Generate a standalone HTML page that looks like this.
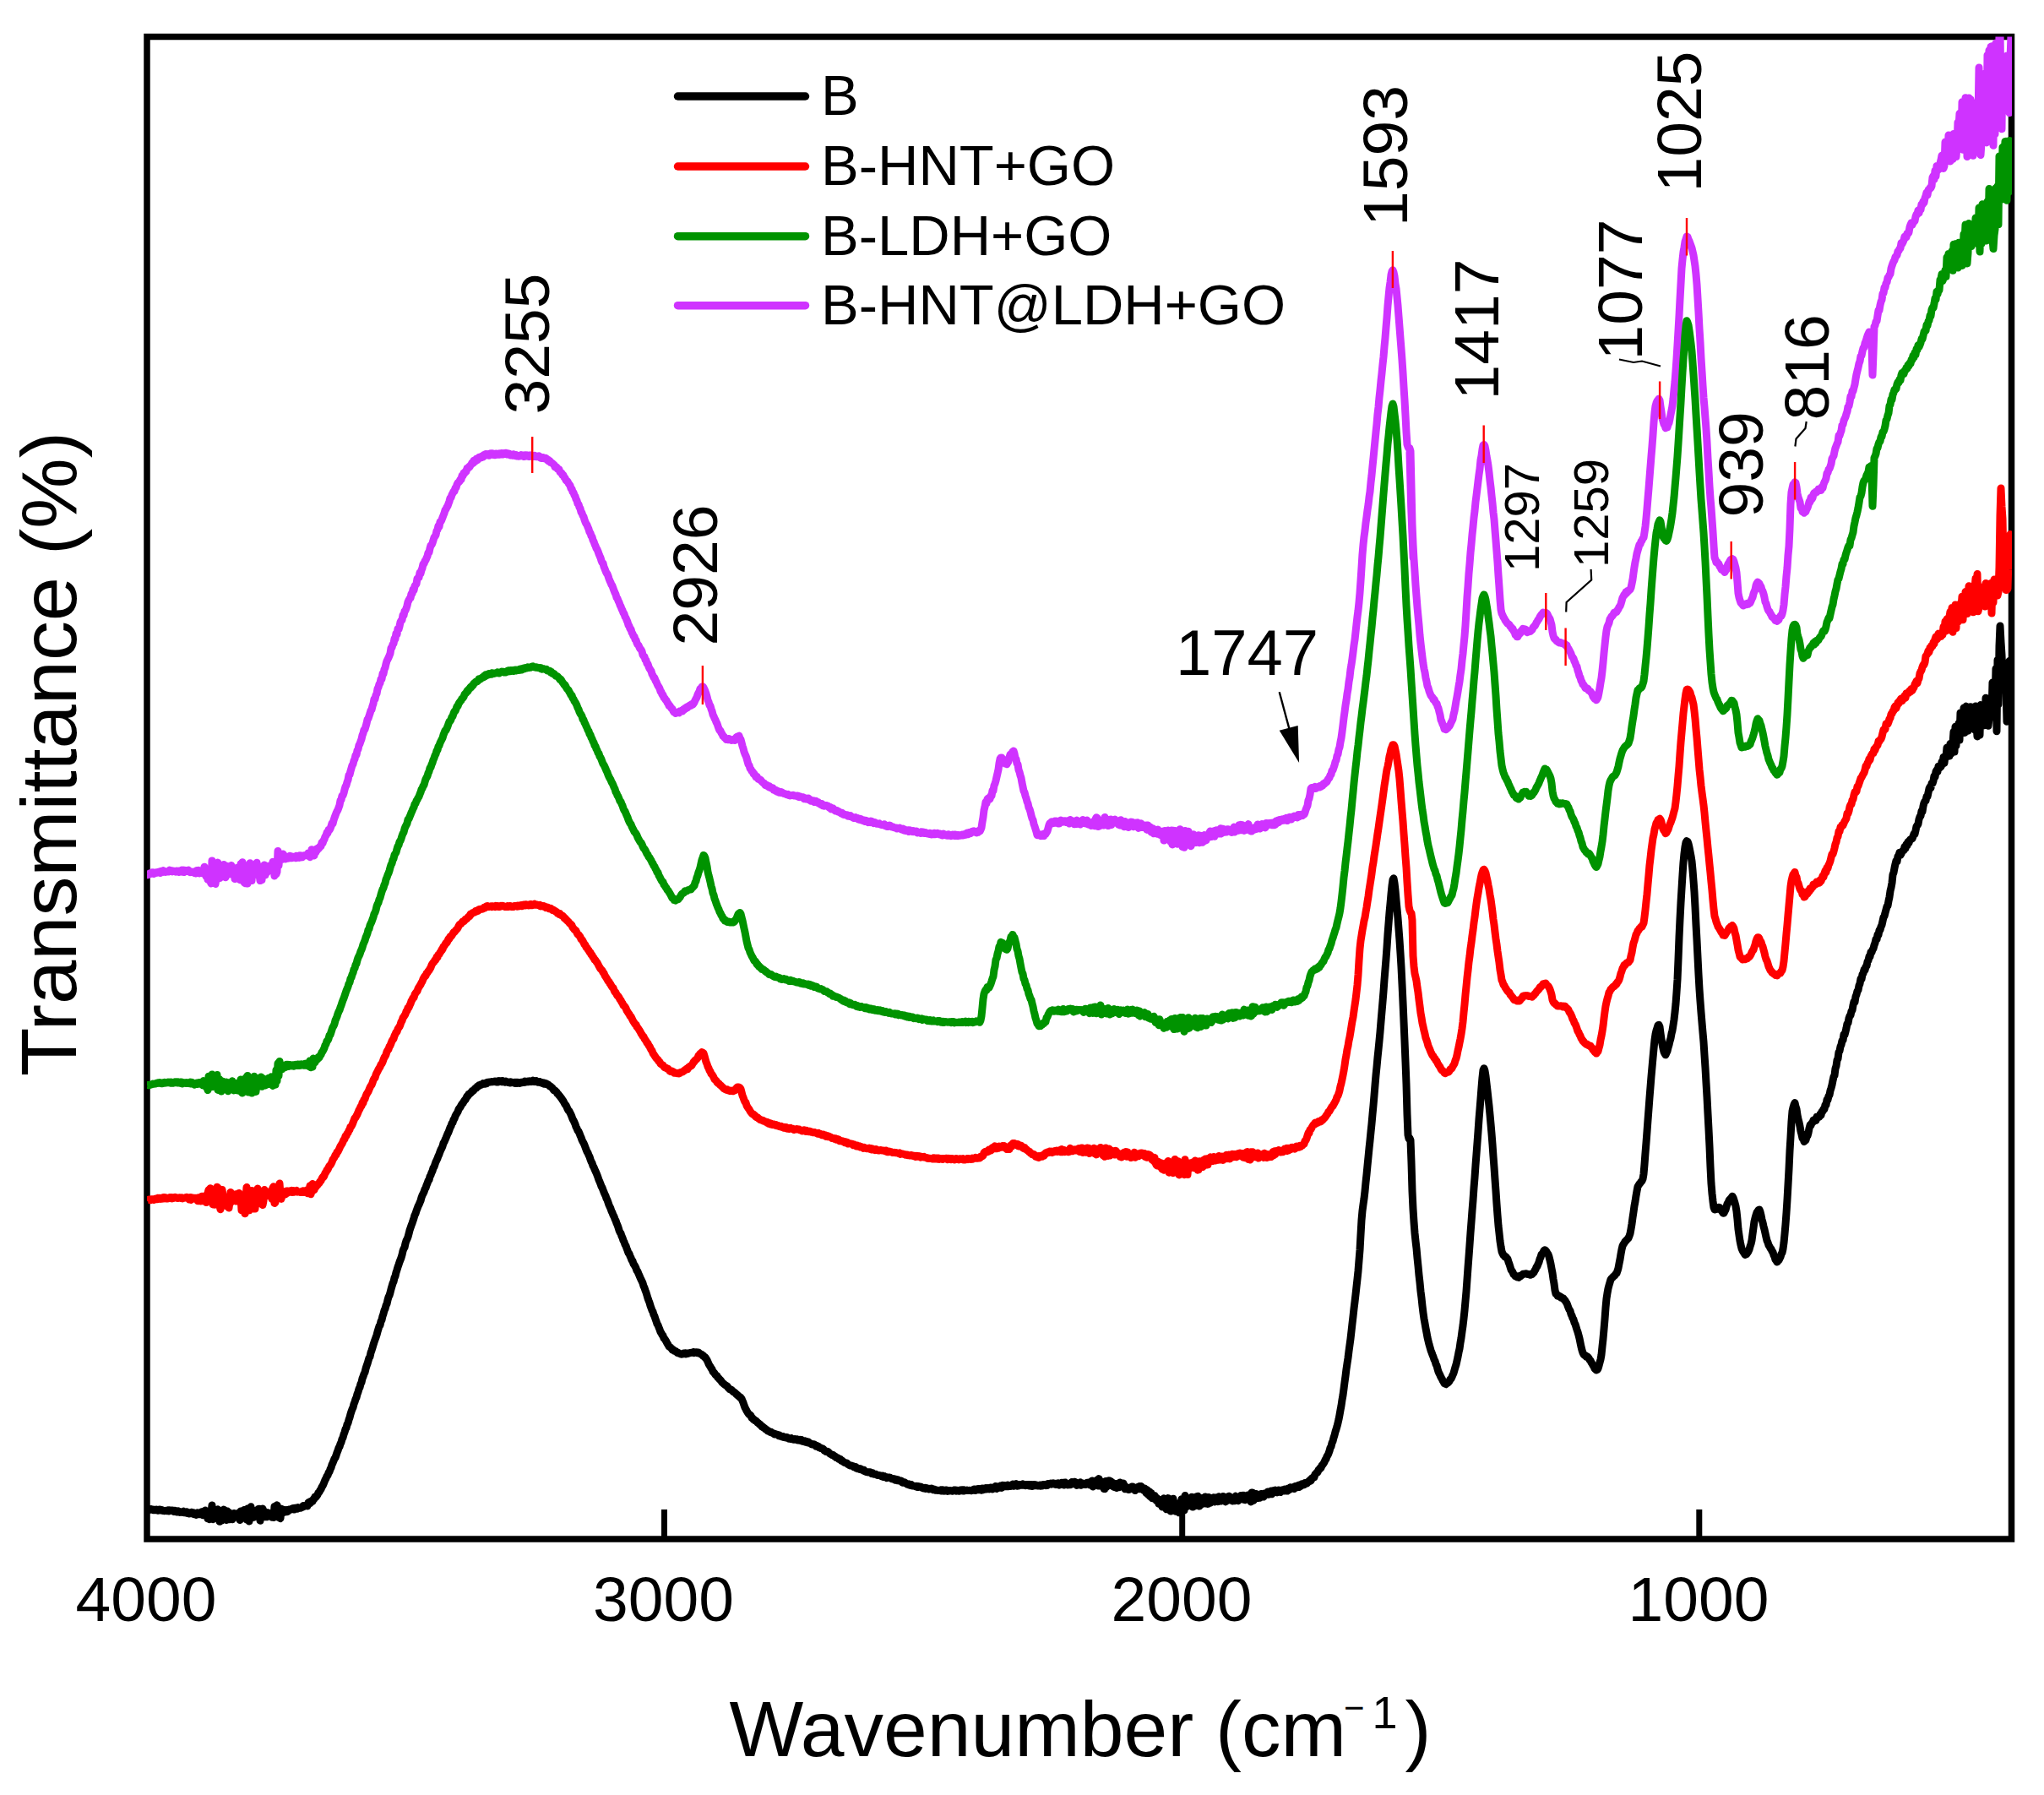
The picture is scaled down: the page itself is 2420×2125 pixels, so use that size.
<!DOCTYPE html>
<html><head><meta charset="utf-8"><title>FTIR spectra</title>
<style>html,body{margin:0;padding:0;background:#fff}svg{display:block}</style>
</head><body>
<svg width="2420" height="2125" viewBox="0 0 2420 2125" font-family="'Liberation Sans', Arial, sans-serif" fill="#000">
<rect width="2420" height="2125" fill="#fff"/>
<defs><clipPath id="c"><rect x="174.0" y="43.5" width="2208.0" height="1778.5"/></clipPath></defs>
<rect x="174.0" y="43.5" width="2207.5" height="1778.5" fill="none" stroke="#000" stroke-width="7.5"/>
<g stroke="#000" stroke-width="7">
<line x1="786.5" y1="1787" x2="786.5" y2="1822"/>
<line x1="1399.7" y1="1787" x2="1399.7" y2="1822"/>
<line x1="2011.8" y1="1787" x2="2011.8" y2="1822"/>
</g>
<g clip-path="url(#c)">
<path d="M1668.5,536 L1670.2,600 L1672.6,660" fill="none" stroke="#cf33ff" stroke-width="8" stroke-linecap="round"/>
<path d="M174.0,1035.7 L175.0,1035.8 L176.0,1035.5 L177.0,1034.1 L178.0,1034.6 L179.0,1033.1 L180.0,1033.8 L181.0,1032.8 L182.0,1034.4 L183.0,1033.9 L184.0,1033.6 L185.0,1032.7 L186.0,1033.2 L187.0,1032.3 L188.0,1032.1 L189.0,1031.9 L190.0,1033.5 L191.0,1031.3 L192.0,1031.4 L193.0,1030.8 L194.0,1032.2 L195.0,1031.6 L196.0,1032.4 L197.0,1031.8 L198.0,1031.7 L199.0,1032.1 L200.0,1032.0 L201.0,1030.2 L202.0,1030.6 L203.0,1030.7 L204.0,1031.9 L205.0,1031.0 L206.0,1031.4 L207.0,1031.6 L208.0,1032.2 L209.0,1031.0 L210.0,1031.8 L211.0,1031.2 L212.0,1032.5 L213.0,1031.1 L214.0,1031.8 L215.0,1030.1 L216.0,1032.2 L217.0,1030.1 L218.0,1032.5 L219.0,1030.3 L220.0,1031.8 L221.0,1030.6 L222.0,1030.7 L223.0,1030.1 L224.0,1031.0 L225.0,1032.7 L226.0,1031.9 L227.0,1032.5 L228.0,1032.4 L229.0,1032.1 L230.0,1033.5 L231.0,1032.6 L232.0,1034.1 L233.0,1030.5 L234.0,1033.4 L235.0,1030.2 L236.0,1033.9 L237.0,1032.6 L238.0,1033.5 L239.0,1031.0 L240.0,1033.9 L241.0,1031.3 L242.0,1026.2 L243.0,1033.8 L244.0,1037.5 L245.0,1029.3 L246.0,1041.3 L247.0,1039.8 L248.0,1034.5 L249.0,1043.8 L250.0,1046.0 L251.0,1018.9 L252.0,1041.0 L253.0,1035.4 L254.0,1035.9 L255.0,1046.4 L256.0,1040.4 L257.0,1029.7 L258.0,1021.1 L259.0,1024.8 L260.0,1039.5 L261.0,1028.4 L262.0,1037.5 L263.0,1030.0 L264.0,1034.1 L265.0,1023.5 L266.0,1037.9 L267.0,1038.7 L268.0,1036.5 L269.0,1025.4 L270.0,1034.1 L271.0,1029.4 L272.0,1032.2 L273.0,1034.8 L274.0,1024.6 L275.0,1027.7 L276.0,1029.7 L277.0,1029.0 L278.0,1040.5 L279.0,1036.2 L280.0,1038.3 L281.0,1027.3 L282.0,1036.8 L283.0,1028.2 L284.0,1041.7 L285.0,1022.7 L286.0,1031.0 L287.0,1020.8 L288.0,1032.1 L289.0,1044.5 L290.0,1045.7 L291.0,1030.5 L292.0,1039.9 L293.0,1046.0 L294.0,1034.7 L295.0,1023.9 L296.0,1021.7 L297.0,1026.0 L298.0,1042.6 L299.0,1029.7 L300.0,1035.7 L301.0,1028.3 L302.0,1035.2 L303.0,1028.4 L304.0,1021.3 L305.0,1025.8 L306.0,1028.2 L307.0,1035.4 L308.0,1042.6 L309.0,1027.1 L310.0,1041.7 L311.0,1026.7 L312.0,1035.8 L313.0,1024.0 L314.0,1036.1 L315.0,1027.1 L316.0,1033.0 L317.0,1025.7 L318.0,1028.0 L319.0,1025.1 L320.0,1030.4 L321.0,1026.7 L322.0,1025.3 L323.0,1020.3 L324.0,1025.4 L325.0,1037.0 L326.0,1035.1 L327.0,1034.8 L328.0,1032.2 L329.0,1007.4 L330.0,1024.5 L331.0,1013.8 L332.0,1015.0 L333.0,1015.5 L334.0,1017.5 L335.0,1011.0 L336.0,1012.2 L337.0,1014.9 L338.0,1016.9 L339.0,1014.2 L340.0,1016.3 L341.0,1016.3 L342.0,1014.4 L343.0,1013.3 L344.0,1015.7 L345.0,1013.8 L346.0,1015.8 L347.0,1014.4 L348.0,1014.5 L349.0,1013.9 L350.0,1015.7 L351.0,1013.2 L352.0,1015.4 L353.0,1013.9 L354.0,1015.4 L355.0,1012.7 L356.0,1015.1 L357.0,1012.9 L358.0,1014.8 L359.0,1013.1 L360.0,1013.2 L361.0,1012.7 L362.0,1012.2 L363.0,1011.9 L364.0,1012.8 L365.0,1009.9 L366.0,1011.1 L367.0,1014.7 L368.0,1012.3 L369.0,1005.7 L370.0,1010.5 L371.0,1011.1 L372.0,1012.9 L373.0,1005.9 L374.0,1009.0 L375.0,1004.7 L376.0,1006.1 L377.0,1003.7 L378.0,1003.9 L379.0,1001.7 L380.0,1001.7 L381.0,997.4 L382.0,998.3 L383.0,995.3 L384.0,993.5 L385.0,990.4 L386.0,989.1 L387.0,985.8 L388.0,986.0 L389.0,982.5 L390.0,982.6 L391.0,980.9 L392.0,978.2 L393.0,974.8 L394.0,975.2 L395.0,971.1 L396.0,968.1 L397.0,965.4 L398.0,962.7 L399.0,960.5 L400.0,958.9 L401.0,956.0 L402.0,953.3 L403.0,947.7 L404.0,946.7 L405.0,942.0 L406.0,941.8 L407.0,938.9 L408.0,934.8 L409.0,931.3 L410.0,929.6 L411.0,925.9 L412.0,923.4 L413.0,917.8 L414.0,917.1 L415.0,912.9 L416.0,909.5 L417.0,906.1 L418.0,904.5 L419.0,900.5 L420.0,898.5 L421.0,894.0 L422.0,893.7 L423.0,888.5 L424.0,886.9 L425.0,882.2 L426.0,880.7 L427.0,877.7 L428.0,874.9 L429.0,870.4 L430.0,868.0 L431.0,863.9 L432.0,863.4 L433.0,859.9 L434.0,856.6 L435.0,851.8 L436.0,850.7 L437.0,847.7 L438.0,844.7 L439.0,841.1 L440.0,840.1 L441.0,835.9 L442.0,833.0 L443.0,827.7 L444.0,827.6 L445.0,823.0 L446.0,821.3 L447.0,815.6 L448.0,813.6 L449.0,810.0 L450.0,808.7 L451.0,803.9 L452.0,803.9 L453.0,797.6 L454.0,797.6 L455.0,792.4 L456.0,790.4 L457.0,786.0 L458.0,782.5 L459.0,780.6 L460.0,778.6 L461.0,776.1 L462.0,773.6 L463.0,767.3 L464.0,766.6 L465.0,762.9 L466.0,762.1 L467.0,756.3 L468.0,756.2 L469.0,749.8 L470.0,751.0 L471.0,744.5 L472.0,745.0 L473.0,741.5 L474.0,736.6 L475.0,734.7 L476.0,734.0 L477.0,728.2 L478.0,728.6 L479.0,723.6 L480.0,722.7 L481.0,720.2 L482.0,717.0 L483.0,712.6 L484.0,710.7 L485.0,708.5 L486.0,708.0 L487.0,703.0 L488.0,702.8 L489.0,697.8 L490.0,698.9 L491.0,693.8 L492.0,692.5 L493.0,691.2 L494.0,685.1 L495.0,684.3 L496.0,683.6 L497.0,678.0 L498.0,679.0 L499.0,675.0 L500.0,672.5 L501.0,667.7 L502.0,667.5 L503.0,664.3 L504.0,663.3 L505.0,660.6 L506.0,658.6 L507.0,654.3 L508.0,654.0 L509.0,649.2 L510.0,645.7 L511.0,644.9 L512.0,642.9 L513.0,639.7 L514.0,636.3 L515.0,635.0 L516.0,633.2 L517.0,628.5 L518.0,627.1 L519.0,622.5 L520.0,623.5 L521.0,617.7 L522.0,617.5 L523.0,615.3 L524.0,612.6 L525.0,610.0 L526.0,607.5 L527.0,604.0 L528.0,602.8 L529.0,600.4 L530.0,599.2 L531.0,596.2 L532.0,593.5 L533.0,589.7 L534.0,589.1 L535.0,585.7 L536.0,584.0 L537.0,581.7 L538.0,581.6 L539.0,577.8 L540.0,577.4 L541.0,573.7 L542.0,571.7 L543.0,571.0 L544.0,569.9 L545.0,567.6 L546.0,567.8 L547.0,563.1 L548.0,563.4 L549.0,560.0 L550.0,560.4 L551.0,557.9 L552.0,558.0 L553.0,554.5 L554.0,554.7 L555.0,552.8 L556.0,552.8 L557.0,550.9 L558.0,549.9 L559.0,547.7 L560.0,548.6 L561.0,545.3 L562.0,546.7 L563.0,545.9 L564.0,543.2 L565.0,544.7 L566.0,543.8 L567.0,541.3 L568.0,542.2 L569.0,540.9 L570.0,541.7 L571.0,539.9 L572.0,541.0 L573.0,538.5 L574.0,538.5 L575.0,537.4 L576.0,538.7 L577.0,537.6 L578.0,538.3 L579.0,539.3 L580.0,537.2 L581.0,536.8 L582.0,538.1 L583.0,536.7 L584.0,538.5 L585.0,538.4 L586.0,538.7 L587.0,536.9 L588.0,536.9 L589.0,538.2 L590.0,538.3 L591.0,536.8 L592.0,538.1 L593.0,537.5 L594.0,536.5 L595.0,538.1 L596.0,537.4 L597.0,536.4 L598.0,537.4 L599.0,536.2 L600.0,538.0 L601.0,538.1 L602.0,536.9 L603.0,537.3 L604.0,538.9 L605.0,538.1 L606.0,539.1 L607.0,539.2 L608.0,537.7 L609.0,539.1 L610.0,539.6 L611.0,538.5 L612.0,540.0 L613.0,539.3 L614.0,540.2 L615.0,539.9 L616.0,539.9 L617.0,538.6 L618.0,539.3 L619.0,539.1 L620.0,540.5 L621.0,538.8 L622.0,540.2 L623.0,538.7 L624.0,540.1 L625.0,538.9 L626.0,540.5 L627.0,540.4 L628.0,538.9 L629.0,539.1 L630.0,540.2 L631.0,540.0 L632.0,540.5 L633.0,539.3 L634.0,540.3 L635.0,540.8 L636.0,540.7 L637.0,540.0 L638.0,539.7 L639.0,540.5 L640.0,542.1 L641.0,542.4 L642.0,542.3 L643.0,541.4 L644.0,542.7 L645.0,542.5 L646.0,542.3 L647.0,543.1 L648.0,544.9 L649.0,544.2 L650.0,546.3 L651.0,545.7 L652.0,547.6 L653.0,547.7 L654.0,548.5 L655.0,549.4 L656.0,550.2 L657.0,552.8 L658.0,552.3 L659.0,553.2 L660.0,555.1 L661.0,555.1 L662.0,555.8 L663.0,558.9 L664.0,559.6 L665.0,560.1 L666.0,562.7 L667.0,562.5 L668.0,565.2 L669.0,565.8 L670.0,568.4 L671.0,569.3 L672.0,570.0 L673.0,571.9 L674.0,573.4 L675.0,574.7 L676.0,578.3 L677.0,578.8 L678.0,582.2 L679.0,583.1 L680.0,586.2 L681.0,587.6 L682.0,590.8 L683.0,592.6 L684.0,596.2 L685.0,597.1 L686.0,600.6 L687.0,602.1 L688.0,606.3 L689.0,607.3 L690.0,610.3 L691.0,611.8 L692.0,615.2 L693.0,618.0 L694.0,620.1 L695.0,621.4 L696.0,624.2 L697.0,626.4 L698.0,629.9 L699.0,631.1 L700.0,634.5 L701.0,635.6 L702.0,639.4 L703.0,641.2 L704.0,644.2 L705.0,646.2 L706.0,649.2 L707.0,650.3 L708.0,652.8 L709.0,655.7 L710.0,658.1 L711.0,660.3 L712.0,663.9 L713.0,666.0 L714.0,666.9 L715.0,671.0 L716.0,673.3 L717.0,675.9 L718.0,678.3 L719.0,679.5 L720.0,681.9 L721.0,685.1 L722.0,687.6 L723.0,689.7 L724.0,692.3 L725.0,693.6 L726.0,696.5 L727.0,699.3 L728.0,701.7 L729.0,703.6 L730.0,707.3 L731.0,708.5 L732.0,711.3 L733.0,713.2 L734.0,716.2 L735.0,718.0 L736.0,720.9 L737.0,722.6 L738.0,725.5 L739.0,726.7 L740.0,730.1 L741.0,731.5 L742.0,734.1 L743.0,736.4 L744.0,740.0 L745.0,741.2 L746.0,744.6 L747.0,744.8 L748.0,748.7 L749.0,750.2 L750.0,752.9 L751.0,753.6 L752.0,757.0 L753.0,757.9 L754.0,761.2 L755.0,763.1 L756.0,763.9 L757.0,766.4 L758.0,768.1 L759.0,769.1 L760.0,771.0 L761.0,775.1 L762.0,776.8 L763.0,777.5 L764.0,781.1 L765.0,781.8 L766.0,785.6 L767.0,786.1 L768.0,789.2 L769.0,791.5 L770.0,792.9 L771.0,794.4 L772.0,798.0 L773.0,799.7 L774.0,802.2 L775.0,802.5 L776.0,805.7 L777.0,807.2 L778.0,809.6 L779.0,811.7 L780.0,813.2 L781.0,815.1 L782.0,818.6 L783.0,819.3 L784.0,822.5 L785.0,822.7 L786.0,826.1 L787.0,826.5 L788.0,828.6 L789.0,829.2 L790.0,831.7 L791.0,832.7 L792.0,835.3 L793.0,835.3 L794.0,837.2 L795.0,838.6 L796.0,839.2 L797.0,841.7 L798.0,843.1 L799.0,842.9 L800.0,844.5 L801.0,843.6 L802.0,843.2 L803.0,843.4 L804.0,843.8 L805.0,841.9 L806.0,842.4 L807.0,841.4 L808.0,841.9 L809.0,839.8 L810.0,840.1 L811.0,838.4 L812.0,839.0 L813.0,836.9 L814.0,837.7 L815.0,836.0 L816.0,835.5 L817.0,834.8 L818.0,835.4 L819.0,833.5 L820.0,834.3 L821.0,833.1 L822.0,831.5 L823.0,829.1 L824.0,827.3 L825.0,825.5 L826.0,822.4 L827.0,820.3 L828.0,818.8 L829.0,815.2 L830.0,814.9 L831.0,813.0 L832.0,812.7 L833.0,813.9 L834.0,815.9 L835.0,818.6 L836.0,821.2 L837.0,824.7 L838.0,828.7 L839.0,831.0 L840.0,834.8 L841.0,835.7 L842.0,839.3 L843.0,841.9 L844.0,845.9 L845.0,847.9 L846.0,850.5 L847.0,852.2 L848.0,854.9 L849.0,856.6 L850.0,859.7 L851.0,862.4 L852.0,864.8 L853.0,865.0 L854.0,867.7 L855.0,869.0 L856.0,871.6 L857.0,871.7 L858.0,873.5 L859.0,874.0 L860.0,875.6 L861.0,874.5 L862.0,875.8 L863.0,874.4 L864.0,875.3 L865.0,875.7 L866.0,876.4 L867.0,875.8 L868.0,876.2 L869.0,875.4 L870.0,876.5 L871.0,873.9 L872.0,872.7 L873.0,872.0 L874.0,872.4 L875.0,871.1 L876.0,874.2 L877.0,875.4 L878.0,879.2 L879.0,883.1 L880.0,886.1 L881.0,890.1 L882.0,892.7 L883.0,894.8 L884.0,897.6 L885.0,901.3 L886.0,904.9 L887.0,906.1 L888.0,909.6 L889.0,910.7 L890.0,912.9 L891.0,913.4 L892.0,916.0 L893.0,916.0 L894.0,918.0 L895.0,919.9 L896.0,919.1 L897.0,920.9 L898.0,922.4 L899.0,922.8 L900.0,923.0 L901.0,923.8 L902.0,925.4 L903.0,926.0 L904.0,927.3 L905.0,927.3 L906.0,929.5 L907.0,929.0 L908.0,929.5 L909.0,930.9 L910.0,931.6 L911.0,930.8 L912.0,932.7 L913.0,932.6 L914.0,932.9 L915.0,932.8 L916.0,935.2 L917.0,935.0 L918.0,936.2 L919.0,935.5 L920.0,937.1 L921.0,936.6 L922.0,938.1 L923.0,937.8 L924.0,938.4 L925.0,937.6 L926.0,938.2 L927.0,938.8 L928.0,939.6 L929.0,939.4 L930.0,940.1 L931.0,940.6 L932.0,940.8 L933.0,940.3 L934.0,941.5 L935.0,941.9 L936.0,941.8 L937.0,941.6 L938.0,941.6 L939.0,941.3 L940.0,942.0 L941.0,942.0 L942.0,941.9 L943.0,942.4 L944.0,942.1 L945.0,942.2 L946.0,943.7 L947.0,942.8 L948.0,943.5 L949.0,943.8 L950.0,943.7 L951.0,943.8 L952.0,945.7 L953.0,944.7 L954.0,945.9 L955.0,946.0 L956.0,946.0 L957.0,945.0 L958.0,947.1 L959.0,946.5 L960.0,948.1 L961.0,947.6 L962.0,948.0 L963.0,947.8 L964.0,949.6 L965.0,948.8 L966.0,948.3 L967.0,949.1 L968.0,950.3 L969.0,949.9 L970.0,951.4 L971.0,952.0 L972.0,952.6 L973.0,951.5 L974.0,953.7 L975.0,952.8 L976.0,954.3 L977.0,953.4 L978.0,953.4 L979.0,953.7 L980.0,954.0 L981.0,955.2 L982.0,956.4 L983.0,955.4 L984.0,957.9 L985.0,956.9 L986.0,956.8 L987.0,957.8 L988.0,959.1 L989.0,960.0 L990.0,960.2 L991.0,959.6 L992.0,961.0 L993.0,960.6 L994.0,961.7 L995.0,961.8 L996.0,963.1 L997.0,962.2 L998.0,963.9 L999.0,964.4 L1000.0,964.2 L1001.0,964.6 L1002.0,965.0 L1003.0,964.7 L1004.0,966.2 L1005.0,966.1 L1006.0,966.4 L1007.0,965.7 L1008.0,967.0 L1009.0,966.9 L1010.0,968.1 L1011.0,968.5 L1012.0,968.3 L1013.0,967.6 L1014.0,968.7 L1015.0,968.5 L1016.0,969.8 L1017.0,969.2 L1018.0,970.2 L1019.0,969.4 L1020.0,971.0 L1021.0,970.8 L1022.0,971.7 L1023.0,971.0 L1024.0,972.5 L1025.0,971.5 L1026.0,972.3 L1027.0,972.0 L1028.0,973.6 L1029.0,973.1 L1030.0,973.6 L1031.0,972.1 L1032.0,972.4 L1033.0,973.6 L1034.0,974.5 L1035.0,973.5 L1036.0,973.7 L1037.0,974.3 L1038.0,975.2 L1039.0,975.0 L1040.0,975.4 L1041.0,974.9 L1042.0,975.9 L1043.0,976.2 L1044.0,976.6 L1045.0,976.6 L1046.0,976.8 L1047.0,975.8 L1048.0,977.5 L1049.0,977.0 L1050.0,978.3 L1051.0,977.6 L1052.0,978.3 L1053.0,977.1 L1054.0,977.4 L1055.0,978.0 L1056.0,979.0 L1057.0,978.8 L1058.0,979.5 L1059.0,979.9 L1060.0,979.9 L1061.0,979.9 L1062.0,981.0 L1063.0,980.7 L1064.0,980.6 L1065.0,980.1 L1066.0,980.9 L1067.0,981.9 L1068.0,981.6 L1069.0,981.1 L1070.0,983.0 L1071.0,981.9 L1072.0,983.3 L1073.0,982.7 L1074.0,983.4 L1075.0,982.7 L1076.0,984.6 L1077.0,982.8 L1078.0,983.2 L1079.0,983.5 L1080.0,984.4 L1081.0,983.4 L1082.0,984.7 L1083.0,984.5 L1084.0,984.1 L1085.0,984.1 L1086.0,986.0 L1087.0,985.7 L1088.0,985.6 L1089.0,985.4 L1090.0,986.5 L1091.0,984.7 L1092.0,986.1 L1093.0,985.0 L1094.0,986.5 L1095.0,986.5 L1096.0,985.7 L1097.0,986.3 L1098.0,987.0 L1099.0,986.8 L1100.0,987.4 L1101.0,986.2 L1102.0,987.8 L1103.0,987.9 L1104.0,986.7 L1105.0,986.8 L1106.0,986.2 L1107.0,987.8 L1108.0,987.5 L1109.0,987.3 L1110.0,986.4 L1111.0,987.0 L1112.0,987.8 L1113.0,987.2 L1114.0,988.4 L1115.0,987.4 L1116.0,989.0 L1117.0,987.0 L1118.0,988.0 L1119.0,988.0 L1120.0,988.8 L1121.0,989.3 L1122.0,989.1 L1123.0,987.8 L1124.0,989.2 L1125.0,988.4 L1126.0,989.6 L1127.0,988.9 L1128.0,988.1 L1129.0,988.7 L1130.0,989.5 L1131.0,987.9 L1132.0,989.6 L1133.0,988.9 L1134.0,989.6 L1135.0,988.4 L1136.0,989.2 L1137.0,989.3 L1138.0,988.8 L1139.0,988.1 L1140.0,988.9 L1141.0,988.8 L1142.0,987.6 L1143.0,988.4 L1144.0,987.0 L1145.0,985.9 L1146.0,987.7 L1147.0,985.7 L1148.0,985.4 L1149.0,986.7 L1150.0,985.0 L1151.0,984.2 L1152.0,984.6 L1153.0,983.9 L1154.0,985.2 L1155.0,985.4 L1156.0,985.8 L1157.0,984.2 L1158.0,985.3 L1159.0,983.1 L1160.0,984.1 L1161.0,982.4 L1162.0,979.8 L1163.0,973.2 L1164.0,967.5 L1165.0,959.2 L1166.0,955.2 L1167.0,949.5 L1168.0,951.1 L1169.0,946.1 L1170.0,945.0 L1171.0,945.7 L1172.0,946.0 L1173.0,942.0 L1174.0,942.3 L1175.0,936.0 L1176.0,936.0 L1177.0,930.0 L1178.0,927.7 L1179.0,924.3 L1180.0,919.7 L1181.0,915.5 L1182.0,911.1 L1183.0,903.7 L1184.0,898.5 L1185.0,896.9 L1186.0,897.0 L1187.0,898.4 L1188.0,899.7 L1189.0,900.7 L1190.0,904.1 L1191.0,902.9 L1192.0,904.7 L1193.0,902.9 L1194.0,901.4 L1195.0,896.5 L1196.0,893.3 L1197.0,892.5 L1198.0,891.6 L1199.0,889.9 L1200.0,889.0 L1201.0,892.1 L1202.0,897.5 L1203.0,898.7 L1204.0,904.0 L1205.0,904.9 L1206.0,911.3 L1207.0,913.8 L1208.0,918.0 L1209.0,920.9 L1210.0,926.7 L1211.0,931.5 L1212.0,936.3 L1213.0,938.2 L1214.0,942.2 L1215.0,945.0 L1216.0,948.9 L1217.0,951.3 L1218.0,956.0 L1219.0,957.9 L1220.0,961.2 L1221.0,965.6 L1222.0,969.0 L1223.0,970.7 L1224.0,975.5 L1225.0,978.2 L1226.0,981.5 L1227.0,984.7 L1228.0,988.7 L1229.0,988.3 L1230.0,988.4 L1231.0,988.8 L1232.0,989.7 L1233.0,987.7 L1234.0,989.6 L1235.0,987.9 L1236.0,989.6 L1237.0,986.6 L1238.0,987.4 L1239.0,985.6 L1240.0,983.9 L1241.0,980.4 L1242.0,976.6 L1243.0,974.5 L1244.0,975.5 L1245.0,972.8 L1246.0,975.0 L1247.0,973.2 L1248.0,974.4 L1249.0,972.0 L1250.0,974.2 L1251.0,972.1 L1252.0,974.1 L1253.0,975.1 L1254.0,975.1 L1255.0,972.9 L1256.0,970.9 L1257.0,971.7 L1258.0,973.3 L1259.0,971.9 L1260.0,972.7 L1261.0,971.7 L1262.0,973.5 L1263.0,972.1 L1264.0,973.8 L1265.0,971.5 L1266.0,975.1 L1267.0,970.5 L1268.0,972.1 L1269.0,971.5 L1270.0,973.2 L1271.0,971.9 L1272.0,975.8 L1273.0,972.5 L1274.0,975.6 L1275.0,971.1 L1276.0,973.9 L1277.0,975.4 L1278.0,974.0 L1279.0,975.9 L1280.0,973.5 L1281.0,972.4 L1282.0,970.5 L1283.0,974.5 L1284.0,973.7 L1285.0,974.8 L1286.0,974.1 L1287.0,971.0 L1288.0,975.8 L1289.0,976.3 L1290.0,973.5 L1291.0,975.4 L1292.0,977.4 L1293.0,975.1 L1294.0,976.7 L1295.0,972.2 L1296.0,977.7 L1297.0,969.8 L1298.0,967.8 L1299.0,968.2 L1300.0,978.5 L1301.0,972.2 L1302.0,977.7 L1303.0,971.5 L1304.0,971.1 L1305.0,970.8 L1306.0,976.8 L1307.0,977.0 L1308.0,967.4 L1309.0,972.6 L1310.0,974.5 L1311.0,971.2 L1312.0,977.6 L1313.0,970.6 L1314.0,975.9 L1315.0,969.9 L1316.0,976.6 L1317.0,972.3 L1318.0,973.1 L1319.0,971.8 L1320.0,970.1 L1321.0,971.5 L1322.0,973.6 L1323.0,972.4 L1324.0,976.0 L1325.0,972.0 L1326.0,977.0 L1327.0,970.7 L1328.0,976.3 L1329.0,973.3 L1330.0,977.6 L1331.0,978.8 L1332.0,972.5 L1333.0,973.6 L1334.0,978.8 L1335.0,973.8 L1336.0,979.6 L1337.0,974.8 L1338.0,976.7 L1339.0,973.0 L1340.0,977.5 L1341.0,973.3 L1342.0,978.8 L1343.0,974.8 L1344.0,977.3 L1345.0,974.1 L1346.0,977.5 L1347.0,973.8 L1348.0,980.4 L1349.0,976.4 L1350.0,978.3 L1351.0,974.8 L1352.0,979.6 L1353.0,977.6 L1354.0,976.7 L1355.0,979.5 L1356.0,980.2 L1357.0,976.9 L1358.0,982.4 L1359.0,976.9 L1360.0,980.7 L1361.0,978.8 L1362.0,979.2 L1363.0,985.1 L1364.0,982.5 L1365.0,980.7 L1366.0,986.8 L1367.0,985.4 L1368.0,985.6 L1369.0,982.8 L1370.0,987.2 L1371.0,982.1 L1372.0,986.2 L1373.0,986.3 L1374.0,988.7 L1375.0,984.6 L1376.0,987.1 L1377.0,983.9 L1378.0,995.0 L1379.0,983.6 L1380.0,988.0 L1381.0,990.7 L1382.0,993.1 L1383.0,983.1 L1384.0,984.7 L1385.0,991.8 L1386.0,996.7 L1387.0,983.1 L1388.0,999.9 L1389.0,984.8 L1390.0,983.3 L1391.0,983.5 L1392.0,995.2 L1393.0,990.3 L1394.0,999.2 L1395.0,990.1 L1396.0,988.1 L1397.0,981.7 L1398.0,998.1 L1399.0,987.0 L1400.0,1002.6 L1401.0,989.5 L1402.0,1003.3 L1403.0,983.4 L1404.0,996.8 L1405.0,989.7 L1406.0,995.0 L1407.0,984.3 L1408.0,995.5 L1409.0,992.7 L1410.0,1001.8 L1411.0,998.9 L1412.0,988.0 L1413.0,987.7 L1414.0,994.8 L1415.0,992.7 L1416.0,997.6 L1417.0,994.8 L1418.0,997.3 L1419.0,988.7 L1420.0,997.7 L1421.0,989.3 L1422.0,993.5 L1423.0,994.0 L1424.0,997.2 L1425.0,990.7 L1426.0,988.5 L1427.0,990.1 L1428.0,994.9 L1429.0,988.8 L1430.0,991.2 L1431.0,991.3 L1432.0,985.3 L1433.0,983.9 L1434.0,990.6 L1435.0,985.7 L1436.0,987.4 L1437.0,983.8 L1438.0,990.2 L1439.0,985.7 L1440.0,982.8 L1441.0,984.7 L1442.0,983.6 L1443.0,987.0 L1444.0,987.1 L1445.0,980.8 L1446.0,987.0 L1447.0,982.7 L1448.0,981.3 L1449.0,982.0 L1450.0,985.2 L1451.0,984.8 L1452.0,985.1 L1453.0,981.8 L1454.0,981.8 L1455.0,981.9 L1456.0,984.2 L1457.0,983.5 L1458.0,985.4 L1459.0,985.3 L1460.0,983.1 L1461.0,979.1 L1462.0,985.0 L1463.0,982.7 L1464.0,983.3 L1465.0,982.7 L1466.0,983.3 L1467.0,976.7 L1468.0,981.2 L1469.0,976.3 L1470.0,982.8 L1471.0,976.8 L1472.0,982.4 L1473.0,983.4 L1474.0,981.0 L1475.0,982.6 L1476.0,980.7 L1477.0,981.8 L1478.0,975.6 L1479.0,980.4 L1480.0,979.8 L1481.0,983.9 L1482.0,984.0 L1483.0,983.0 L1484.0,980.8 L1485.0,982.3 L1486.0,979.4 L1487.0,981.7 L1488.0,981.1 L1489.0,976.0 L1490.0,980.2 L1491.0,977.5 L1492.0,981.0 L1493.0,976.6 L1494.0,975.5 L1495.0,976.8 L1496.0,977.5 L1497.0,976.1 L1498.0,980.0 L1499.0,974.6 L1500.0,974.6 L1501.0,976.9 L1502.0,974.6 L1503.0,975.9 L1504.0,974.3 L1505.0,974.9 L1506.0,976.8 L1507.0,973.9 L1508.0,976.6 L1509.0,976.7 L1510.0,976.1 L1511.0,971.8 L1512.0,974.5 L1513.0,971.1 L1514.0,973.6 L1515.0,970.6 L1516.0,970.7 L1517.0,970.1 L1518.0,971.6 L1519.0,969.7 L1520.0,971.3 L1521.0,969.4 L1522.0,970.4 L1523.0,968.2 L1524.0,971.6 L1525.0,970.0 L1526.0,969.2 L1527.0,967.2 L1528.0,968.7 L1529.0,970.0 L1530.0,968.1 L1531.0,966.7 L1532.0,966.2 L1533.0,967.3 L1534.0,967.5 L1535.0,966.1 L1536.0,967.9 L1537.0,964.4 L1538.0,966.8 L1539.0,964.4 L1540.0,965.9 L1541.0,964.2 L1542.0,965.6 L1543.0,963.7 L1544.0,964.3 L1545.0,962.1 L1546.0,958.6 L1547.0,956.0 L1548.0,953.8 L1549.0,947.5 L1550.0,945.3 L1551.0,940.6 L1552.0,933.7 L1553.0,932.5 L1554.0,934.0 L1555.0,933.1 L1556.0,931.9 L1557.0,931.3 L1558.0,933.4 L1559.0,932.3 L1560.0,932.2 L1561.0,931.3 L1562.0,932.1 L1563.0,930.2 L1564.0,931.4 L1565.0,929.5 L1566.0,930.0 L1567.0,927.6 L1568.0,928.2 L1569.0,926.4 L1570.0,926.2 L1571.0,925.5 L1572.0,923.1 L1573.0,921.7 L1574.0,920.7 L1575.0,917.7 L1576.0,916.7 L1577.0,912.2 L1578.0,911.7 L1579.0,908.8 L1580.0,905.8 L1581.0,901.9 L1582.0,900.0 L1583.0,894.8 L1584.0,892.9 L1585.0,887.3 L1586.0,884.7 L1587.0,878.5 L1588.0,873.6 L1589.0,866.3 L1590.0,858.5 L1591.0,849.9 L1592.0,842.9 L1593.0,835.1 L1594.0,829.1 L1595.0,821.3 L1596.0,815.8 L1597.0,807.2 L1598.0,801.6 L1599.0,792.6 L1600.0,786.8 L1601.0,779.9 L1602.0,772.1 L1603.0,763.9 L1604.0,757.4 L1605.0,748.3 L1606.0,739.0 L1607.0,730.3 L1608.0,722.7 L1609.0,713.2 L1610.0,701.9 L1611.0,687.6 L1612.0,672.3 L1613.0,656.3 L1614.0,644.8 L1615.0,635.3 L1616.0,628.2 L1617.0,619.0 L1618.0,611.8 L1619.0,603.9 L1620.0,597.4 L1621.0,588.7 L1622.0,582.0 L1623.0,571.1 L1624.0,562.6 L1625.0,552.0 L1626.0,542.2 L1627.0,531.9 L1628.0,521.8 L1629.0,511.5 L1630.0,501.9 L1631.0,490.2 L1632.0,482.0 L1633.0,470.4 L1634.0,461.6 L1635.0,451.0 L1636.0,441.9 L1637.0,431.6 L1638.0,422.5 L1639.0,410.7 L1640.0,400.3 L1641.0,387.7 L1642.0,375.8 L1643.0,362.1 L1644.0,351.3 L1645.0,340.9 L1646.0,334.1 L1647.0,325.4 L1648.0,321.2 L1649.0,319.7 L1650.0,322.4 L1651.0,327.0 L1652.0,336.0 L1653.0,341.5 L1654.0,351.5 L1655.0,361.7 L1656.0,374.6 L1657.0,387.3 L1658.0,400.5 L1659.0,413.1 L1660.0,426.4 L1661.0,441.4 L1662.0,458.3 L1663.0,473.6 L1664.0,491.5 L1665.0,511.3 L1666.0,526.1 L1667.0,529.1 L1668.0,531.0 L1669.0,530.8 L1670.0,534.1 L1671.0,576.6 L1672.0,620.0 L1673.0,644.1 L1674.0,661.9 L1675.0,676.6 L1676.0,692.5 L1677.0,705.7 L1678.0,718.6 L1679.0,729.4 L1680.0,739.7 L1681.0,752.0 L1682.0,761.5 L1683.0,769.9 L1684.0,778.1 L1685.0,785.5 L1686.0,791.8 L1687.0,796.0 L1688.0,802.5 L1689.0,806.7 L1690.0,812.2 L1691.0,814.4 L1692.0,818.1 L1693.0,820.8 L1694.0,823.2 L1695.0,824.6 L1696.0,825.4 L1697.0,828.3 L1698.0,827.9 L1699.0,830.2 L1700.0,832.2 L1701.0,832.7 L1702.0,836.4 L1703.0,838.5 L1704.0,842.8 L1705.0,846.4 L1706.0,852.2 L1707.0,854.3 L1708.0,857.3 L1709.0,859.1 L1710.0,862.7 L1711.0,862.5 L1712.0,863.8 L1713.0,862.5 L1714.0,862.1 L1715.0,860.5 L1716.0,859.5 L1717.0,857.9 L1718.0,855.4 L1719.0,853.5 L1720.0,851.2 L1721.0,845.8 L1722.0,841.9 L1723.0,836.3 L1724.0,830.0 L1725.0,824.8 L1726.0,819.0 L1727.0,812.8 L1728.0,806.9 L1729.0,798.8 L1730.0,792.2 L1731.0,782.0 L1732.0,774.0 L1733.0,763.4 L1734.0,753.3 L1735.0,740.3 L1736.0,723.9 L1737.0,706.7 L1738.0,694.0 L1739.0,678.9 L1740.0,667.7 L1741.0,654.3 L1742.0,644.4 L1743.0,632.8 L1744.0,623.4 L1745.0,612.9 L1746.0,604.9 L1747.0,594.3 L1748.0,586.5 L1749.0,578.3 L1750.0,569.9 L1751.0,561.8 L1752.0,555.0 L1753.0,544.7 L1754.0,539.6 L1755.0,532.0 L1756.0,527.0 L1757.0,526.4 L1758.0,528.1 L1759.0,533.1 L1760.0,539.9 L1761.0,545.1 L1762.0,551.5 L1763.0,559.4 L1764.0,568.8 L1765.0,576.7 L1766.0,586.6 L1767.0,595.5 L1768.0,606.5 L1769.0,614.9 L1770.0,627.6 L1771.0,639.8 L1772.0,652.9 L1773.0,665.6 L1774.0,681.1 L1775.0,694.8 L1776.0,709.9 L1777.0,721.7 L1778.0,726.3 L1779.0,728.3 L1780.0,730.6 L1781.0,732.0 L1782.0,734.3 L1783.0,735.5 L1784.0,737.1 L1785.0,738.3 L1786.0,738.7 L1787.0,739.5 L1788.0,741.8 L1789.0,742.1 L1790.0,744.4 L1791.0,744.3 L1792.0,747.1 L1793.0,747.8 L1794.0,751.3 L1795.0,751.1 L1796.0,753.8 L1797.0,753.7 L1798.0,751.4 L1799.0,750.5 L1800.0,749.7 L1801.0,746.9 L1802.0,745.9 L1803.0,744.4 L1804.0,744.7 L1805.0,744.7 L1806.0,745.0 L1807.0,746.0 L1808.0,748.6 L1809.0,748.3 L1810.0,748.0 L1811.0,747.4 L1812.0,747.4 L1813.0,746.2 L1814.0,745.4 L1815.0,743.1 L1816.0,741.8 L1817.0,741.1 L1818.0,739.5 L1819.0,737.2 L1820.0,735.8 L1821.0,734.0 L1822.0,732.8 L1823.0,730.6 L1824.0,728.9 L1825.0,727.4 L1826.0,727.1 L1827.0,725.0 L1828.0,726.0 L1829.0,725.6 L1830.0,725.2 L1831.0,725.9 L1832.0,727.0 L1833.0,729.3 L1834.0,731.1 L1835.0,732.5 L1836.0,736.1 L1837.0,739.7 L1838.0,748.0 L1839.0,752.6 L1840.0,755.4 L1841.0,756.7 L1842.0,757.0 L1843.0,758.8 L1844.0,759.4 L1845.0,760.2 L1846.0,760.9 L1847.0,760.4 L1848.0,760.6 L1849.0,761.6 L1850.0,761.6 L1851.0,761.9 L1852.0,762.9 L1853.0,762.3 L1854.0,764.4 L1855.0,763.8 L1856.0,766.9 L1857.0,767.9 L1858.0,769.8 L1859.0,771.8 L1860.0,773.8 L1861.0,777.0 L1862.0,778.1 L1863.0,779.7 L1864.0,782.9 L1865.0,784.7 L1866.0,787.8 L1867.0,789.2 L1868.0,793.7 L1869.0,796.5 L1870.0,800.3 L1871.0,802.2 L1872.0,805.9 L1873.0,807.3 L1874.0,810.3 L1875.0,810.8 L1876.0,812.5 L1877.0,814.7 L1878.0,815.0 L1879.0,814.8 L1880.0,815.5 L1881.0,817.6 L1882.0,818.1 L1883.0,818.7 L1884.0,820.1 L1885.0,821.6 L1886.0,824.6 L1887.0,825.9 L1888.0,827.3 L1889.0,827.2 L1890.0,828.8 L1891.0,827.3 L1892.0,825.2 L1893.0,820.3 L1894.0,814.6 L1895.0,808.3 L1896.0,802.8 L1897.0,794.4 L1898.0,784.5 L1899.0,773.3 L1900.0,763.6 L1901.0,754.3 L1902.0,746.5 L1903.0,741.9 L1904.0,739.8 L1905.0,737.4 L1906.0,733.0 L1907.0,731.5 L1908.0,729.7 L1909.0,729.1 L1910.0,727.7 L1911.0,725.3 L1912.0,725.6 L1913.0,724.4 L1914.0,724.6 L1915.0,722.2 L1916.0,721.2 L1917.0,718.6 L1918.0,717.6 L1919.0,715.0 L1920.0,711.6 L1921.0,707.7 L1922.0,706.0 L1923.0,703.7 L1924.0,703.8 L1925.0,700.8 L1926.0,702.0 L1927.0,699.4 L1928.0,699.8 L1929.0,698.5 L1930.0,697.9 L1931.0,695.7 L1932.0,691.0 L1933.0,686.0 L1934.0,678.5 L1935.0,671.4 L1936.0,665.6 L1937.0,660.8 L1938.0,655.3 L1939.0,651.8 L1940.0,648.2 L1941.0,644.7 L1942.0,644.3 L1943.0,641.0 L1944.0,639.9 L1945.0,637.4 L1946.0,636.6 L1947.0,630.2 L1948.0,623.3 L1949.0,613.6 L1950.0,602.3 L1951.0,590.2 L1952.0,578.4 L1953.0,565.4 L1954.0,552.7 L1955.0,540.0 L1956.0,528.2 L1957.0,514.8 L1958.0,500.2 L1959.0,488.3 L1960.0,480.7 L1961.0,477.1 L1962.0,474.7 L1963.0,473.6 L1964.0,472.2 L1965.0,473.8 L1966.0,481.3 L1967.0,487.8 L1968.0,495.2 L1969.0,498.7 L1970.0,502.3 L1971.0,503.3 L1972.0,506.7 L1973.0,506.1 L1974.0,506.0 L1975.0,502.6 L1976.0,500.7 L1977.0,496.2 L1978.0,490.8 L1979.0,485.9 L1980.0,480.7 L1981.0,472.1 L1982.0,461.4 L1983.0,452.0 L1984.0,439.1 L1985.0,424.7 L1986.0,408.6 L1987.0,391.6 L1988.0,373.9 L1989.0,354.5 L1990.0,336.3 L1991.0,317.7 L1992.0,307.4 L1993.0,298.4 L1994.0,292.7 L1995.0,286.1 L1996.0,283.3 L1997.0,280.0 L1998.0,280.4 L1999.0,283.6 L2000.0,285.3 L2001.0,288.2 L2002.0,290.7 L2003.0,293.5 L2004.0,297.7 L2005.0,302.0 L2006.0,308.6 L2007.0,315.2 L2008.0,324.7 L2009.0,336.6 L2010.0,353.1 L2011.0,369.9 L2012.0,388.9 L2013.0,404.8 L2014.0,424.1 L2015.0,439.5 L2016.0,455.9 L2017.0,470.8 L2018.0,481.9 L2019.0,494.8 L2020.0,507.8 L2021.0,523.6 L2022.0,542.4 L2023.0,558.4 L2024.0,575.7 L2025.0,590.1 L2026.0,601.6 L2027.0,615.6 L2028.0,629.8 L2029.0,646.0 L2030.0,660.0 L2031.0,662.5 L2032.0,665.9 L2033.0,665.2 L2034.0,667.3 L2035.0,667.6 L2036.0,670.6 L2037.0,671.5 L2038.0,674.3 L2039.0,674.4 L2040.0,675.3 L2041.0,675.9 L2042.0,677.5 L2043.0,675.6 L2044.0,674.4 L2045.0,670.2 L2046.0,667.5 L2047.0,666.4 L2048.0,664.3 L2049.0,662.7 L2050.0,662.1 L2051.0,661.6 L2052.0,662.3 L2053.0,664.8 L2054.0,668.6 L2055.0,672.2 L2056.0,677.9 L2057.0,689.2 L2058.0,702.3 L2059.0,707.3 L2060.0,710.7 L2061.0,713.7 L2062.0,714.6 L2063.0,715.8 L2064.0,717.0 L2065.0,715.8 L2066.0,715.4 L2067.0,714.8 L2068.0,715.7 L2069.0,714.3 L2070.0,715.1 L2071.0,714.0 L2072.0,713.8 L2073.0,711.6 L2074.0,709.1 L2075.0,707.2 L2076.0,703.1 L2077.0,700.3 L2078.0,698.1 L2079.0,693.0 L2080.0,690.6 L2081.0,689.2 L2082.0,689.8 L2083.0,691.0 L2084.0,693.1 L2085.0,694.7 L2086.0,698.4 L2087.0,700.0 L2088.0,703.2 L2089.0,707.2 L2090.0,712.7 L2091.0,714.3 L2092.0,718.1 L2093.0,721.2 L2094.0,723.2 L2095.0,724.0 L2096.0,726.3 L2097.0,727.7 L2098.0,730.3 L2099.0,730.5 L2100.0,732.1 L2101.0,732.0 L2102.0,734.7 L2103.0,733.6 L2104.0,735.4 L2105.0,733.6 L2106.0,733.6 L2107.0,731.0 L2108.0,729.1 L2109.0,729.3 L2110.0,726.8 L2111.0,722.4 L2112.0,715.9 L2113.0,703.8 L2114.0,694.7 L2115.0,681.9 L2116.0,672.3 L2117.0,657.1 L2118.0,646.7 L2119.0,626.0 L2120.0,596.9 L2121.0,582.6 L2122.0,577.9 L2123.0,573.4 L2124.0,573.0 L2125.0,570.8 L2126.0,571.7 L2127.0,576.4 L2128.0,584.1 L2129.0,588.7 L2130.0,591.3 L2131.0,594.4 L2132.0,601.3 L2133.0,601.4 L2134.0,605.6 L2135.0,605.5 L2136.0,607.3 L2137.0,605.3 L2138.0,605.5 L2139.0,602.5 L2140.0,601.3 L2141.0,598.0 L2142.0,594.0 L2143.0,594.1 L2144.0,589.0 L2145.0,591.1 L2146.0,589.6 L2147.0,585.1 L2148.0,583.5 L2149.0,583.7 L2150.0,582.0 L2151.0,582.4 L2152.0,581.1 L2153.0,579.1 L2154.0,579.2 L2155.0,578.4 L2156.0,580.4 L2157.0,576.4 L2158.0,577.7 L2159.0,573.4 L2160.0,570.7 L2161.0,569.1 L2162.0,566.3 L2163.0,560.3 L2164.0,559.8 L2165.0,555.7 L2166.0,554.9 L2167.0,552.2 L2168.0,549.2 L2169.0,543.1 L2170.0,541.4 L2171.0,539.6 L2172.0,534.5 L2173.0,530.4 L2174.0,528.0 L2175.0,525.3 L2176.0,523.3 L2177.0,515.8 L2178.0,515.8 L2179.0,512.5 L2180.0,509.8 L2181.0,503.2 L2182.0,502.4 L2183.0,497.9 L2184.0,495.6 L2185.0,493.7 L2186.0,490.0 L2187.0,487.1 L2188.0,481.4 L2189.0,480.7 L2190.0,476.0 L2191.0,469.1 L2192.0,469.6 L2193.0,463.1 L2194.0,463.1 L2195.0,458.8 L2196.0,455.1 L2197.0,448.6 L2198.0,443.1 L2199.0,439.1 L2200.0,435.0 L2201.0,430.3 L2202.0,427.7 L2203.0,421.7 L2204.0,420.9 L2205.0,415.8 L2206.0,412.1 L2207.0,411.3 L2208.0,406.3 L2209.0,404.0 L2210.0,400.8 L2211.0,397.4 L2212.0,395.3 L2213.0,392.9 L2214.0,394.3 L2215.0,395.2 L2216.0,406.6 L2217.0,444.1 L2218.0,418.1 L2219.0,386.6 L2220.0,385.4 L2221.0,380.7 L2222.0,380.4 L2223.0,373.7 L2224.0,367.5 L2225.0,367.3 L2226.0,361.3 L2227.0,357.2 L2228.0,355.0 L2229.0,347.5 L2230.0,347.0 L2231.0,340.4 L2232.0,340.4 L2233.0,335.4 L2234.0,334.1 L2235.0,328.8 L2236.0,328.2 L2237.0,325.6 L2238.0,324.4 L2239.0,317.9 L2240.0,314.7 L2241.0,311.8 L2242.0,309.5 L2243.0,308.0 L2244.0,304.1 L2245.0,303.1 L2246.0,302.0 L2247.0,297.4 L2248.0,296.9 L2249.0,294.6 L2250.0,293.9 L2251.0,287.6 L2252.0,288.8 L2253.0,286.8 L2254.0,284.3 L2255.0,280.1 L2256.0,281.5 L2257.0,280.7 L2258.0,276.2 L2259.0,276.8 L2260.0,275.1 L2261.0,269.0 L2262.0,266.0 L2263.0,263.7 L2264.0,266.4 L2265.0,263.5 L2266.0,262.6 L2267.0,261.6 L2268.0,256.5 L2269.0,253.7 L2270.0,253.7 L2271.0,248.9 L2272.0,252.2 L2273.0,247.5 L2274.0,248.3 L2275.0,241.8 L2276.0,242.5 L2277.0,238.3 L2278.0,240.0 L2279.0,234.5 L2280.0,231.8 L2281.0,228.0 L2282.0,230.9 L2283.0,224.9 L2284.0,224.6 L2285.0,222.3 L2286.0,222.6 L2287.0,220.2 L2288.0,210.1 L2289.0,208.3 L2290.0,212.3 L2291.0,202.0 L2292.0,208.6 L2293.0,196.4 L2294.0,202.0 L2295.0,199.7 L2296.0,200.3 L2297.0,193.1 L2298.0,189.5 L2299.0,184.1 L2300.0,188.9 L2301.0,199.5 L2302.0,196.3 L2303.0,168.1 L2304.0,172.7 L2305.0,177.4 L2306.0,189.5 L2307.0,160.0 L2308.0,189.1 L2309.0,191.1 L2310.0,184.5 L2311.0,178.8 L2312.0,188.3 L2313.0,158.4 L2314.0,178.9 L2315.0,159.8 L2316.0,185.6 L2317.0,173.7 L2318.0,144.7 L2319.0,151.5 L2320.0,134.3 L2321.0,144.1 L2322.0,171.1 L2323.0,120.8 L2324.0,177.2 L2325.0,177.1 L2326.0,136.1 L2327.0,115.7 L2328.0,131.4 L2329.0,185.6 L2330.0,181.1 L2331.0,116.0 L2332.0,177.6 L2333.0,117.7 L2334.0,172.3 L2335.0,131.2 L2336.0,184.3 L2337.0,174.5 L2338.0,127.1 L2339.0,122.0 L2340.0,162.1 L2341.0,171.3 L2342.0,141.8 L2343.0,80.1 L2344.0,148.7 L2345.0,183.5 L2346.0,169.0 L2347.0,100.0 L2348.0,147.0 L2349.0,116.3 L2350.0,132.7 L2351.0,86.2 L2352.0,168.9 L2353.0,65.1 L2354.0,97.2 L2355.0,59.4 L2356.0,98.3 L2357.0,55.3 L2358.0,54.8 L2359.0,128.0 L2360.0,172.3 L2361.0,64.6 L2362.0,158.9 L2363.0,50.9 L2364.0,70.6 L2365.0,70.7 L2366.0,130.7 L2367.0,40.4 L2368.0,35.3 L2369.0,113.2 L2370.0,152.8 L2371.0,73.4 L2372.0,109.1 L2373.0,74.3 L2374.0,130.5 L2375.0,108.8 L2376.0,66.1 L2377.0,72.3 L2378.0,105.1 L2379.0,133.7 L2380.0,70.0 L2381.0,41.5" fill="none" stroke="#cf33ff" stroke-width="9" stroke-linejoin="round" stroke-linecap="butt"/>
<path d="M174.0,1284.8 L175.0,1284.5 L176.0,1284.9 L177.0,1284.7 L178.0,1283.9 L179.0,1284.0 L180.0,1283.7 L181.0,1283.1 L182.0,1283.3 L183.0,1282.9 L184.0,1283.0 L185.0,1282.6 L186.0,1282.1 L187.0,1282.4 L188.0,1281.7 L189.0,1281.6 L190.0,1282.5 L191.0,1282.7 L192.0,1282.8 L193.0,1281.8 L194.0,1282.3 L195.0,1281.4 L196.0,1282.0 L197.0,1281.9 L198.0,1281.7 L199.0,1281.0 L200.0,1281.7 L201.0,1281.1 L202.0,1282.3 L203.0,1281.1 L204.0,1281.7 L205.0,1282.3 L206.0,1282.0 L207.0,1280.9 L208.0,1281.7 L209.0,1280.8 L210.0,1281.9 L211.0,1281.0 L212.0,1282.0 L213.0,1281.4 L214.0,1282.6 L215.0,1280.9 L216.0,1282.9 L217.0,1281.4 L218.0,1282.2 L219.0,1281.7 L220.0,1282.4 L221.0,1281.7 L222.0,1282.4 L223.0,1281.8 L224.0,1282.7 L225.0,1281.1 L226.0,1283.1 L227.0,1281.3 L228.0,1282.7 L229.0,1283.0 L230.0,1284.2 L231.0,1282.5 L232.0,1282.6 L233.0,1281.9 L234.0,1283.5 L235.0,1282.4 L236.0,1281.6 L237.0,1281.5 L238.0,1283.6 L239.0,1281.4 L240.0,1284.8 L241.0,1279.6 L242.0,1283.8 L243.0,1281.8 L244.0,1286.9 L245.0,1284.1 L246.0,1290.5 L247.0,1274.2 L248.0,1286.9 L249.0,1275.0 L250.0,1286.7 L251.0,1271.9 L252.0,1286.6 L253.0,1282.5 L254.0,1285.3 L255.0,1278.2 L256.0,1285.0 L257.0,1272.6 L258.0,1290.5 L259.0,1289.6 L260.0,1277.8 L261.0,1279.9 L262.0,1292.1 L263.0,1290.3 L264.0,1280.2 L265.0,1281.4 L266.0,1282.4 L267.0,1281.3 L268.0,1281.0 L269.0,1283.0 L270.0,1291.8 L271.0,1282.0 L272.0,1288.3 L273.0,1283.3 L274.0,1288.2 L275.0,1279.8 L276.0,1283.3 L277.0,1290.9 L278.0,1285.7 L279.0,1282.4 L280.0,1289.4 L281.0,1286.9 L282.0,1291.1 L283.0,1282.2 L284.0,1287.3 L285.0,1277.9 L286.0,1293.2 L287.0,1294.1 L288.0,1287.9 L289.0,1278.0 L290.0,1289.5 L291.0,1275.8 L292.0,1287.6 L293.0,1273.5 L294.0,1293.1 L295.0,1281.5 L296.0,1287.9 L297.0,1280.1 L298.0,1294.1 L299.0,1279.0 L300.0,1277.5 L301.0,1274.3 L302.0,1287.3 L303.0,1292.4 L304.0,1280.2 L305.0,1282.1 L306.0,1284.3 L307.0,1276.3 L308.0,1285.9 L309.0,1275.0 L310.0,1286.3 L311.0,1276.6 L312.0,1284.1 L313.0,1277.6 L314.0,1285.0 L315.0,1278.9 L316.0,1282.8 L317.0,1283.8 L318.0,1276.2 L319.0,1278.2 L320.0,1278.8 L321.0,1274.8 L322.0,1281.4 L323.0,1285.4 L324.0,1284.0 L325.0,1280.0 L326.0,1284.2 L327.0,1266.6 L328.0,1279.6 L329.0,1258.8 L330.0,1273.5 L331.0,1256.4 L332.0,1260.9 L333.0,1265.6 L334.0,1265.7 L335.0,1263.9 L336.0,1264.3 L337.0,1263.2 L338.0,1263.3 L339.0,1260.3 L340.0,1262.5 L341.0,1260.3 L342.0,1262.5 L343.0,1260.4 L344.0,1261.5 L345.0,1261.2 L346.0,1262.0 L347.0,1260.8 L348.0,1262.2 L349.0,1260.7 L350.0,1260.2 L351.0,1260.7 L352.0,1261.6 L353.0,1259.9 L354.0,1261.6 L355.0,1260.3 L356.0,1261.1 L357.0,1260.0 L358.0,1260.8 L359.0,1259.9 L360.0,1261.3 L361.0,1259.2 L362.0,1260.5 L363.0,1259.0 L364.0,1261.7 L365.0,1260.7 L366.0,1262.6 L367.0,1255.7 L368.0,1263.8 L369.0,1259.5 L370.0,1263.1 L371.0,1252.9 L372.0,1255.8 L373.0,1257.7 L374.0,1255.4 L375.0,1253.3 L376.0,1254.0 L377.0,1251.4 L378.0,1251.9 L379.0,1249.6 L380.0,1248.6 L381.0,1245.9 L382.0,1244.8 L383.0,1242.8 L384.0,1240.6 L385.0,1237.3 L386.0,1236.1 L387.0,1232.6 L388.0,1231.8 L389.0,1229.7 L390.0,1225.8 L391.0,1225.0 L392.0,1222.0 L393.0,1218.8 L394.0,1216.0 L395.0,1214.6 L396.0,1212.2 L397.0,1208.0 L398.0,1205.9 L399.0,1203.4 L400.0,1200.2 L401.0,1197.6 L402.0,1195.8 L403.0,1192.7 L404.0,1190.1 L405.0,1187.0 L406.0,1184.1 L407.0,1181.9 L408.0,1178.9 L409.0,1175.8 L410.0,1172.9 L411.0,1170.6 L412.0,1168.0 L413.0,1164.5 L414.0,1163.1 L415.0,1158.5 L416.0,1157.1 L417.0,1153.8 L418.0,1151.5 L419.0,1147.7 L420.0,1146.1 L421.0,1142.3 L422.0,1141.0 L423.0,1136.7 L424.0,1133.8 L425.0,1131.8 L426.0,1129.6 L427.0,1126.4 L428.0,1124.3 L429.0,1121.7 L430.0,1118.0 L431.0,1115.7 L432.0,1113.4 L433.0,1109.9 L434.0,1107.6 L435.0,1105.0 L436.0,1100.8 L437.0,1099.6 L438.0,1095.6 L439.0,1093.3 L440.0,1091.4 L441.0,1088.4 L442.0,1085.7 L443.0,1081.8 L444.0,1080.4 L445.0,1077.4 L446.0,1073.1 L447.0,1070.3 L448.0,1068.7 L449.0,1064.9 L450.0,1063.0 L451.0,1059.1 L452.0,1055.8 L453.0,1052.9 L454.0,1051.2 L455.0,1047.4 L456.0,1045.4 L457.0,1041.0 L458.0,1038.8 L459.0,1035.8 L460.0,1033.8 L461.0,1030.9 L462.0,1027.0 L463.0,1023.8 L464.0,1022.1 L465.0,1018.2 L466.0,1016.6 L467.0,1012.3 L468.0,1010.5 L469.0,1009.0 L470.0,1005.1 L471.0,1002.0 L472.0,1000.5 L473.0,996.7 L474.0,995.3 L475.0,992.8 L476.0,989.5 L477.0,986.9 L478.0,985.3 L479.0,981.2 L480.0,978.6 L481.0,976.8 L482.0,974.7 L483.0,970.3 L484.0,969.5 L485.0,967.0 L486.0,964.7 L487.0,961.9 L488.0,959.9 L489.0,957.3 L490.0,955.7 L491.0,951.9 L492.0,951.1 L493.0,948.1 L494.0,946.8 L495.0,944.5 L496.0,943.1 L497.0,940.2 L498.0,937.9 L499.0,934.5 L500.0,933.4 L501.0,930.5 L502.0,929.5 L503.0,925.6 L504.0,922.4 L505.0,920.4 L506.0,918.8 L507.0,915.2 L508.0,913.3 L509.0,909.2 L510.0,908.6 L511.0,905.1 L512.0,903.0 L513.0,899.4 L514.0,897.4 L515.0,894.3 L516.0,892.7 L517.0,888.8 L518.0,887.9 L519.0,883.8 L520.0,882.7 L521.0,879.6 L522.0,877.6 L523.0,875.6 L524.0,873.7 L525.0,870.0 L526.0,867.5 L527.0,864.9 L528.0,864.6 L529.0,862.2 L530.0,859.9 L531.0,856.9 L532.0,854.3 L533.0,853.5 L534.0,851.7 L535.0,848.7 L536.0,847.9 L537.0,844.7 L538.0,842.1 L539.0,841.9 L540.0,839.3 L541.0,836.4 L542.0,836.1 L543.0,833.1 L544.0,831.7 L545.0,830.1 L546.0,829.1 L547.0,826.9 L548.0,826.4 L549.0,825.0 L550.0,822.1 L551.0,821.0 L552.0,820.3 L553.0,817.9 L554.0,818.2 L555.0,815.8 L556.0,815.2 L557.0,813.4 L558.0,813.5 L559.0,811.4 L560.0,811.4 L561.0,809.0 L562.0,808.5 L563.0,807.3 L564.0,806.7 L565.0,806.8 L566.0,805.8 L567.0,803.8 L568.0,804.3 L569.0,803.9 L570.0,802.9 L571.0,802.1 L572.0,802.0 L573.0,800.4 L574.0,800.9 L575.0,798.7 L576.0,799.9 L577.0,798.3 L578.0,799.0 L579.0,797.4 L580.0,798.4 L581.0,797.1 L582.0,798.3 L583.0,796.7 L584.0,797.6 L585.0,797.6 L586.0,797.1 L587.0,796.7 L588.0,796.8 L589.0,795.9 L590.0,796.7 L591.0,797.0 L592.0,796.0 L593.0,795.8 L594.0,795.1 L595.0,795.3 L596.0,795.3 L597.0,796.0 L598.0,795.5 L599.0,795.9 L600.0,795.2 L601.0,794.1 L602.0,795.1 L603.0,793.7 L604.0,794.7 L605.0,793.5 L606.0,793.9 L607.0,793.6 L608.0,794.4 L609.0,793.3 L610.0,793.0 L611.0,794.0 L612.0,793.5 L613.0,793.0 L614.0,793.5 L615.0,792.3 L616.0,793.1 L617.0,792.1 L618.0,793.0 L619.0,791.8 L620.0,791.0 L621.0,791.7 L622.0,790.7 L623.0,790.2 L624.0,790.9 L625.0,789.9 L626.0,790.5 L627.0,790.0 L628.0,790.3 L629.0,789.2 L630.0,789.5 L631.0,788.9 L632.0,789.7 L633.0,789.6 L634.0,790.2 L635.0,789.7 L636.0,790.4 L637.0,790.3 L638.0,790.8 L639.0,790.6 L640.0,791.6 L641.0,791.0 L642.0,792.1 L643.0,791.5 L644.0,791.9 L645.0,792.3 L646.0,792.6 L647.0,792.4 L648.0,793.9 L649.0,793.7 L650.0,794.2 L651.0,794.3 L652.0,796.1 L653.0,795.6 L654.0,797.4 L655.0,797.2 L656.0,797.6 L657.0,798.8 L658.0,800.2 L659.0,800.2 L660.0,800.7 L661.0,801.9 L662.0,802.7 L663.0,804.6 L664.0,804.4 L665.0,806.0 L666.0,807.7 L667.0,809.0 L668.0,810.7 L669.0,810.9 L670.0,813.1 L671.0,814.8 L672.0,816.2 L673.0,816.8 L674.0,819.2 L675.0,820.6 L676.0,822.9 L677.0,823.2 L678.0,826.4 L679.0,827.6 L680.0,830.0 L681.0,831.3 L682.0,833.0 L683.0,835.2 L684.0,838.0 L685.0,839.7 L686.0,842.8 L687.0,844.8 L688.0,846.0 L689.0,847.9 L690.0,851.5 L691.0,852.2 L692.0,855.5 L693.0,857.0 L694.0,859.6 L695.0,861.5 L696.0,864.3 L697.0,865.5 L698.0,869.0 L699.0,869.9 L700.0,873.1 L701.0,874.8 L702.0,877.5 L703.0,879.1 L704.0,882.5 L705.0,883.4 L706.0,886.5 L707.0,888.2 L708.0,891.2 L709.0,892.0 L710.0,895.5 L711.0,896.9 L712.0,899.0 L713.0,901.9 L714.0,904.4 L715.0,905.6 L716.0,907.7 L717.0,910.1 L718.0,912.5 L719.0,914.4 L720.0,917.4 L721.0,919.5 L722.0,921.6 L723.0,923.1 L724.0,925.8 L725.0,927.2 L726.0,929.6 L727.0,932.1 L728.0,933.9 L729.0,937.4 L730.0,938.9 L731.0,941.8 L732.0,943.1 L733.0,945.6 L734.0,948.4 L735.0,949.0 L736.0,951.9 L737.0,953.7 L738.0,957.1 L739.0,959.2 L740.0,960.5 L741.0,962.9 L742.0,965.4 L743.0,967.5 L744.0,970.6 L745.0,972.7 L746.0,974.7 L747.0,975.8 L748.0,978.5 L749.0,980.5 L750.0,982.4 L751.0,984.6 L752.0,985.6 L753.0,987.1 L754.0,988.7 L755.0,991.4 L756.0,993.3 L757.0,995.1 L758.0,996.9 L759.0,997.5 L760.0,999.5 L761.0,1002.0 L762.0,1004.1 L763.0,1005.0 L764.0,1006.6 L765.0,1008.7 L766.0,1011.0 L767.0,1011.9 L768.0,1014.5 L769.0,1015.3 L770.0,1017.1 L771.0,1018.7 L772.0,1021.2 L773.0,1022.2 L774.0,1025.0 L775.0,1025.8 L776.0,1028.5 L777.0,1029.9 L778.0,1032.6 L779.0,1033.1 L780.0,1036.4 L781.0,1037.9 L782.0,1040.1 L783.0,1042.0 L784.0,1043.6 L785.0,1044.2 L786.0,1047.3 L787.0,1048.3 L788.0,1050.2 L789.0,1051.3 L790.0,1053.5 L791.0,1054.3 L792.0,1056.1 L793.0,1057.6 L794.0,1059.3 L795.0,1061.4 L796.0,1063.2 L797.0,1063.4 L798.0,1065.5 L799.0,1065.3 L800.0,1066.0 L801.0,1065.1 L802.0,1065.0 L803.0,1064.7 L804.0,1063.0 L805.0,1062.5 L806.0,1060.3 L807.0,1058.7 L808.0,1057.7 L809.0,1057.2 L810.0,1056.8 L811.0,1054.8 L812.0,1055.1 L813.0,1054.9 L814.0,1054.1 L815.0,1053.4 L816.0,1053.4 L817.0,1053.0 L818.0,1053.1 L819.0,1051.5 L820.0,1050.6 L821.0,1049.5 L822.0,1048.5 L823.0,1044.8 L824.0,1043.1 L825.0,1038.9 L826.0,1036.5 L827.0,1032.7 L828.0,1030.3 L829.0,1026.9 L830.0,1022.4 L831.0,1018.0 L832.0,1015.3 L833.0,1012.4 L834.0,1013.5 L835.0,1015.8 L836.0,1021.1 L837.0,1025.4 L838.0,1032.1 L839.0,1036.2 L840.0,1039.9 L841.0,1044.2 L842.0,1049.0 L843.0,1052.2 L844.0,1057.3 L845.0,1059.6 L846.0,1064.0 L847.0,1066.3 L848.0,1069.5 L849.0,1072.0 L850.0,1074.7 L851.0,1076.6 L852.0,1079.7 L853.0,1080.9 L854.0,1083.6 L855.0,1084.6 L856.0,1087.6 L857.0,1087.7 L858.0,1089.8 L859.0,1089.4 L860.0,1090.7 L861.0,1091.5 L862.0,1090.8 L863.0,1091.3 L864.0,1092.1 L865.0,1091.8 L866.0,1092.0 L867.0,1091.4 L868.0,1092.0 L869.0,1091.5 L870.0,1090.5 L871.0,1089.0 L872.0,1087.1 L873.0,1084.6 L874.0,1082.2 L875.0,1081.2 L876.0,1080.4 L877.0,1081.8 L878.0,1086.0 L879.0,1089.6 L880.0,1094.5 L881.0,1099.1 L882.0,1103.5 L883.0,1108.8 L884.0,1114.3 L885.0,1118.4 L886.0,1122.3 L887.0,1124.2 L888.0,1127.3 L889.0,1129.5 L890.0,1131.7 L891.0,1133.2 L892.0,1135.4 L893.0,1137.3 L894.0,1137.7 L895.0,1139.1 L896.0,1141.4 L897.0,1141.5 L898.0,1143.8 L899.0,1143.7 L900.0,1145.7 L901.0,1145.7 L902.0,1147.4 L903.0,1147.3 L904.0,1147.9 L905.0,1148.6 L906.0,1150.0 L907.0,1150.0 L908.0,1151.4 L909.0,1151.6 L910.0,1153.0 L911.0,1153.7 L912.0,1153.7 L913.0,1153.6 L914.0,1154.4 L915.0,1155.2 L916.0,1155.8 L917.0,1156.4 L918.0,1156.4 L919.0,1156.0 L920.0,1157.1 L921.0,1157.1 L922.0,1157.4 L923.0,1157.8 L924.0,1159.0 L925.0,1159.3 L926.0,1159.5 L927.0,1158.8 L928.0,1158.6 L929.0,1159.2 L930.0,1159.9 L931.0,1159.4 L932.0,1160.2 L933.0,1160.4 L934.0,1161.3 L935.0,1160.4 L936.0,1160.3 L937.0,1161.5 L938.0,1161.5 L939.0,1161.2 L940.0,1162.0 L941.0,1161.9 L942.0,1162.4 L943.0,1162.9 L944.0,1163.0 L945.0,1163.3 L946.0,1162.5 L947.0,1162.8 L948.0,1164.3 L949.0,1164.1 L950.0,1164.7 L951.0,1163.8 L952.0,1165.0 L953.0,1165.0 L954.0,1165.2 L955.0,1165.0 L956.0,1165.8 L957.0,1165.1 L958.0,1166.4 L959.0,1165.8 L960.0,1167.3 L961.0,1166.3 L962.0,1167.3 L963.0,1167.1 L964.0,1168.4 L965.0,1167.9 L966.0,1168.6 L967.0,1168.3 L968.0,1169.8 L969.0,1170.2 L970.0,1170.5 L971.0,1171.0 L972.0,1170.6 L973.0,1171.3 L974.0,1171.4 L975.0,1172.6 L976.0,1173.6 L977.0,1173.4 L978.0,1174.0 L979.0,1173.8 L980.0,1175.0 L981.0,1175.3 L982.0,1176.4 L983.0,1176.0 L984.0,1177.3 L985.0,1177.4 L986.0,1179.1 L987.0,1178.7 L988.0,1179.5 L989.0,1179.8 L990.0,1180.5 L991.0,1180.3 L992.0,1180.9 L993.0,1181.1 L994.0,1181.8 L995.0,1182.3 L996.0,1183.5 L997.0,1183.6 L998.0,1185.0 L999.0,1184.0 L1000.0,1185.6 L1001.0,1185.1 L1002.0,1186.7 L1003.0,1186.8 L1004.0,1187.2 L1005.0,1186.9 L1006.0,1188.7 L1007.0,1187.5 L1008.0,1189.0 L1009.0,1189.2 L1010.0,1189.7 L1011.0,1189.7 L1012.0,1189.3 L1013.0,1190.1 L1014.0,1191.3 L1015.0,1190.7 L1016.0,1192.0 L1017.0,1191.8 L1018.0,1192.4 L1019.0,1191.5 L1020.0,1191.6 L1021.0,1192.3 L1022.0,1192.5 L1023.0,1192.6 L1024.0,1193.8 L1025.0,1192.6 L1026.0,1194.1 L1027.0,1193.2 L1028.0,1194.0 L1029.0,1194.8 L1030.0,1193.8 L1031.0,1194.0 L1032.0,1195.4 L1033.0,1194.7 L1034.0,1195.6 L1035.0,1194.8 L1036.0,1196.1 L1037.0,1195.6 L1038.0,1196.5 L1039.0,1195.4 L1040.0,1196.8 L1041.0,1196.7 L1042.0,1196.0 L1043.0,1197.1 L1044.0,1197.4 L1045.0,1196.7 L1046.0,1198.0 L1047.0,1197.5 L1048.0,1198.6 L1049.0,1197.7 L1050.0,1198.5 L1051.0,1198.4 L1052.0,1199.4 L1053.0,1198.3 L1054.0,1199.3 L1055.0,1199.8 L1056.0,1200.1 L1057.0,1200.0 L1058.0,1200.1 L1059.0,1199.8 L1060.0,1201.1 L1061.0,1200.0 L1062.0,1201.0 L1063.0,1200.3 L1064.0,1201.7 L1065.0,1201.1 L1066.0,1201.3 L1067.0,1201.9 L1068.0,1201.6 L1069.0,1201.9 L1070.0,1202.6 L1071.0,1201.9 L1072.0,1203.4 L1073.0,1202.6 L1074.0,1204.0 L1075.0,1202.9 L1076.0,1204.4 L1077.0,1203.2 L1078.0,1204.6 L1079.0,1203.8 L1080.0,1204.0 L1081.0,1204.2 L1082.0,1205.7 L1083.0,1205.5 L1084.0,1205.7 L1085.0,1205.4 L1086.0,1205.1 L1087.0,1205.4 L1088.0,1206.6 L1089.0,1206.1 L1090.0,1206.5 L1091.0,1206.0 L1092.0,1207.5 L1093.0,1206.4 L1094.0,1206.8 L1095.0,1207.1 L1096.0,1207.0 L1097.0,1207.0 L1098.0,1208.5 L1099.0,1207.7 L1100.0,1208.5 L1101.0,1207.4 L1102.0,1208.7 L1103.0,1209.1 L1104.0,1209.0 L1105.0,1208.0 L1106.0,1208.9 L1107.0,1208.8 L1108.0,1209.1 L1109.0,1208.8 L1110.0,1209.5 L1111.0,1208.5 L1112.0,1208.6 L1113.0,1209.4 L1114.0,1210.2 L1115.0,1209.3 L1116.0,1210.4 L1117.0,1209.5 L1118.0,1210.5 L1119.0,1209.9 L1120.0,1209.6 L1121.0,1209.8 L1122.0,1210.3 L1123.0,1209.9 L1124.0,1209.8 L1125.0,1209.8 L1126.0,1210.6 L1127.0,1209.6 L1128.0,1209.5 L1129.0,1209.4 L1130.0,1210.7 L1131.0,1210.0 L1132.0,1210.6 L1133.0,1210.5 L1134.0,1210.4 L1135.0,1209.9 L1136.0,1210.0 L1137.0,1210.6 L1138.0,1210.3 L1139.0,1209.7 L1140.0,1210.5 L1141.0,1210.2 L1142.0,1209.8 L1143.0,1209.2 L1144.0,1210.5 L1145.0,1209.9 L1146.0,1210.5 L1147.0,1209.3 L1148.0,1210.1 L1149.0,1210.3 L1150.0,1209.6 L1151.0,1209.3 L1152.0,1210.6 L1153.0,1210.0 L1154.0,1209.9 L1155.0,1209.8 L1156.0,1208.9 L1157.0,1209.4 L1158.0,1208.9 L1159.0,1208.5 L1160.0,1210.3 L1161.0,1208.0 L1162.0,1202.9 L1163.0,1193.2 L1164.0,1182.7 L1165.0,1176.5 L1166.0,1173.8 L1167.0,1171.7 L1168.0,1172.2 L1169.0,1168.4 L1170.0,1169.2 L1171.0,1169.4 L1172.0,1167.2 L1173.0,1164.9 L1174.0,1161.8 L1175.0,1158.4 L1176.0,1156.0 L1177.0,1148.1 L1178.0,1144.1 L1179.0,1136.3 L1180.0,1134.3 L1181.0,1129.1 L1182.0,1125.9 L1183.0,1120.6 L1184.0,1120.0 L1185.0,1115.3 L1186.0,1116.5 L1187.0,1116.3 L1188.0,1121.4 L1189.0,1119.9 L1190.0,1123.3 L1191.0,1123.7 L1192.0,1124.2 L1193.0,1122.9 L1194.0,1118.0 L1195.0,1115.6 L1196.0,1113.2 L1197.0,1109.1 L1198.0,1108.3 L1199.0,1106.4 L1200.0,1109.2 L1201.0,1109.7 L1202.0,1114.0 L1203.0,1117.5 L1204.0,1123.4 L1205.0,1126.0 L1206.0,1131.7 L1207.0,1135.0 L1208.0,1140.8 L1209.0,1146.0 L1210.0,1150.8 L1211.0,1152.9 L1212.0,1158.6 L1213.0,1160.3 L1214.0,1164.7 L1215.0,1166.3 L1216.0,1170.5 L1217.0,1172.1 L1218.0,1176.8 L1219.0,1179.1 L1220.0,1182.4 L1221.0,1183.5 L1222.0,1188.0 L1223.0,1191.6 L1224.0,1196.9 L1225.0,1200.5 L1226.0,1205.2 L1227.0,1208.2 L1228.0,1211.8 L1229.0,1212.9 L1230.0,1214.7 L1231.0,1213.2 L1232.0,1214.6 L1233.0,1212.6 L1234.0,1213.1 L1235.0,1211.3 L1236.0,1211.6 L1237.0,1209.8 L1238.0,1209.7 L1239.0,1204.8 L1240.0,1204.1 L1241.0,1201.2 L1242.0,1199.3 L1243.0,1197.4 L1244.0,1196.6 L1245.0,1196.6 L1246.0,1195.8 L1247.0,1195.9 L1248.0,1197.2 L1249.0,1196.2 L1250.0,1197.0 L1251.0,1196.7 L1252.0,1197.2 L1253.0,1195.1 L1254.0,1196.9 L1255.0,1197.5 L1256.0,1197.1 L1257.0,1197.8 L1258.0,1197.2 L1259.0,1194.4 L1260.0,1197.8 L1261.0,1197.5 L1262.0,1196.8 L1263.0,1197.1 L1264.0,1196.4 L1265.0,1194.5 L1266.0,1194.7 L1267.0,1194.2 L1268.0,1195.8 L1269.0,1195.7 L1270.0,1194.5 L1271.0,1197.9 L1272.0,1196.4 L1273.0,1195.8 L1274.0,1197.0 L1275.0,1195.2 L1276.0,1196.4 L1277.0,1195.7 L1278.0,1195.4 L1279.0,1195.8 L1280.0,1195.5 L1281.0,1195.8 L1282.0,1197.2 L1283.0,1198.4 L1284.0,1198.2 L1285.0,1194.2 L1286.0,1194.6 L1287.0,1195.3 L1288.0,1196.5 L1289.0,1195.3 L1290.0,1199.7 L1291.0,1192.9 L1292.0,1193.8 L1293.0,1193.5 L1294.0,1199.4 L1295.0,1192.2 L1296.0,1197.4 L1297.0,1191.9 L1298.0,1199.7 L1299.0,1194.4 L1300.0,1197.9 L1301.0,1194.8 L1302.0,1192.7 L1303.0,1189.9 L1304.0,1201.1 L1305.0,1197.4 L1306.0,1197.2 L1307.0,1194.3 L1308.0,1197.3 L1309.0,1195.1 L1310.0,1200.1 L1311.0,1194.5 L1312.0,1193.5 L1313.0,1197.8 L1314.0,1200.9 L1315.0,1198.9 L1316.0,1197.1 L1317.0,1199.7 L1318.0,1197.7 L1319.0,1194.6 L1320.0,1197.8 L1321.0,1198.5 L1322.0,1197.9 L1323.0,1195.3 L1324.0,1197.5 L1325.0,1200.6 L1326.0,1197.8 L1327.0,1195.7 L1328.0,1198.6 L1329.0,1196.4 L1330.0,1196.1 L1331.0,1198.7 L1332.0,1199.4 L1333.0,1199.3 L1334.0,1198.8 L1335.0,1195.0 L1336.0,1200.2 L1337.0,1196.6 L1338.0,1196.8 L1339.0,1195.6 L1340.0,1199.3 L1341.0,1195.1 L1342.0,1197.8 L1343.0,1196.5 L1344.0,1199.6 L1345.0,1197.9 L1346.0,1196.0 L1347.0,1198.3 L1348.0,1201.9 L1349.0,1196.9 L1350.0,1203.0 L1351.0,1199.7 L1352.0,1201.1 L1353.0,1201.2 L1354.0,1202.1 L1355.0,1198.6 L1356.0,1203.7 L1357.0,1201.5 L1358.0,1201.9 L1359.0,1200.5 L1360.0,1205.2 L1361.0,1203.5 L1362.0,1206.2 L1363.0,1205.6 L1364.0,1204.5 L1365.0,1206.7 L1366.0,1203.2 L1367.0,1205.7 L1368.0,1210.4 L1369.0,1207.7 L1370.0,1210.8 L1371.0,1207.1 L1372.0,1213.7 L1373.0,1206.7 L1374.0,1210.1 L1375.0,1213.1 L1376.0,1214.3 L1377.0,1214.2 L1378.0,1217.3 L1379.0,1215.0 L1380.0,1215.2 L1381.0,1216.2 L1382.0,1209.2 L1383.0,1210.6 L1384.0,1214.0 L1385.0,1207.7 L1386.0,1214.8 L1387.0,1206.4 L1388.0,1216.0 L1389.0,1211.3 L1390.0,1218.6 L1391.0,1205.4 L1392.0,1210.3 L1393.0,1209.4 L1394.0,1218.1 L1395.0,1215.7 L1396.0,1217.1 L1397.0,1204.7 L1398.0,1204.4 L1399.0,1216.9 L1400.0,1204.6 L1401.0,1213.1 L1402.0,1221.2 L1403.0,1212.9 L1404.0,1218.1 L1405.0,1209.8 L1406.0,1217.9 L1407.0,1204.7 L1408.0,1216.9 L1409.0,1212.6 L1410.0,1214.8 L1411.0,1206.9 L1412.0,1211.7 L1413.0,1212.0 L1414.0,1214.7 L1415.0,1205.3 L1416.0,1215.9 L1417.0,1211.2 L1418.0,1216.7 L1419.0,1209.7 L1420.0,1215.3 L1421.0,1205.6 L1422.0,1215.4 L1423.0,1214.0 L1424.0,1205.4 L1425.0,1213.0 L1426.0,1212.4 L1427.0,1213.9 L1428.0,1213.9 L1429.0,1206.0 L1430.0,1210.4 L1431.0,1210.1 L1432.0,1208.5 L1433.0,1208.8 L1434.0,1210.5 L1435.0,1209.0 L1436.0,1203.7 L1437.0,1204.2 L1438.0,1204.4 L1439.0,1203.3 L1440.0,1204.2 L1441.0,1203.4 L1442.0,1207.2 L1443.0,1204.0 L1444.0,1207.7 L1445.0,1204.4 L1446.0,1208.1 L1447.0,1201.0 L1448.0,1207.2 L1449.0,1205.7 L1450.0,1205.4 L1451.0,1202.2 L1452.0,1201.8 L1453.0,1202.3 L1454.0,1205.9 L1455.0,1199.6 L1456.0,1204.4 L1457.0,1199.3 L1458.0,1203.3 L1459.0,1198.8 L1460.0,1205.4 L1461.0,1199.1 L1462.0,1204.9 L1463.0,1198.4 L1464.0,1203.4 L1465.0,1198.8 L1466.0,1200.8 L1467.0,1199.5 L1468.0,1203.0 L1469.0,1198.9 L1470.0,1202.0 L1471.0,1198.5 L1472.0,1201.9 L1473.0,1195.1 L1474.0,1196.3 L1475.0,1198.0 L1476.0,1201.4 L1477.0,1195.9 L1478.0,1202.2 L1479.0,1196.7 L1480.0,1195.9 L1481.0,1203.0 L1482.0,1202.4 L1483.0,1191.7 L1484.0,1200.0 L1485.0,1193.4 L1486.0,1192.2 L1487.0,1193.8 L1488.0,1197.2 L1489.0,1195.7 L1490.0,1196.0 L1491.0,1196.8 L1492.0,1196.4 L1493.0,1194.6 L1494.0,1193.8 L1495.0,1192.8 L1496.0,1196.8 L1497.0,1195.9 L1498.0,1198.0 L1499.0,1192.0 L1500.0,1197.7 L1501.0,1194.7 L1502.0,1195.8 L1503.0,1191.9 L1504.0,1195.0 L1505.0,1193.7 L1506.0,1195.4 L1507.0,1190.8 L1508.0,1192.3 L1509.0,1190.6 L1510.0,1189.2 L1511.0,1190.2 L1512.0,1192.4 L1513.0,1189.5 L1514.0,1190.8 L1515.0,1188.7 L1516.0,1189.6 L1517.0,1186.7 L1518.0,1189.4 L1519.0,1186.7 L1520.0,1190.2 L1521.0,1187.3 L1522.0,1187.5 L1523.0,1186.4 L1524.0,1186.8 L1525.0,1185.3 L1526.0,1186.5 L1527.0,1185.2 L1528.0,1186.6 L1529.0,1186.7 L1530.0,1186.3 L1531.0,1184.0 L1532.0,1184.2 L1533.0,1186.1 L1534.0,1184.9 L1535.0,1183.8 L1536.0,1185.4 L1537.0,1182.6 L1538.0,1184.3 L1539.0,1181.9 L1540.0,1182.4 L1541.0,1180.0 L1542.0,1181.1 L1543.0,1179.5 L1544.0,1179.0 L1545.0,1175.9 L1546.0,1173.9 L1547.0,1168.9 L1548.0,1167.3 L1549.0,1163.0 L1550.0,1160.5 L1551.0,1155.7 L1552.0,1152.8 L1553.0,1150.3 L1554.0,1149.7 L1555.0,1148.5 L1556.0,1148.5 L1557.0,1146.8 L1558.0,1147.5 L1559.0,1146.2 L1560.0,1146.8 L1561.0,1144.5 L1562.0,1145.3 L1563.0,1143.0 L1564.0,1142.3 L1565.0,1140.3 L1566.0,1139.0 L1567.0,1138.0 L1568.0,1135.2 L1569.0,1133.2 L1570.0,1132.2 L1571.0,1130.0 L1572.0,1128.0 L1573.0,1124.2 L1574.0,1122.9 L1575.0,1119.6 L1576.0,1117.1 L1577.0,1113.0 L1578.0,1110.4 L1579.0,1107.0 L1580.0,1104.1 L1581.0,1100.5 L1582.0,1098.2 L1583.0,1093.4 L1584.0,1089.3 L1585.0,1085.4 L1586.0,1081.1 L1587.0,1075.0 L1588.0,1067.2 L1589.0,1058.7 L1590.0,1049.5 L1591.0,1039.0 L1592.0,1031.2 L1593.0,1021.4 L1594.0,1013.4 L1595.0,1004.4 L1596.0,996.2 L1597.0,986.7 L1598.0,977.8 L1599.0,967.5 L1600.0,958.7 L1601.0,947.9 L1602.0,937.7 L1603.0,927.1 L1604.0,917.6 L1605.0,908.4 L1606.0,900.0 L1607.0,889.9 L1608.0,882.3 L1609.0,872.9 L1610.0,864.8 L1611.0,855.4 L1612.0,847.8 L1613.0,839.3 L1614.0,831.9 L1615.0,823.9 L1616.0,815.9 L1617.0,807.3 L1618.0,799.9 L1619.0,790.3 L1620.0,781.5 L1621.0,771.1 L1622.0,761.7 L1623.0,751.8 L1624.0,742.8 L1625.0,731.5 L1626.0,722.3 L1627.0,711.2 L1628.0,701.4 L1629.0,690.6 L1630.0,680.9 L1631.0,669.0 L1632.0,659.3 L1633.0,647.1 L1634.0,636.1 L1635.0,623.3 L1636.0,610.6 L1637.0,597.8 L1638.0,585.0 L1639.0,572.8 L1640.0,560.8 L1641.0,549.0 L1642.0,538.2 L1643.0,525.7 L1644.0,516.2 L1645.0,505.7 L1646.0,496.8 L1647.0,488.0 L1648.0,481.0 L1649.0,478.1 L1650.0,481.3 L1651.0,489.8 L1652.0,498.0 L1653.0,508.1 L1654.0,520.3 L1655.0,535.0 L1656.0,552.6 L1657.0,567.7 L1658.0,583.8 L1659.0,599.8 L1660.0,617.0 L1661.0,633.8 L1662.0,653.7 L1663.0,673.6 L1664.0,695.9 L1665.0,716.4 L1666.0,733.6 L1667.0,748.3 L1668.0,764.4 L1669.0,777.7 L1670.0,791.6 L1671.0,807.5 L1672.0,822.6 L1673.0,837.9 L1674.0,853.5 L1675.0,868.8 L1676.0,882.2 L1677.0,894.4 L1678.0,906.2 L1679.0,915.6 L1680.0,925.9 L1681.0,934.0 L1682.0,942.6 L1683.0,951.3 L1684.0,958.8 L1685.0,964.9 L1686.0,972.8 L1687.0,978.2 L1688.0,984.6 L1689.0,989.7 L1690.0,996.2 L1691.0,1001.2 L1692.0,1005.1 L1693.0,1009.5 L1694.0,1013.7 L1695.0,1017.8 L1696.0,1022.0 L1697.0,1025.4 L1698.0,1028.8 L1699.0,1030.7 L1700.0,1034.8 L1701.0,1036.8 L1702.0,1041.1 L1703.0,1044.3 L1704.0,1048.6 L1705.0,1052.6 L1706.0,1056.7 L1707.0,1060.0 L1708.0,1063.1 L1709.0,1066.2 L1710.0,1068.8 L1711.0,1069.4 L1712.0,1069.3 L1713.0,1069.0 L1714.0,1068.7 L1715.0,1066.8 L1716.0,1064.8 L1717.0,1063.1 L1718.0,1061.0 L1719.0,1059.8 L1720.0,1055.2 L1721.0,1052.0 L1722.0,1046.2 L1723.0,1039.5 L1724.0,1033.9 L1725.0,1026.0 L1726.0,1018.8 L1727.0,1011.2 L1728.0,1002.2 L1729.0,992.1 L1730.0,982.4 L1731.0,970.5 L1732.0,960.4 L1733.0,948.4 L1734.0,938.0 L1735.0,925.6 L1736.0,914.2 L1737.0,902.0 L1738.0,889.8 L1739.0,877.3 L1740.0,865.2 L1741.0,853.4 L1742.0,842.5 L1743.0,829.9 L1744.0,818.8 L1745.0,806.0 L1746.0,795.3 L1747.0,782.3 L1748.0,770.7 L1749.0,758.5 L1750.0,747.5 L1751.0,737.9 L1752.0,730.2 L1753.0,721.8 L1754.0,715.1 L1755.0,708.3 L1756.0,705.6 L1757.0,703.9 L1758.0,706.2 L1759.0,710.2 L1760.0,716.3 L1761.0,722.2 L1762.0,730.0 L1763.0,737.2 L1764.0,745.4 L1765.0,753.0 L1766.0,763.9 L1767.0,774.0 L1768.0,785.1 L1769.0,795.9 L1770.0,809.7 L1771.0,823.4 L1772.0,839.8 L1773.0,853.7 L1774.0,868.3 L1775.0,877.8 L1776.0,889.4 L1777.0,897.8 L1778.0,906.3 L1779.0,910.7 L1780.0,914.8 L1781.0,917.1 L1782.0,920.0 L1783.0,921.1 L1784.0,923.7 L1785.0,925.1 L1786.0,927.9 L1787.0,929.9 L1788.0,932.5 L1789.0,934.1 L1790.0,937.1 L1791.0,938.3 L1792.0,941.1 L1793.0,941.2 L1794.0,942.3 L1795.0,944.3 L1796.0,945.0 L1797.0,945.5 L1798.0,946.1 L1799.0,944.4 L1800.0,944.4 L1801.0,941.5 L1802.0,940.0 L1803.0,938.0 L1804.0,937.9 L1805.0,937.2 L1806.0,937.6 L1807.0,937.4 L1808.0,939.9 L1809.0,940.0 L1810.0,942.3 L1811.0,941.9 L1812.0,942.5 L1813.0,942.0 L1814.0,941.2 L1815.0,938.4 L1816.0,938.4 L1817.0,936.7 L1818.0,935.1 L1819.0,932.2 L1820.0,930.7 L1821.0,929.0 L1822.0,927.1 L1823.0,924.3 L1824.0,922.1 L1825.0,919.7 L1826.0,917.7 L1827.0,914.7 L1828.0,912.3 L1829.0,910.0 L1830.0,911.0 L1831.0,911.0 L1832.0,912.8 L1833.0,914.6 L1834.0,916.8 L1835.0,918.6 L1836.0,921.6 L1837.0,927.0 L1838.0,936.5 L1839.0,941.9 L1840.0,945.2 L1841.0,946.6 L1842.0,949.2 L1843.0,949.5 L1844.0,951.3 L1845.0,951.1 L1846.0,951.8 L1847.0,950.7 L1848.0,951.6 L1849.0,950.9 L1850.0,950.8 L1851.0,951.1 L1852.0,951.6 L1853.0,951.7 L1854.0,951.6 L1855.0,952.0 L1856.0,954.4 L1857.0,955.7 L1858.0,959.1 L1859.0,960.3 L1860.0,964.0 L1861.0,966.7 L1862.0,968.3 L1863.0,970.0 L1864.0,973.0 L1865.0,974.8 L1866.0,978.2 L1867.0,979.9 L1868.0,983.2 L1869.0,985.2 L1870.0,989.0 L1871.0,991.8 L1872.0,995.9 L1873.0,998.2 L1874.0,1002.6 L1875.0,1004.3 L1876.0,1006.4 L1877.0,1007.0 L1878.0,1009.0 L1879.0,1009.3 L1880.0,1010.8 L1881.0,1010.2 L1882.0,1011.1 L1883.0,1012.8 L1884.0,1014.8 L1885.0,1016.1 L1886.0,1019.5 L1887.0,1021.3 L1888.0,1023.7 L1889.0,1025.3 L1890.0,1026.5 L1891.0,1024.9 L1892.0,1022.8 L1893.0,1018.3 L1894.0,1014.4 L1895.0,1007.9 L1896.0,1002.6 L1897.0,996.4 L1898.0,988.3 L1899.0,978.1 L1900.0,969.6 L1901.0,960.8 L1902.0,952.9 L1903.0,945.0 L1904.0,935.9 L1905.0,930.0 L1906.0,925.9 L1907.0,923.6 L1908.0,922.1 L1909.0,920.1 L1910.0,919.0 L1911.0,918.5 L1912.0,917.8 L1913.0,916.2 L1914.0,914.2 L1915.0,910.9 L1916.0,907.4 L1917.0,902.4 L1918.0,898.1 L1919.0,894.7 L1920.0,891.2 L1921.0,888.4 L1922.0,886.7 L1923.0,885.1 L1924.0,883.8 L1925.0,883.0 L1926.0,882.0 L1927.0,881.3 L1928.0,880.0 L1929.0,877.0 L1930.0,873.8 L1931.0,867.4 L1932.0,859.9 L1933.0,853.4 L1934.0,847.5 L1935.0,839.9 L1936.0,833.6 L1937.0,826.0 L1938.0,821.5 L1939.0,817.1 L1940.0,817.1 L1941.0,814.7 L1942.0,814.2 L1943.0,814.4 L1944.0,812.8 L1945.0,809.8 L1946.0,806.4 L1947.0,798.5 L1948.0,788.1 L1949.0,778.6 L1950.0,767.5 L1951.0,755.2 L1952.0,742.0 L1953.0,727.2 L1954.0,714.5 L1955.0,699.4 L1956.0,685.9 L1957.0,672.9 L1958.0,660.5 L1959.0,649.5 L1960.0,639.6 L1961.0,631.0 L1962.0,626.1 L1963.0,620.5 L1964.0,618.1 L1965.0,615.8 L1966.0,617.5 L1967.0,623.4 L1968.0,630.6 L1969.0,635.2 L1970.0,637.3 L1971.0,638.0 L1972.0,639.9 L1973.0,640.5 L1974.0,638.8 L1975.0,635.5 L1976.0,630.8 L1977.0,626.3 L1978.0,620.6 L1979.0,614.4 L1980.0,607.3 L1981.0,598.0 L1982.0,588.8 L1983.0,576.8 L1984.0,565.5 L1985.0,553.0 L1986.0,540.3 L1987.0,525.1 L1988.0,509.0 L1989.0,492.4 L1990.0,476.8 L1991.0,458.2 L1992.0,441.1 L1993.0,425.4 L1994.0,412.0 L1995.0,396.6 L1996.0,385.7 L1997.0,379.7 L1998.0,381.8 L1999.0,384.8 L2000.0,391.1 L2001.0,398.7 L2002.0,406.6 L2003.0,415.8 L2004.0,429.1 L2005.0,443.1 L2006.0,458.0 L2007.0,472.4 L2008.0,490.2 L2009.0,506.9 L2010.0,523.7 L2011.0,540.9 L2012.0,558.7 L2013.0,575.2 L2014.0,591.1 L2015.0,603.9 L2016.0,617.4 L2017.0,630.7 L2018.0,647.1 L2019.0,665.1 L2020.0,685.6 L2021.0,705.7 L2022.0,728.7 L2023.0,750.5 L2024.0,769.2 L2025.0,783.8 L2026.0,798.1 L2027.0,807.9 L2028.0,814.5 L2029.0,819.2 L2030.0,822.1 L2031.0,824.3 L2032.0,826.8 L2033.0,828.1 L2034.0,831.0 L2035.0,833.2 L2036.0,835.0 L2037.0,837.5 L2038.0,839.1 L2039.0,840.3 L2040.0,841.8 L2041.0,840.9 L2042.0,839.5 L2043.0,839.2 L2044.0,838.0 L2045.0,835.3 L2046.0,834.9 L2047.0,833.7 L2048.0,832.5 L2049.0,831.2 L2050.0,829.3 L2051.0,829.4 L2052.0,830.9 L2053.0,832.2 L2054.0,836.8 L2055.0,840.6 L2056.0,845.8 L2057.0,855.4 L2058.0,867.4 L2059.0,872.8 L2060.0,879.2 L2061.0,882.1 L2062.0,885.1 L2063.0,883.9 L2064.0,884.4 L2065.0,883.6 L2066.0,884.1 L2067.0,883.0 L2068.0,883.4 L2069.0,883.5 L2070.0,882.9 L2071.0,881.8 L2072.0,881.3 L2073.0,878.1 L2074.0,875.8 L2075.0,873.3 L2076.0,870.0 L2077.0,866.3 L2078.0,862.2 L2079.0,856.7 L2080.0,853.4 L2081.0,850.8 L2082.0,852.0 L2083.0,853.0 L2084.0,856.6 L2085.0,859.0 L2086.0,863.4 L2087.0,867.3 L2088.0,872.3 L2089.0,877.8 L2090.0,883.5 L2091.0,887.5 L2092.0,891.6 L2093.0,894.4 L2094.0,898.9 L2095.0,901.3 L2096.0,903.9 L2097.0,905.7 L2098.0,908.6 L2099.0,909.5 L2100.0,912.1 L2101.0,912.7 L2102.0,915.2 L2103.0,915.1 L2104.0,917.2 L2105.0,916.2 L2106.0,914.5 L2107.0,914.4 L2108.0,910.4 L2109.0,909.6 L2110.0,906.9 L2111.0,901.4 L2112.0,895.2 L2113.0,883.4 L2114.0,873.3 L2115.0,860.5 L2116.0,845.9 L2117.0,826.9 L2118.0,806.8 L2119.0,787.3 L2120.0,771.4 L2121.0,756.2 L2122.0,746.1 L2123.0,741.4 L2124.0,739.6 L2125.0,739.3 L2126.0,740.3 L2127.0,742.9 L2128.0,750.7 L2129.0,754.1 L2130.0,757.1 L2131.0,762.2 L2132.0,768.7 L2133.0,771.5 L2134.0,776.8 L2135.0,779.3 L2136.0,777.7 L2137.0,776.8 L2138.0,776.4 L2139.0,775.6 L2140.0,775.6 L2141.0,770.8 L2142.0,768.5 L2143.0,766.6 L2144.0,766.2 L2145.0,764.0 L2146.0,763.7 L2147.0,761.1 L2148.0,763.2 L2149.0,759.3 L2150.0,761.4 L2151.0,758.2 L2152.0,758.2 L2153.0,757.8 L2154.0,755.4 L2155.0,753.9 L2156.0,753.7 L2157.0,751.1 L2158.0,748.3 L2159.0,746.5 L2160.0,747.4 L2161.0,745.5 L2162.0,741.6 L2163.0,736.5 L2164.0,734.2 L2165.0,731.6 L2166.0,731.7 L2167.0,727.2 L2168.0,722.8 L2169.0,718.4 L2170.0,715.7 L2171.0,709.4 L2172.0,705.2 L2173.0,700.1 L2174.0,696.9 L2175.0,691.3 L2176.0,686.2 L2177.0,684.9 L2178.0,680.7 L2179.0,676.7 L2180.0,673.4 L2181.0,667.7 L2182.0,667.8 L2183.0,662.4 L2184.0,662.2 L2185.0,657.5 L2186.0,654.1 L2187.0,651.2 L2188.0,647.8 L2189.0,645.8 L2190.0,645.9 L2191.0,639.1 L2192.0,637.1 L2193.0,633.5 L2194.0,630.2 L2195.0,622.7 L2196.0,618.2 L2197.0,613.1 L2198.0,610.0 L2199.0,606.0 L2200.0,601.2 L2201.0,595.2 L2202.0,588.7 L2203.0,587.3 L2204.0,583.6 L2205.0,576.4 L2206.0,571.5 L2207.0,569.0 L2208.0,568.1 L2209.0,566.0 L2210.0,562.5 L2211.0,560.8 L2212.0,558.6 L2213.0,552.9 L2214.0,553.3 L2215.0,551.6 L2216.0,561.4 L2217.0,599.2 L2218.0,574.8 L2219.0,542.1 L2220.0,540.1 L2221.0,537.3 L2222.0,531.2 L2223.0,530.3 L2224.0,525.8 L2225.0,523.2 L2226.0,522.4 L2227.0,517.3 L2228.0,516.9 L2229.0,511.5 L2230.0,510.9 L2231.0,508.2 L2232.0,504.2 L2233.0,497.7 L2234.0,496.1 L2235.0,491.8 L2236.0,489.0 L2237.0,480.6 L2238.0,478.9 L2239.0,473.0 L2240.0,472.9 L2241.0,466.9 L2242.0,464.9 L2243.0,461.2 L2244.0,461.5 L2245.0,460.1 L2246.0,454.9 L2247.0,452.5 L2248.0,453.0 L2249.0,449.0 L2250.0,450.2 L2251.0,444.1 L2252.0,441.4 L2253.0,443.0 L2254.0,442.8 L2255.0,438.8 L2256.0,438.4 L2257.0,435.3 L2258.0,436.3 L2259.0,432.0 L2260.0,433.2 L2261.0,429.7 L2262.0,430.5 L2263.0,426.0 L2264.0,425.9 L2265.0,421.0 L2266.0,423.2 L2267.0,417.4 L2268.0,420.1 L2269.0,413.1 L2270.0,414.2 L2271.0,408.6 L2272.0,410.7 L2273.0,408.6 L2274.0,405.7 L2275.0,401.4 L2276.0,401.6 L2277.0,397.2 L2278.0,392.9 L2279.0,391.2 L2280.0,391.5 L2281.0,384.6 L2282.0,385.6 L2283.0,380.5 L2284.0,379.5 L2285.0,373.8 L2286.0,373.9 L2287.0,366.7 L2288.0,364.2 L2289.0,364.5 L2290.0,359.5 L2291.0,353.1 L2292.0,354.9 L2293.0,345.2 L2294.0,348.4 L2295.0,343.5 L2296.0,343.5 L2297.0,331.3 L2298.0,330.0 L2299.0,324.5 L2300.0,332.7 L2301.0,328.9 L2302.0,328.7 L2303.0,319.8 L2304.0,327.6 L2305.0,304.5 L2306.0,307.7 L2307.0,300.4 L2308.0,308.0 L2309.0,314.7 L2310.0,311.3 L2311.0,297.1 L2312.0,320.3 L2313.0,289.3 L2314.0,305.8 L2315.0,288.7 L2316.0,311.3 L2317.0,304.8 L2318.0,317.1 L2319.0,287.2 L2320.0,299.5 L2321.0,304.6 L2322.0,310.6 L2323.0,314.4 L2324.0,298.6 L2325.0,277.0 L2326.0,287.0 L2327.0,265.9 L2328.0,290.4 L2329.0,312.0 L2330.0,299.6 L2331.0,264.4 L2332.0,265.2 L2333.0,268.1 L2334.0,291.5 L2335.0,272.7 L2336.0,286.2 L2337.0,273.3 L2338.0,284.5 L2339.0,258.1 L2340.0,260.2 L2341.0,259.0 L2342.0,289.2 L2343.0,246.1 L2344.0,298.0 L2345.0,264.2 L2346.0,288.3 L2347.0,241.7 L2348.0,261.8 L2349.0,248.3 L2350.0,248.8 L2351.0,246.6 L2352.0,284.9 L2353.0,238.5 L2354.0,277.2 L2355.0,223.5 L2356.0,282.0 L2357.0,241.4 L2358.0,282.6 L2359.0,283.6 L2360.0,294.6 L2361.0,278.7 L2362.0,271.5 L2363.0,222.4 L2364.0,261.9 L2365.0,220.2 L2366.0,265.6 L2367.0,184.9 L2368.0,196.7 L2369.0,236.5 L2370.0,216.1 L2371.0,174.2 L2372.0,233.3 L2373.0,181.8 L2374.0,167.6 L2375.0,167.3 L2376.0,237.3 L2377.0,168.0 L2378.0,227.5 L2379.0,166.4 L2380.0,178.6 L2381.0,201.1" fill="none" stroke="#009300" stroke-width="9" stroke-linejoin="round" stroke-linecap="butt"/>
<path d="M174.0,1421.7 L175.0,1420.3 L176.0,1420.1 L177.0,1420.3 L178.0,1420.7 L179.0,1419.7 L180.0,1419.7 L181.0,1419.7 L182.0,1420.5 L183.0,1420.2 L184.0,1419.1 L185.0,1418.9 L186.0,1419.7 L187.0,1418.2 L188.0,1419.4 L189.0,1418.2 L190.0,1419.4 L191.0,1418.5 L192.0,1419.0 L193.0,1417.6 L194.0,1419.1 L195.0,1417.4 L196.0,1418.4 L197.0,1418.9 L198.0,1418.4 L199.0,1418.9 L200.0,1418.7 L201.0,1417.6 L202.0,1418.5 L203.0,1417.5 L204.0,1418.9 L205.0,1418.5 L206.0,1417.8 L207.0,1417.3 L208.0,1418.0 L209.0,1417.8 L210.0,1418.5 L211.0,1418.5 L212.0,1417.9 L213.0,1417.7 L214.0,1418.5 L215.0,1417.8 L216.0,1418.8 L217.0,1418.2 L218.0,1418.2 L219.0,1418.1 L220.0,1417.5 L221.0,1417.2 L222.0,1417.5 L223.0,1418.5 L224.0,1420.1 L225.0,1417.5 L226.0,1420.4 L227.0,1417.7 L228.0,1418.6 L229.0,1418.2 L230.0,1418.3 L231.0,1419.0 L232.0,1418.2 L233.0,1418.7 L234.0,1421.7 L235.0,1417.7 L236.0,1421.7 L237.0,1419.8 L238.0,1422.0 L239.0,1416.3 L240.0,1421.8 L241.0,1418.1 L242.0,1416.6 L243.0,1415.7 L244.0,1423.5 L245.0,1416.5 L246.0,1412.4 L247.0,1408.7 L248.0,1416.0 L249.0,1406.8 L250.0,1421.9 L251.0,1408.9 L252.0,1426.0 L253.0,1411.4 L254.0,1426.2 L255.0,1417.9 L256.0,1417.0 L257.0,1405.2 L258.0,1426.3 L259.0,1407.2 L260.0,1427.1 L261.0,1431.8 L262.0,1425.9 L263.0,1408.4 L264.0,1414.9 L265.0,1417.3 L266.0,1418.1 L267.0,1422.1 L268.0,1422.4 L269.0,1428.2 L270.0,1424.7 L271.0,1430.0 L272.0,1423.1 L273.0,1411.4 L274.0,1422.9 L275.0,1418.1 L276.0,1417.7 L277.0,1418.3 L278.0,1417.2 L279.0,1413.7 L280.0,1422.1 L281.0,1418.3 L282.0,1419.6 L283.0,1412.4 L284.0,1422.9 L285.0,1414.5 L286.0,1432.9 L287.0,1416.1 L288.0,1423.5 L289.0,1425.5 L290.0,1436.8 L291.0,1418.1 L292.0,1405.6 L293.0,1417.6 L294.0,1423.8 L295.0,1432.9 L296.0,1430.1 L297.0,1414.8 L298.0,1409.5 L299.0,1422.1 L300.0,1431.1 L301.0,1411.5 L302.0,1431.0 L303.0,1410.9 L304.0,1411.0 L305.0,1407.0 L306.0,1424.8 L307.0,1415.5 L308.0,1424.3 L309.0,1413.2 L310.0,1423.4 L311.0,1426.5 L312.0,1421.5 L313.0,1408.6 L314.0,1412.6 L315.0,1414.5 L316.0,1415.5 L317.0,1415.1 L318.0,1415.6 L319.0,1412.6 L320.0,1415.9 L321.0,1409.5 L322.0,1419.5 L323.0,1406.1 L324.0,1404.7 L325.0,1424.5 L326.0,1423.5 L327.0,1405.6 L328.0,1419.3 L329.0,1410.2 L330.0,1413.7 L331.0,1401.1 L332.0,1414.0 L333.0,1419.4 L334.0,1414.4 L335.0,1410.8 L336.0,1414.7 L337.0,1413.4 L338.0,1413.6 L339.0,1409.9 L340.0,1412.5 L341.0,1410.0 L342.0,1411.2 L343.0,1411.2 L344.0,1409.8 L345.0,1409.4 L346.0,1411.6 L347.0,1409.4 L348.0,1411.3 L349.0,1410.0 L350.0,1410.0 L351.0,1409.5 L352.0,1411.0 L353.0,1410.5 L354.0,1411.0 L355.0,1411.3 L356.0,1411.5 L357.0,1411.6 L358.0,1409.9 L359.0,1409.8 L360.0,1411.5 L361.0,1409.7 L362.0,1409.8 L363.0,1409.0 L364.0,1412.7 L365.0,1410.2 L366.0,1409.4 L367.0,1403.8 L368.0,1413.8 L369.0,1410.0 L370.0,1401.5 L371.0,1408.0 L372.0,1408.7 L373.0,1404.1 L374.0,1405.2 L375.0,1403.2 L376.0,1402.9 L377.0,1401.3 L378.0,1400.6 L379.0,1398.5 L380.0,1397.9 L381.0,1395.4 L382.0,1393.5 L383.0,1393.6 L384.0,1391.7 L385.0,1388.6 L386.0,1387.7 L387.0,1385.0 L388.0,1384.8 L389.0,1382.1 L390.0,1380.3 L391.0,1379.4 L392.0,1377.8 L393.0,1375.8 L394.0,1372.9 L395.0,1371.5 L396.0,1370.0 L397.0,1367.4 L398.0,1367.0 L399.0,1363.9 L400.0,1363.5 L401.0,1361.5 L402.0,1359.4 L403.0,1356.9 L404.0,1355.4 L405.0,1354.0 L406.0,1351.7 L407.0,1349.3 L408.0,1348.7 L409.0,1345.0 L410.0,1344.8 L411.0,1341.9 L412.0,1341.1 L413.0,1338.5 L414.0,1337.3 L415.0,1333.7 L416.0,1333.4 L417.0,1331.5 L418.0,1329.1 L419.0,1326.3 L420.0,1323.7 L421.0,1323.0 L422.0,1321.0 L423.0,1319.2 L424.0,1316.8 L425.0,1314.2 L426.0,1312.8 L427.0,1310.1 L428.0,1309.5 L429.0,1305.5 L430.0,1305.5 L431.0,1301.7 L432.0,1301.1 L433.0,1297.8 L434.0,1295.3 L435.0,1293.9 L436.0,1292.3 L437.0,1289.8 L438.0,1287.4 L439.0,1285.6 L440.0,1284.4 L441.0,1281.8 L442.0,1278.7 L443.0,1276.7 L444.0,1275.9 L445.0,1272.4 L446.0,1270.2 L447.0,1268.4 L448.0,1266.2 L449.0,1264.4 L450.0,1263.1 L451.0,1260.3 L452.0,1259.4 L453.0,1257.3 L454.0,1254.3 L455.0,1252.0 L456.0,1250.4 L457.0,1248.4 L458.0,1245.2 L459.0,1243.3 L460.0,1242.2 L461.0,1239.0 L462.0,1237.8 L463.0,1235.1 L464.0,1232.5 L465.0,1230.9 L466.0,1229.8 L467.0,1226.3 L468.0,1224.3 L469.0,1221.9 L470.0,1221.5 L471.0,1218.2 L472.0,1216.7 L473.0,1215.3 L474.0,1213.1 L475.0,1209.7 L476.0,1208.5 L477.0,1205.1 L478.0,1203.8 L479.0,1202.1 L480.0,1200.5 L481.0,1197.3 L482.0,1196.5 L483.0,1193.1 L484.0,1192.8 L485.0,1190.3 L486.0,1188.3 L487.0,1185.1 L488.0,1183.7 L489.0,1181.2 L490.0,1180.9 L491.0,1177.4 L492.0,1175.7 L493.0,1174.4 L494.0,1173.4 L495.0,1170.3 L496.0,1168.7 L497.0,1167.0 L498.0,1165.6 L499.0,1163.3 L500.0,1161.9 L501.0,1159.0 L502.0,1157.2 L503.0,1155.4 L504.0,1155.3 L505.0,1152.4 L506.0,1151.5 L507.0,1149.9 L508.0,1148.8 L509.0,1147.0 L510.0,1145.4 L511.0,1142.5 L512.0,1140.8 L513.0,1139.4 L514.0,1138.6 L515.0,1136.4 L516.0,1136.3 L517.0,1133.0 L518.0,1133.3 L519.0,1130.2 L520.0,1129.7 L521.0,1127.6 L522.0,1126.6 L523.0,1124.0 L524.0,1123.9 L525.0,1120.5 L526.0,1120.0 L527.0,1118.1 L528.0,1116.4 L529.0,1116.1 L530.0,1114.0 L531.0,1111.6 L532.0,1111.5 L533.0,1108.7 L534.0,1108.5 L535.0,1107.3 L536.0,1105.7 L537.0,1103.7 L538.0,1103.7 L539.0,1102.1 L540.0,1100.9 L541.0,1100.0 L542.0,1098.6 L543.0,1096.4 L544.0,1094.7 L545.0,1093.8 L546.0,1093.6 L547.0,1092.1 L548.0,1090.7 L549.0,1090.8 L550.0,1089.9 L551.0,1088.2 L552.0,1088.2 L553.0,1087.3 L554.0,1086.0 L555.0,1085.0 L556.0,1084.8 L557.0,1082.2 L558.0,1082.4 L559.0,1081.0 L560.0,1080.4 L561.0,1080.4 L562.0,1080.0 L563.0,1078.5 L564.0,1078.9 L565.0,1077.8 L566.0,1078.4 L567.0,1076.6 L568.0,1076.4 L569.0,1076.4 L570.0,1076.1 L571.0,1076.2 L572.0,1075.7 L573.0,1074.4 L574.0,1074.8 L575.0,1073.9 L576.0,1072.9 L577.0,1072.6 L578.0,1073.5 L579.0,1073.4 L580.0,1073.3 L581.0,1072.8 L582.0,1073.6 L583.0,1072.7 L584.0,1072.9 L585.0,1073.2 L586.0,1073.6 L587.0,1072.4 L588.0,1072.9 L589.0,1072.5 L590.0,1073.5 L591.0,1073.5 L592.0,1073.5 L593.0,1072.4 L594.0,1072.7 L595.0,1072.3 L596.0,1072.6 L597.0,1073.1 L598.0,1073.5 L599.0,1073.3 L600.0,1073.5 L601.0,1072.7 L602.0,1073.4 L603.0,1072.6 L604.0,1072.4 L605.0,1073.3 L606.0,1073.5 L607.0,1073.2 L608.0,1073.5 L609.0,1072.6 L610.0,1072.7 L611.0,1072.6 L612.0,1073.1 L613.0,1072.2 L614.0,1072.9 L615.0,1072.0 L616.0,1072.5 L617.0,1071.4 L618.0,1072.7 L619.0,1071.8 L620.0,1071.0 L621.0,1071.2 L622.0,1072.1 L623.0,1070.7 L624.0,1071.5 L625.0,1071.6 L626.0,1071.9 L627.0,1070.7 L628.0,1071.8 L629.0,1070.4 L630.0,1071.8 L631.0,1071.5 L632.0,1071.1 L633.0,1070.3 L634.0,1071.3 L635.0,1071.1 L636.0,1071.1 L637.0,1071.7 L638.0,1071.9 L639.0,1071.4 L640.0,1072.9 L641.0,1072.2 L642.0,1072.4 L643.0,1072.4 L644.0,1073.4 L645.0,1073.1 L646.0,1074.5 L647.0,1073.9 L648.0,1073.9 L649.0,1074.5 L650.0,1075.6 L651.0,1075.2 L652.0,1075.2 L653.0,1076.6 L654.0,1077.5 L655.0,1077.0 L656.0,1078.2 L657.0,1078.3 L658.0,1079.3 L659.0,1079.4 L660.0,1081.1 L661.0,1081.5 L662.0,1082.4 L663.0,1081.8 L664.0,1083.3 L665.0,1083.7 L666.0,1084.1 L667.0,1084.9 L668.0,1086.8 L669.0,1087.0 L670.0,1088.6 L671.0,1089.2 L672.0,1090.5 L673.0,1091.1 L674.0,1092.7 L675.0,1093.5 L676.0,1094.3 L677.0,1095.5 L678.0,1097.9 L679.0,1099.1 L680.0,1100.6 L681.0,1101.0 L682.0,1102.0 L683.0,1104.2 L684.0,1106.0 L685.0,1106.4 L686.0,1108.0 L687.0,1109.2 L688.0,1112.0 L689.0,1112.3 L690.0,1113.9 L691.0,1115.9 L692.0,1118.1 L693.0,1118.8 L694.0,1121.5 L695.0,1122.0 L696.0,1124.0 L697.0,1125.0 L698.0,1127.2 L699.0,1127.5 L700.0,1130.3 L701.0,1130.7 L702.0,1133.1 L703.0,1133.9 L704.0,1136.4 L705.0,1136.8 L706.0,1138.5 L707.0,1139.6 L708.0,1141.5 L709.0,1143.5 L710.0,1145.2 L711.0,1147.0 L712.0,1147.9 L713.0,1148.9 L714.0,1151.2 L715.0,1152.1 L716.0,1154.7 L717.0,1156.2 L718.0,1157.8 L719.0,1159.5 L720.0,1161.4 L721.0,1162.0 L722.0,1164.3 L723.0,1165.4 L724.0,1167.4 L725.0,1168.8 L726.0,1169.6 L727.0,1172.2 L728.0,1174.3 L729.0,1175.0 L730.0,1177.2 L731.0,1178.8 L732.0,1179.4 L733.0,1180.9 L734.0,1183.2 L735.0,1184.1 L736.0,1186.4 L737.0,1187.6 L738.0,1190.2 L739.0,1190.7 L740.0,1192.0 L741.0,1193.6 L742.0,1196.3 L743.0,1197.8 L744.0,1199.3 L745.0,1200.7 L746.0,1202.9 L747.0,1203.4 L748.0,1205.5 L749.0,1207.6 L750.0,1209.5 L751.0,1210.9 L752.0,1212.4 L753.0,1212.9 L754.0,1215.6 L755.0,1216.6 L756.0,1218.0 L757.0,1219.7 L758.0,1221.2 L759.0,1223.4 L760.0,1224.7 L761.0,1226.6 L762.0,1227.2 L763.0,1229.7 L764.0,1230.9 L765.0,1232.4 L766.0,1234.5 L767.0,1235.2 L768.0,1237.6 L769.0,1238.6 L770.0,1240.9 L771.0,1242.7 L772.0,1244.0 L773.0,1246.8 L774.0,1248.2 L775.0,1249.7 L776.0,1251.2 L777.0,1252.7 L778.0,1253.8 L779.0,1254.7 L780.0,1256.5 L781.0,1257.0 L782.0,1259.3 L783.0,1260.1 L784.0,1260.6 L785.0,1261.2 L786.0,1262.7 L787.0,1263.7 L788.0,1264.1 L789.0,1264.4 L790.0,1265.3 L791.0,1265.3 L792.0,1266.8 L793.0,1267.9 L794.0,1268.4 L795.0,1267.8 L796.0,1268.3 L797.0,1268.8 L798.0,1270.1 L799.0,1269.7 L800.0,1270.4 L801.0,1270.4 L802.0,1270.7 L803.0,1270.2 L804.0,1271.0 L805.0,1270.4 L806.0,1269.6 L807.0,1269.1 L808.0,1269.1 L809.0,1268.2 L810.0,1267.7 L811.0,1266.6 L812.0,1266.3 L813.0,1265.1 L814.0,1265.8 L815.0,1263.6 L816.0,1263.7 L817.0,1262.1 L818.0,1262.1 L819.0,1261.2 L820.0,1259.4 L821.0,1257.4 L822.0,1257.1 L823.0,1255.1 L824.0,1254.5 L825.0,1253.5 L826.0,1252.3 L827.0,1249.7 L828.0,1249.1 L829.0,1247.2 L830.0,1247.1 L831.0,1245.6 L832.0,1246.2 L833.0,1246.8 L834.0,1250.0 L835.0,1253.6 L836.0,1257.2 L837.0,1259.5 L838.0,1262.7 L839.0,1264.5 L840.0,1267.3 L841.0,1268.5 L842.0,1271.2 L843.0,1272.1 L844.0,1273.5 L845.0,1275.5 L846.0,1277.8 L847.0,1278.6 L848.0,1279.4 L849.0,1281.2 L850.0,1282.3 L851.0,1282.7 L852.0,1283.9 L853.0,1284.7 L854.0,1285.6 L855.0,1286.6 L856.0,1287.5 L857.0,1288.6 L858.0,1289.2 L859.0,1289.8 L860.0,1290.3 L861.0,1289.8 L862.0,1290.7 L863.0,1291.1 L864.0,1291.4 L865.0,1291.1 L866.0,1291.6 L867.0,1291.2 L868.0,1291.8 L869.0,1291.3 L870.0,1291.0 L871.0,1289.2 L872.0,1288.1 L873.0,1287.0 L874.0,1286.9 L875.0,1287.1 L876.0,1287.8 L877.0,1289.2 L878.0,1293.0 L879.0,1296.9 L880.0,1299.3 L881.0,1302.2 L882.0,1304.6 L883.0,1305.3 L884.0,1308.9 L885.0,1310.5 L886.0,1312.0 L887.0,1313.3 L888.0,1315.3 L889.0,1316.7 L890.0,1317.9 L891.0,1319.0 L892.0,1318.9 L893.0,1320.3 L894.0,1320.7 L895.0,1322.3 L896.0,1322.7 L897.0,1322.9 L898.0,1324.1 L899.0,1324.7 L900.0,1325.6 L901.0,1325.7 L902.0,1326.4 L903.0,1326.2 L904.0,1327.1 L905.0,1327.3 L906.0,1328.1 L907.0,1327.9 L908.0,1329.1 L909.0,1328.5 L910.0,1330.2 L911.0,1329.7 L912.0,1330.9 L913.0,1330.2 L914.0,1331.4 L915.0,1331.4 L916.0,1330.9 L917.0,1331.2 L918.0,1332.1 L919.0,1331.6 L920.0,1332.7 L921.0,1332.4 L922.0,1333.3 L923.0,1333.8 L924.0,1333.7 L925.0,1333.3 L926.0,1334.6 L927.0,1334.7 L928.0,1335.2 L929.0,1334.4 L930.0,1335.5 L931.0,1334.8 L932.0,1336.1 L933.0,1335.4 L934.0,1336.4 L935.0,1335.9 L936.0,1335.4 L937.0,1336.2 L938.0,1335.9 L939.0,1336.5 L940.0,1337.4 L941.0,1337.1 L942.0,1337.0 L943.0,1336.5 L944.0,1336.9 L945.0,1336.8 L946.0,1337.0 L947.0,1337.7 L948.0,1338.1 L949.0,1338.6 L950.0,1338.9 L951.0,1338.2 L952.0,1337.8 L953.0,1338.6 L954.0,1339.4 L955.0,1338.5 L956.0,1339.4 L957.0,1339.0 L958.0,1339.7 L959.0,1339.3 L960.0,1340.2 L961.0,1340.1 L962.0,1340.2 L963.0,1340.8 L964.0,1340.4 L965.0,1340.7 L966.0,1341.2 L967.0,1341.4 L968.0,1342.2 L969.0,1341.5 L970.0,1342.5 L971.0,1342.2 L972.0,1343.1 L973.0,1343.7 L974.0,1343.8 L975.0,1342.9 L976.0,1344.2 L977.0,1343.8 L978.0,1345.3 L979.0,1344.7 L980.0,1345.6 L981.0,1345.0 L982.0,1345.7 L983.0,1345.9 L984.0,1346.5 L985.0,1347.5 L986.0,1347.5 L987.0,1347.5 L988.0,1348.2 L989.0,1347.8 L990.0,1349.0 L991.0,1348.3 L992.0,1348.8 L993.0,1349.0 L994.0,1350.6 L995.0,1350.2 L996.0,1350.9 L997.0,1350.7 L998.0,1351.5 L999.0,1351.3 L1000.0,1352.6 L1001.0,1351.9 L1002.0,1352.8 L1003.0,1352.4 L1004.0,1354.1 L1005.0,1353.3 L1006.0,1353.8 L1007.0,1353.7 L1008.0,1354.2 L1009.0,1354.3 L1010.0,1355.7 L1011.0,1354.9 L1012.0,1355.8 L1013.0,1355.7 L1014.0,1357.0 L1015.0,1356.2 L1016.0,1357.3 L1017.0,1356.9 L1018.0,1357.9 L1019.0,1357.3 L1020.0,1358.0 L1021.0,1358.2 L1022.0,1359.4 L1023.0,1358.3 L1024.0,1359.3 L1025.0,1359.0 L1026.0,1359.8 L1027.0,1359.4 L1028.0,1359.7 L1029.0,1359.2 L1030.0,1360.3 L1031.0,1359.7 L1032.0,1361.0 L1033.0,1360.0 L1034.0,1361.0 L1035.0,1360.7 L1036.0,1361.5 L1037.0,1360.4 L1038.0,1361.6 L1039.0,1361.7 L1040.0,1362.0 L1041.0,1361.9 L1042.0,1361.6 L1043.0,1361.4 L1044.0,1361.9 L1045.0,1361.9 L1046.0,1361.9 L1047.0,1362.4 L1048.0,1362.8 L1049.0,1362.0 L1050.0,1363.6 L1051.0,1363.8 L1052.0,1363.7 L1053.0,1363.0 L1054.0,1363.5 L1055.0,1363.5 L1056.0,1364.1 L1057.0,1364.5 L1058.0,1364.6 L1059.0,1364.3 L1060.0,1364.8 L1061.0,1364.4 L1062.0,1364.9 L1063.0,1365.1 L1064.0,1365.6 L1065.0,1365.0 L1066.0,1366.3 L1067.0,1365.6 L1068.0,1366.0 L1069.0,1366.0 L1070.0,1366.5 L1071.0,1366.5 L1072.0,1367.3 L1073.0,1367.0 L1074.0,1366.9 L1075.0,1367.8 L1076.0,1367.7 L1077.0,1368.0 L1078.0,1367.6 L1079.0,1367.4 L1080.0,1368.2 L1081.0,1368.0 L1082.0,1368.8 L1083.0,1368.4 L1084.0,1369.6 L1085.0,1368.5 L1086.0,1369.3 L1087.0,1368.9 L1088.0,1368.6 L1089.0,1368.8 L1090.0,1370.0 L1091.0,1369.3 L1092.0,1369.5 L1093.0,1369.9 L1094.0,1369.4 L1095.0,1370.1 L1096.0,1370.6 L1097.0,1370.4 L1098.0,1371.3 L1099.0,1371.4 L1100.0,1371.3 L1101.0,1371.3 L1102.0,1371.5 L1103.0,1371.4 L1104.0,1371.9 L1105.0,1370.8 L1106.0,1372.0 L1107.0,1370.9 L1108.0,1372.0 L1109.0,1371.0 L1110.0,1372.2 L1111.0,1371.0 L1112.0,1372.2 L1113.0,1371.5 L1114.0,1371.5 L1115.0,1372.0 L1116.0,1372.5 L1117.0,1371.5 L1118.0,1371.8 L1119.0,1371.5 L1120.0,1371.3 L1121.0,1371.2 L1122.0,1372.8 L1123.0,1371.3 L1124.0,1372.2 L1125.0,1371.7 L1126.0,1372.7 L1127.0,1371.6 L1128.0,1372.4 L1129.0,1372.1 L1130.0,1372.9 L1131.0,1372.8 L1132.0,1371.5 L1133.0,1371.9 L1134.0,1372.5 L1135.0,1372.9 L1136.0,1371.7 L1137.0,1371.7 L1138.0,1372.4 L1139.0,1372.2 L1140.0,1371.7 L1141.0,1373.0 L1142.0,1372.6 L1143.0,1373.0 L1144.0,1372.5 L1145.0,1371.7 L1146.0,1372.5 L1147.0,1371.7 L1148.0,1372.3 L1149.0,1372.4 L1150.0,1372.4 L1151.0,1371.3 L1152.0,1372.0 L1153.0,1371.1 L1154.0,1371.3 L1155.0,1370.4 L1156.0,1371.0 L1157.0,1371.3 L1158.0,1371.3 L1159.0,1370.2 L1160.0,1371.1 L1161.0,1369.2 L1162.0,1369.4 L1163.0,1368.7 L1164.0,1367.9 L1165.0,1364.7 L1166.0,1363.7 L1167.0,1363.3 L1168.0,1364.0 L1169.0,1363.2 L1170.0,1363.4 L1171.0,1361.0 L1172.0,1362.2 L1173.0,1362.1 L1174.0,1361.2 L1175.0,1358.5 L1176.0,1360.0 L1177.0,1359.6 L1178.0,1356.9 L1179.0,1357.1 L1180.0,1359.8 L1181.0,1357.4 L1182.0,1359.2 L1183.0,1357.0 L1184.0,1358.5 L1185.0,1358.1 L1186.0,1357.3 L1187.0,1356.5 L1188.0,1358.3 L1189.0,1356.6 L1190.0,1358.9 L1191.0,1358.1 L1192.0,1360.6 L1193.0,1358.2 L1194.0,1360.3 L1195.0,1360.6 L1196.0,1356.3 L1197.0,1357.2 L1198.0,1357.1 L1199.0,1353.6 L1200.0,1354.9 L1201.0,1353.4 L1202.0,1354.3 L1203.0,1355.1 L1204.0,1356.0 L1205.0,1354.5 L1206.0,1357.0 L1207.0,1357.1 L1208.0,1356.9 L1209.0,1356.1 L1210.0,1358.1 L1211.0,1358.8 L1212.0,1359.7 L1213.0,1358.4 L1214.0,1360.4 L1215.0,1360.5 L1216.0,1361.7 L1217.0,1362.1 L1218.0,1363.5 L1219.0,1363.2 L1220.0,1365.2 L1221.0,1365.2 L1222.0,1366.6 L1223.0,1366.3 L1224.0,1366.4 L1225.0,1367.6 L1226.0,1369.1 L1227.0,1369.4 L1228.0,1370.0 L1229.0,1368.6 L1230.0,1370.4 L1231.0,1368.5 L1232.0,1369.4 L1233.0,1368.1 L1234.0,1369.2 L1235.0,1367.3 L1236.0,1368.3 L1237.0,1366.1 L1238.0,1364.9 L1239.0,1365.3 L1240.0,1364.0 L1241.0,1363.9 L1242.0,1364.4 L1243.0,1363.0 L1244.0,1363.7 L1245.0,1363.1 L1246.0,1364.5 L1247.0,1363.9 L1248.0,1363.6 L1249.0,1362.6 L1250.0,1363.1 L1251.0,1362.3 L1252.0,1363.4 L1253.0,1362.7 L1254.0,1362.8 L1255.0,1361.5 L1256.0,1363.8 L1257.0,1360.5 L1258.0,1363.8 L1259.0,1362.5 L1260.0,1361.6 L1261.0,1363.6 L1262.0,1363.2 L1263.0,1362.3 L1264.0,1362.6 L1265.0,1363.7 L1266.0,1363.4 L1267.0,1359.3 L1268.0,1362.6 L1269.0,1362.0 L1270.0,1362.7 L1271.0,1361.0 L1272.0,1361.8 L1273.0,1361.0 L1274.0,1362.1 L1275.0,1362.0 L1276.0,1362.2 L1277.0,1359.5 L1278.0,1363.4 L1279.0,1361.2 L1280.0,1359.0 L1281.0,1359.1 L1282.0,1364.6 L1283.0,1361.0 L1284.0,1364.1 L1285.0,1363.7 L1286.0,1364.3 L1287.0,1358.9 L1288.0,1361.6 L1289.0,1359.2 L1290.0,1365.5 L1291.0,1364.9 L1292.0,1360.8 L1293.0,1360.3 L1294.0,1363.5 L1295.0,1359.2 L1296.0,1365.6 L1297.0,1359.9 L1298.0,1366.9 L1299.0,1362.2 L1300.0,1362.5 L1301.0,1362.3 L1302.0,1362.5 L1303.0,1358.4 L1304.0,1364.7 L1305.0,1361.3 L1306.0,1367.8 L1307.0,1362.2 L1308.0,1369.3 L1309.0,1359.0 L1310.0,1366.4 L1311.0,1367.4 L1312.0,1368.4 L1313.0,1359.9 L1314.0,1368.0 L1315.0,1363.0 L1316.0,1365.6 L1317.0,1362.6 L1318.0,1362.7 L1319.0,1362.7 L1320.0,1367.1 L1321.0,1362.3 L1322.0,1363.6 L1323.0,1364.6 L1324.0,1367.3 L1325.0,1366.8 L1326.0,1369.3 L1327.0,1367.9 L1328.0,1370.0 L1329.0,1365.6 L1330.0,1365.7 L1331.0,1364.1 L1332.0,1365.7 L1333.0,1363.5 L1334.0,1369.3 L1335.0,1363.9 L1336.0,1368.0 L1337.0,1367.9 L1338.0,1367.8 L1339.0,1370.6 L1340.0,1369.1 L1341.0,1370.0 L1342.0,1365.7 L1343.0,1364.2 L1344.0,1370.2 L1345.0,1369.1 L1346.0,1368.2 L1347.0,1366.3 L1348.0,1368.8 L1349.0,1366.3 L1350.0,1365.3 L1351.0,1364.9 L1352.0,1364.9 L1353.0,1366.8 L1354.0,1368.1 L1355.0,1365.5 L1356.0,1369.7 L1357.0,1369.9 L1358.0,1370.3 L1359.0,1366.6 L1360.0,1368.4 L1361.0,1367.3 L1362.0,1368.0 L1363.0,1369.3 L1364.0,1373.0 L1365.0,1373.3 L1366.0,1374.7 L1367.0,1370.3 L1368.0,1376.7 L1369.0,1379.1 L1370.0,1379.9 L1371.0,1375.3 L1372.0,1375.7 L1373.0,1377.0 L1374.0,1381.8 L1375.0,1376.8 L1376.0,1384.1 L1377.0,1379.2 L1378.0,1385.2 L1379.0,1378.2 L1380.0,1382.4 L1381.0,1376.5 L1382.0,1384.8 L1383.0,1374.6 L1384.0,1388.2 L1385.0,1380.1 L1386.0,1383.7 L1387.0,1375.7 L1388.0,1383.4 L1389.0,1388.7 L1390.0,1387.4 L1391.0,1372.5 L1392.0,1384.8 L1393.0,1374.8 L1394.0,1375.6 L1395.0,1374.7 L1396.0,1391.0 L1397.0,1377.8 L1398.0,1378.8 L1399.0,1389.5 L1400.0,1383.3 L1401.0,1375.8 L1402.0,1390.7 L1403.0,1372.7 L1404.0,1387.9 L1405.0,1380.1 L1406.0,1390.6 L1407.0,1376.7 L1408.0,1383.7 L1409.0,1381.9 L1410.0,1382.3 L1411.0,1381.6 L1412.0,1375.9 L1413.0,1377.3 L1414.0,1382.7 L1415.0,1374.0 L1416.0,1381.1 L1417.0,1382.9 L1418.0,1385.1 L1419.0,1384.9 L1420.0,1374.8 L1421.0,1382.0 L1422.0,1379.6 L1423.0,1375.9 L1424.0,1381.5 L1425.0,1373.3 L1426.0,1379.8 L1427.0,1372.0 L1428.0,1378.4 L1429.0,1371.7 L1430.0,1378.9 L1431.0,1373.7 L1432.0,1373.4 L1433.0,1369.8 L1434.0,1374.6 L1435.0,1371.4 L1436.0,1374.4 L1437.0,1369.5 L1438.0,1372.7 L1439.0,1373.9 L1440.0,1373.6 L1441.0,1371.3 L1442.0,1373.2 L1443.0,1368.4 L1444.0,1371.8 L1445.0,1370.2 L1446.0,1373.1 L1447.0,1369.0 L1448.0,1373.4 L1449.0,1369.4 L1450.0,1371.1 L1451.0,1369.1 L1452.0,1367.3 L1453.0,1371.7 L1454.0,1371.5 L1455.0,1367.1 L1456.0,1371.9 L1457.0,1369.1 L1458.0,1368.2 L1459.0,1366.2 L1460.0,1369.8 L1461.0,1366.5 L1462.0,1368.1 L1463.0,1366.4 L1464.0,1369.8 L1465.0,1366.5 L1466.0,1365.6 L1467.0,1368.3 L1468.0,1365.1 L1469.0,1368.0 L1470.0,1368.2 L1471.0,1365.4 L1472.0,1370.3 L1473.0,1367.9 L1474.0,1370.8 L1475.0,1370.3 L1476.0,1363.9 L1477.0,1363.6 L1478.0,1372.6 L1479.0,1371.0 L1480.0,1372.9 L1481.0,1363.8 L1482.0,1370.0 L1483.0,1363.8 L1484.0,1370.0 L1485.0,1366.0 L1486.0,1368.9 L1487.0,1367.4 L1488.0,1370.2 L1489.0,1365.0 L1490.0,1371.1 L1491.0,1368.9 L1492.0,1366.4 L1493.0,1367.1 L1494.0,1369.0 L1495.0,1367.0 L1496.0,1370.4 L1497.0,1365.2 L1498.0,1367.7 L1499.0,1367.2 L1500.0,1370.4 L1501.0,1366.5 L1502.0,1368.9 L1503.0,1369.8 L1504.0,1367.4 L1505.0,1369.6 L1506.0,1367.2 L1507.0,1363.6 L1508.0,1367.9 L1509.0,1362.8 L1510.0,1366.3 L1511.0,1362.5 L1512.0,1364.1 L1513.0,1362.3 L1514.0,1361.5 L1515.0,1362.0 L1516.0,1364.1 L1517.0,1363.5 L1518.0,1363.5 L1519.0,1363.7 L1520.0,1362.3 L1521.0,1360.0 L1522.0,1360.9 L1523.0,1359.3 L1524.0,1362.5 L1525.0,1359.3 L1526.0,1361.9 L1527.0,1359.2 L1528.0,1360.7 L1529.0,1358.3 L1530.0,1359.3 L1531.0,1358.3 L1532.0,1358.8 L1533.0,1360.1 L1534.0,1359.4 L1535.0,1357.2 L1536.0,1357.6 L1537.0,1357.0 L1538.0,1358.3 L1539.0,1356.2 L1540.0,1357.5 L1541.0,1356.1 L1542.0,1355.9 L1543.0,1354.8 L1544.0,1354.3 L1545.0,1350.8 L1546.0,1350.1 L1547.0,1347.7 L1548.0,1344.4 L1549.0,1341.3 L1550.0,1341.3 L1551.0,1337.4 L1552.0,1337.1 L1553.0,1335.1 L1554.0,1333.2 L1555.0,1331.5 L1556.0,1331.4 L1557.0,1329.1 L1558.0,1330.3 L1559.0,1329.1 L1560.0,1329.3 L1561.0,1327.6 L1562.0,1327.5 L1563.0,1328.0 L1564.0,1327.6 L1565.0,1325.7 L1566.0,1326.0 L1567.0,1324.6 L1568.0,1323.7 L1569.0,1322.4 L1570.0,1320.9 L1571.0,1319.5 L1572.0,1318.2 L1573.0,1315.9 L1574.0,1315.4 L1575.0,1313.5 L1576.0,1311.8 L1577.0,1310.1 L1578.0,1309.5 L1579.0,1307.4 L1580.0,1305.7 L1581.0,1303.7 L1582.0,1301.9 L1583.0,1298.4 L1584.0,1297.4 L1585.0,1294.4 L1586.0,1290.9 L1587.0,1285.9 L1588.0,1282.4 L1589.0,1277.7 L1590.0,1272.8 L1591.0,1267.6 L1592.0,1261.4 L1593.0,1254.2 L1594.0,1249.1 L1595.0,1242.5 L1596.0,1238.4 L1597.0,1231.9 L1598.0,1227.4 L1599.0,1221.5 L1600.0,1215.1 L1601.0,1209.0 L1602.0,1204.2 L1603.0,1196.9 L1604.0,1190.2 L1605.0,1183.5 L1606.0,1174.9 L1607.0,1166.2 L1608.0,1154.1 L1609.0,1137.2 L1610.0,1123.0 L1611.0,1113.8 L1612.0,1107.5 L1613.0,1101.3 L1614.0,1095.9 L1615.0,1090.0 L1616.0,1086.2 L1617.0,1079.9 L1618.0,1074.2 L1619.0,1067.5 L1620.0,1061.4 L1621.0,1053.7 L1622.0,1047.4 L1623.0,1041.0 L1624.0,1034.5 L1625.0,1026.4 L1626.0,1021.0 L1627.0,1013.4 L1628.0,1007.2 L1629.0,1000.9 L1630.0,994.0 L1631.0,986.8 L1632.0,980.6 L1633.0,973.4 L1634.0,966.4 L1635.0,959.6 L1636.0,952.6 L1637.0,945.3 L1638.0,937.8 L1639.0,930.3 L1640.0,924.3 L1641.0,917.3 L1642.0,911.1 L1643.0,907.4 L1644.0,902.0 L1645.0,895.6 L1646.0,891.8 L1647.0,886.8 L1648.0,884.3 L1649.0,881.7 L1650.0,881.7 L1651.0,883.3 L1652.0,888.0 L1653.0,892.6 L1654.0,899.3 L1655.0,905.9 L1656.0,912.7 L1657.0,922.3 L1658.0,935.0 L1659.0,948.3 L1660.0,960.6 L1661.0,972.4 L1662.0,986.8 L1663.0,999.5 L1664.0,1014.2 L1665.0,1026.9 L1666.0,1044.3 L1667.0,1059.6 L1668.0,1073.0 L1669.0,1077.7 L1670.0,1080.2 L1671.0,1081.1 L1672.0,1089.4 L1673.0,1131.6 L1674.0,1144.2 L1675.0,1152.5 L1676.0,1156.6 L1677.0,1161.2 L1678.0,1168.8 L1679.0,1175.1 L1680.0,1183.6 L1681.0,1191.1 L1682.0,1199.3 L1683.0,1204.7 L1684.0,1211.2 L1685.0,1215.6 L1686.0,1220.2 L1687.0,1224.0 L1688.0,1228.7 L1689.0,1231.3 L1690.0,1234.5 L1691.0,1238.3 L1692.0,1240.4 L1693.0,1242.8 L1694.0,1245.4 L1695.0,1247.5 L1696.0,1249.5 L1697.0,1250.4 L1698.0,1252.4 L1699.0,1253.2 L1700.0,1255.5 L1701.0,1256.2 L1702.0,1258.5 L1703.0,1260.4 L1704.0,1261.8 L1705.0,1263.2 L1706.0,1265.6 L1707.0,1267.0 L1708.0,1267.4 L1709.0,1268.6 L1710.0,1270.1 L1711.0,1270.7 L1712.0,1270.2 L1713.0,1269.6 L1714.0,1269.4 L1715.0,1269.0 L1716.0,1267.8 L1717.0,1265.9 L1718.0,1265.5 L1719.0,1264.5 L1720.0,1262.4 L1721.0,1260.8 L1722.0,1259.2 L1723.0,1255.5 L1724.0,1253.1 L1725.0,1249.1 L1726.0,1244.0 L1727.0,1239.8 L1728.0,1234.6 L1729.0,1229.8 L1730.0,1224.1 L1731.0,1217.6 L1732.0,1209.7 L1733.0,1198.9 L1734.0,1189.2 L1735.0,1177.6 L1736.0,1167.7 L1737.0,1157.4 L1738.0,1148.9 L1739.0,1139.1 L1740.0,1132.0 L1741.0,1122.8 L1742.0,1116.2 L1743.0,1107.9 L1744.0,1101.0 L1745.0,1092.4 L1746.0,1085.9 L1747.0,1077.3 L1748.0,1069.9 L1749.0,1063.0 L1750.0,1057.4 L1751.0,1051.0 L1752.0,1046.3 L1753.0,1040.8 L1754.0,1035.9 L1755.0,1032.6 L1756.0,1030.0 L1757.0,1029.3 L1758.0,1030.9 L1759.0,1033.4 L1760.0,1038.1 L1761.0,1042.4 L1762.0,1047.8 L1763.0,1052.6 L1764.0,1059.2 L1765.0,1064.6 L1766.0,1071.8 L1767.0,1079.6 L1768.0,1088.3 L1769.0,1094.9 L1770.0,1103.4 L1771.0,1111.3 L1772.0,1117.9 L1773.0,1126.1 L1774.0,1132.9 L1775.0,1139.7 L1776.0,1148.3 L1777.0,1153.8 L1778.0,1160.3 L1779.0,1162.4 L1780.0,1165.8 L1781.0,1166.8 L1782.0,1168.9 L1783.0,1170.2 L1784.0,1172.0 L1785.0,1173.4 L1786.0,1174.3 L1787.0,1174.9 L1788.0,1177.4 L1789.0,1178.3 L1790.0,1179.9 L1791.0,1180.7 L1792.0,1182.7 L1793.0,1183.7 L1794.0,1184.0 L1795.0,1184.1 L1796.0,1185.0 L1797.0,1184.8 L1798.0,1185.0 L1799.0,1184.9 L1800.0,1183.8 L1801.0,1182.2 L1802.0,1181.6 L1803.0,1179.4 L1804.0,1179.6 L1805.0,1178.7 L1806.0,1179.1 L1807.0,1178.6 L1808.0,1178.8 L1809.0,1178.8 L1810.0,1179.5 L1811.0,1179.5 L1812.0,1179.7 L1813.0,1179.9 L1814.0,1180.2 L1815.0,1178.8 L1816.0,1178.3 L1817.0,1176.8 L1818.0,1175.8 L1819.0,1174.2 L1820.0,1172.9 L1821.0,1172.2 L1822.0,1171.0 L1823.0,1169.0 L1824.0,1168.8 L1825.0,1167.2 L1826.0,1166.7 L1827.0,1164.7 L1828.0,1165.3 L1829.0,1164.4 L1830.0,1164.1 L1831.0,1165.6 L1832.0,1166.7 L1833.0,1167.3 L1834.0,1169.0 L1835.0,1171.1 L1836.0,1174.2 L1837.0,1177.5 L1838.0,1183.6 L1839.0,1186.1 L1840.0,1187.7 L1841.0,1187.8 L1842.0,1189.3 L1843.0,1189.4 L1844.0,1191.0 L1845.0,1191.0 L1846.0,1190.9 L1847.0,1190.9 L1848.0,1190.8 L1849.0,1191.2 L1850.0,1191.9 L1851.0,1191.2 L1852.0,1191.9 L1853.0,1191.2 L1854.0,1192.7 L1855.0,1193.5 L1856.0,1194.3 L1857.0,1195.5 L1858.0,1198.2 L1859.0,1199.3 L1860.0,1201.2 L1861.0,1203.5 L1862.0,1206.6 L1863.0,1207.9 L1864.0,1211.1 L1865.0,1212.4 L1866.0,1214.7 L1867.0,1217.6 L1868.0,1220.9 L1869.0,1221.8 L1870.0,1224.8 L1871.0,1226.2 L1872.0,1229.1 L1873.0,1230.2 L1874.0,1232.7 L1875.0,1232.8 L1876.0,1234.7 L1877.0,1235.2 L1878.0,1236.2 L1879.0,1236.0 L1880.0,1237.3 L1881.0,1237.8 L1882.0,1238.0 L1883.0,1237.9 L1884.0,1240.0 L1885.0,1240.6 L1886.0,1242.8 L1887.0,1243.2 L1888.0,1245.4 L1889.0,1245.4 L1890.0,1247.1 L1891.0,1245.4 L1892.0,1244.7 L1893.0,1240.7 L1894.0,1237.3 L1895.0,1231.1 L1896.0,1226.6 L1897.0,1220.9 L1898.0,1214.4 L1899.0,1205.7 L1900.0,1198.0 L1901.0,1191.1 L1902.0,1186.4 L1903.0,1182.4 L1904.0,1179.1 L1905.0,1174.9 L1906.0,1173.8 L1907.0,1171.0 L1908.0,1170.4 L1909.0,1168.9 L1910.0,1168.1 L1911.0,1167.9 L1912.0,1166.9 L1913.0,1165.0 L1914.0,1165.1 L1915.0,1162.6 L1916.0,1161.7 L1917.0,1159.7 L1918.0,1156.4 L1919.0,1152.3 L1920.0,1149.8 L1921.0,1146.5 L1922.0,1144.9 L1923.0,1142.3 L1924.0,1142.7 L1925.0,1141.1 L1926.0,1139.9 L1927.0,1139.5 L1928.0,1139.5 L1929.0,1137.5 L1930.0,1136.7 L1931.0,1131.7 L1932.0,1127.9 L1933.0,1121.6 L1934.0,1116.4 L1935.0,1113.8 L1936.0,1110.1 L1937.0,1106.4 L1938.0,1104.8 L1939.0,1102.0 L1940.0,1101.3 L1941.0,1099.2 L1942.0,1098.5 L1943.0,1097.0 L1944.0,1097.1 L1945.0,1094.8 L1946.0,1092.9 L1947.0,1085.7 L1948.0,1077.3 L1949.0,1067.5 L1950.0,1058.4 L1951.0,1046.9 L1952.0,1036.0 L1953.0,1024.2 L1954.0,1015.9 L1955.0,1006.7 L1956.0,999.3 L1957.0,992.1 L1958.0,987.9 L1959.0,981.6 L1960.0,978.3 L1961.0,974.2 L1962.0,973.1 L1963.0,970.6 L1964.0,970.6 L1965.0,969.1 L1966.0,970.3 L1967.0,973.1 L1968.0,978.2 L1969.0,981.6 L1970.0,983.4 L1971.0,984.4 L1972.0,986.7 L1973.0,985.8 L1974.0,983.9 L1975.0,982.1 L1976.0,978.9 L1977.0,975.9 L1978.0,973.8 L1979.0,970.8 L1980.0,968.2 L1981.0,964.3 L1982.0,960.4 L1983.0,957.0 L1984.0,949.5 L1985.0,940.5 L1986.0,930.5 L1987.0,918.3 L1988.0,907.1 L1989.0,892.4 L1990.0,878.8 L1991.0,867.5 L1992.0,856.2 L1993.0,844.6 L1994.0,836.0 L1995.0,827.6 L1996.0,820.7 L1997.0,816.4 L1998.0,816.1 L1999.0,816.6 L2000.0,817.9 L2001.0,819.7 L2002.0,823.4 L2003.0,825.8 L2004.0,830.0 L2005.0,833.8 L2006.0,841.8 L2007.0,850.9 L2008.0,863.0 L2009.0,873.4 L2010.0,886.1 L2011.0,898.5 L2012.0,910.9 L2013.0,920.1 L2014.0,930.3 L2015.0,938.2 L2016.0,945.5 L2017.0,953.1 L2018.0,962.3 L2019.0,973.3 L2020.0,983.2 L2021.0,992.7 L2022.0,1003.4 L2023.0,1012.9 L2024.0,1023.5 L2025.0,1033.4 L2026.0,1044.2 L2027.0,1054.1 L2028.0,1065.9 L2029.0,1076.2 L2030.0,1084.7 L2031.0,1087.6 L2032.0,1091.5 L2033.0,1093.9 L2034.0,1096.9 L2035.0,1098.2 L2036.0,1099.9 L2037.0,1101.6 L2038.0,1103.7 L2039.0,1104.5 L2040.0,1107.0 L2041.0,1106.7 L2042.0,1107.5 L2043.0,1105.7 L2044.0,1104.2 L2045.0,1102.6 L2046.0,1101.0 L2047.0,1098.9 L2048.0,1098.7 L2049.0,1096.8 L2050.0,1096.6 L2051.0,1095.6 L2052.0,1097.2 L2053.0,1099.3 L2054.0,1104.2 L2055.0,1107.3 L2056.0,1113.0 L2057.0,1118.3 L2058.0,1124.6 L2059.0,1128.3 L2060.0,1132.4 L2061.0,1133.7 L2062.0,1134.5 L2063.0,1135.9 L2064.0,1135.4 L2065.0,1135.0 L2066.0,1135.7 L2067.0,1135.3 L2068.0,1134.9 L2069.0,1134.6 L2070.0,1133.1 L2071.0,1133.0 L2072.0,1131.6 L2073.0,1129.8 L2074.0,1127.4 L2075.0,1125.5 L2076.0,1124.5 L2077.0,1121.1 L2078.0,1118.1 L2079.0,1114.2 L2080.0,1111.5 L2081.0,1109.7 L2082.0,1109.7 L2083.0,1111.1 L2084.0,1114.1 L2085.0,1114.9 L2086.0,1118.5 L2087.0,1120.5 L2088.0,1124.4 L2089.0,1128.0 L2090.0,1132.5 L2091.0,1135.7 L2092.0,1137.5 L2093.0,1140.7 L2094.0,1144.3 L2095.0,1146.4 L2096.0,1148.7 L2097.0,1149.5 L2098.0,1151.5 L2099.0,1151.6 L2100.0,1152.8 L2101.0,1153.4 L2102.0,1154.3 L2103.0,1153.4 L2104.0,1154.9 L2105.0,1153.2 L2106.0,1153.0 L2107.0,1152.1 L2108.0,1152.1 L2109.0,1149.7 L2110.0,1148.6 L2111.0,1144.7 L2112.0,1137.9 L2113.0,1127.4 L2114.0,1117.0 L2115.0,1105.4 L2116.0,1094.9 L2117.0,1083.1 L2118.0,1071.9 L2119.0,1060.6 L2120.0,1049.4 L2121.0,1042.7 L2122.0,1038.5 L2123.0,1035.1 L2124.0,1034.1 L2125.0,1032.4 L2126.0,1037.2 L2127.0,1038.1 L2128.0,1043.8 L2129.0,1045.5 L2130.0,1049.2 L2131.0,1052.4 L2132.0,1054.0 L2133.0,1054.5 L2134.0,1059.1 L2135.0,1058.9 L2136.0,1061.9 L2137.0,1061.6 L2138.0,1059.5 L2139.0,1058.8 L2140.0,1058.0 L2141.0,1054.3 L2142.0,1055.4 L2143.0,1051.7 L2144.0,1052.8 L2145.0,1051.0 L2146.0,1050.2 L2147.0,1046.9 L2148.0,1048.1 L2149.0,1046.0 L2150.0,1046.8 L2151.0,1043.9 L2152.0,1045.6 L2153.0,1043.8 L2154.0,1045.2 L2155.0,1041.6 L2156.0,1043.2 L2157.0,1040.7 L2158.0,1036.9 L2159.0,1038.3 L2160.0,1033.8 L2161.0,1030.9 L2162.0,1032.7 L2163.0,1027.1 L2164.0,1027.9 L2165.0,1023.9 L2166.0,1022.1 L2167.0,1019.3 L2168.0,1014.9 L2169.0,1011.0 L2170.0,1011.3 L2171.0,1008.0 L2172.0,1004.0 L2173.0,999.2 L2174.0,996.9 L2175.0,991.8 L2176.0,990.4 L2177.0,984.1 L2178.0,984.4 L2179.0,979.3 L2180.0,979.4 L2181.0,976.5 L2182.0,977.1 L2183.0,974.7 L2184.0,972.2 L2185.0,970.7 L2186.0,968.8 L2187.0,962.9 L2188.0,963.1 L2189.0,960.1 L2190.0,955.2 L2191.0,952.6 L2192.0,952.0 L2193.0,947.3 L2194.0,946.2 L2195.0,941.1 L2196.0,937.9 L2197.0,938.1 L2198.0,936.9 L2199.0,931.1 L2200.0,930.7 L2201.0,927.7 L2202.0,924.8 L2203.0,921.5 L2204.0,920.3 L2205.0,918.3 L2206.0,916.2 L2207.0,914.9 L2208.0,911.6 L2209.0,906.8 L2210.0,907.3 L2211.0,903.4 L2212.0,902.3 L2213.0,898.5 L2214.0,899.6 L2215.0,895.2 L2216.0,893.4 L2217.0,891.6 L2218.0,891.5 L2219.0,886.8 L2220.0,888.1 L2221.0,884.5 L2222.0,883.4 L2223.0,882.3 L2224.0,877.6 L2225.0,877.7 L2226.0,875.6 L2227.0,874.9 L2228.0,872.3 L2229.0,867.8 L2230.0,863.9 L2231.0,863.9 L2232.0,863.4 L2233.0,856.8 L2234.0,857.1 L2235.0,857.1 L2236.0,854.8 L2237.0,851.0 L2238.0,850.1 L2239.0,845.3 L2240.0,845.0 L2241.0,842.0 L2242.0,841.5 L2243.0,837.3 L2244.0,835.9 L2245.0,838.5 L2246.0,835.3 L2247.0,831.8 L2248.0,832.9 L2249.0,829.8 L2250.0,828.3 L2251.0,826.8 L2252.0,829.8 L2253.0,826.6 L2254.0,827.0 L2255.0,823.5 L2256.0,826.3 L2257.0,820.8 L2258.0,821.1 L2259.0,819.8 L2260.0,820.4 L2261.0,817.6 L2262.0,818.9 L2263.0,815.5 L2264.0,817.5 L2265.0,815.2 L2266.0,813.8 L2267.0,810.1 L2268.0,808.6 L2269.0,806.3 L2270.0,808.8 L2271.0,804.9 L2272.0,803.2 L2273.0,797.2 L2274.0,795.0 L2275.0,793.4 L2276.0,789.6 L2277.0,787.1 L2278.0,787.0 L2279.0,784.1 L2280.0,776.9 L2281.0,775.5 L2282.0,774.0 L2283.0,770.3 L2284.0,772.0 L2285.0,766.7 L2286.0,767.5 L2287.0,764.1 L2288.0,764.8 L2289.0,760.4 L2290.0,762.2 L2291.0,756.6 L2292.0,753.8 L2293.0,757.1 L2294.0,755.9 L2295.0,750.1 L2296.0,752.0 L2297.0,751.6 L2298.0,753.6 L2299.0,751.5 L2300.0,751.3 L2301.0,742.0 L2302.0,746.3 L2303.0,735.7 L2304.0,747.0 L2305.0,732.8 L2306.0,739.4 L2307.0,735.4 L2308.0,730.1 L2309.0,724.1 L2310.0,734.0 L2311.0,719.5 L2312.0,748.3 L2313.0,739.2 L2314.0,735.6 L2315.0,715.9 L2316.0,743.5 L2317.0,717.7 L2318.0,736.3 L2319.0,725.3 L2320.0,734.6 L2321.0,714.3 L2322.0,718.8 L2323.0,706.2 L2324.0,733.7 L2325.0,717.9 L2326.0,723.1 L2327.0,700.6 L2328.0,701.5 L2329.0,726.6 L2330.0,715.0 L2331.0,693.8 L2332.0,720.3 L2333.0,699.7 L2334.0,720.1 L2335.0,699.9 L2336.0,724.7 L2337.0,700.6 L2338.0,696.3 L2339.0,684.8 L2340.0,713.7 L2341.0,679.6 L2342.0,723.8 L2343.0,719.5 L2344.0,711.7 L2345.0,713.2 L2346.0,710.7 L2347.0,694.9 L2348.0,704.7 L2349.0,696.1 L2350.0,718.0 L2351.0,690.5 L2352.0,710.4 L2353.0,695.4 L2354.0,698.5 L2355.0,700.6 L2356.0,699.7 L2357.0,690.5 L2358.0,726.1 L2359.0,689.4 L2360.0,713.1 L2361.0,686.0 L2362.0,702.8 L2363.0,694.4 L2364.0,687.0 L2365.0,705.0 L2366.0,700.8 L2367.0,671.8 L2368.0,610.0 L2369.0,578.0 L2370.0,600.0 L2371.0,614.4 L2372.0,665.9 L2373.0,649.9 L2374.0,693.3 L2375.0,698.6 L2376.0,698.4 L2377.0,696.9 L2378.0,663.0 L2379.0,663.2 L2380.0,632.6 L2381.0,674.6" fill="none" stroke="#ff0000" stroke-width="9" stroke-linejoin="round" stroke-linecap="butt"/>
<path d="M174.0,1787.1 L175.0,1786.8 L176.0,1787.1 L177.0,1786.5 L178.0,1787.2 L179.0,1786.5 L180.0,1787.1 L181.0,1787.0 L182.0,1787.7 L183.0,1787.2 L184.0,1787.7 L185.0,1787.1 L186.0,1788.0 L187.0,1788.3 L188.0,1788.0 L189.0,1787.0 L190.0,1788.0 L191.0,1787.4 L192.0,1787.6 L193.0,1788.6 L194.0,1788.4 L195.0,1788.8 L196.0,1788.3 L197.0,1788.5 L198.0,1788.8 L199.0,1787.9 L200.0,1788.8 L201.0,1787.9 L202.0,1788.3 L203.0,1788.0 L204.0,1788.0 L205.0,1789.0 L206.0,1789.5 L207.0,1788.3 L208.0,1789.3 L209.0,1789.9 L210.0,1789.9 L211.0,1789.0 L212.0,1789.8 L213.0,1790.4 L214.0,1790.0 L215.0,1790.1 L216.0,1790.4 L217.0,1789.1 L218.0,1790.7 L219.0,1790.2 L220.0,1791.0 L221.0,1789.8 L222.0,1791.5 L223.0,1791.7 L224.0,1792.0 L225.0,1790.7 L226.0,1791.7 L227.0,1790.2 L228.0,1790.9 L229.0,1790.8 L230.0,1792.8 L231.0,1792.6 L232.0,1793.2 L233.0,1791.7 L234.0,1790.8 L235.0,1791.0 L236.0,1792.8 L237.0,1791.3 L238.0,1791.1 L239.0,1789.8 L240.0,1793.7 L241.0,1791.2 L242.0,1789.2 L243.0,1788.1 L244.0,1794.7 L245.0,1791.2 L246.0,1797.9 L247.0,1798.1 L248.0,1798.7 L249.0,1793.4 L250.0,1790.8 L251.0,1782.0 L252.0,1798.7 L253.0,1795.8 L254.0,1791.4 L255.0,1787.6 L256.0,1796.2 L257.0,1790.8 L258.0,1786.8 L259.0,1790.9 L260.0,1801.2 L261.0,1795.1 L262.0,1800.2 L263.0,1790.1 L264.0,1795.4 L265.0,1787.1 L266.0,1796.9 L267.0,1791.6 L268.0,1799.5 L269.0,1789.0 L270.0,1797.2 L271.0,1790.4 L272.0,1798.8 L273.0,1797.2 L274.0,1792.3 L275.0,1798.7 L276.0,1796.6 L277.0,1791.5 L278.0,1793.9 L279.0,1792.6 L280.0,1794.3 L281.0,1791.5 L282.0,1796.9 L283.0,1791.4 L284.0,1799.5 L285.0,1788.9 L286.0,1797.2 L287.0,1789.1 L288.0,1796.0 L289.0,1787.5 L290.0,1796.2 L291.0,1797.1 L292.0,1799.1 L293.0,1786.1 L294.0,1789.4 L295.0,1801.0 L296.0,1797.0 L297.0,1783.8 L298.0,1795.0 L299.0,1787.8 L300.0,1796.4 L301.0,1789.1 L302.0,1794.5 L303.0,1790.0 L304.0,1794.8 L305.0,1787.3 L306.0,1786.4 L307.0,1786.3 L308.0,1800.2 L309.0,1789.7 L310.0,1788.0 L311.0,1786.0 L312.0,1789.5 L313.0,1789.6 L314.0,1795.8 L315.0,1791.9 L316.0,1795.8 L317.0,1790.7 L318.0,1794.9 L319.0,1791.5 L320.0,1794.0 L321.0,1794.5 L322.0,1796.1 L323.0,1795.7 L324.0,1796.5 L325.0,1783.4 L326.0,1794.4 L327.0,1786.7 L328.0,1781.8 L329.0,1786.3 L330.0,1796.5 L331.0,1795.0 L332.0,1797.7 L333.0,1786.3 L334.0,1786.4 L335.0,1789.4 L336.0,1790.6 L337.0,1787.6 L338.0,1789.4 L339.0,1787.6 L340.0,1789.7 L341.0,1789.1 L342.0,1787.1 L343.0,1787.4 L344.0,1787.3 L345.0,1786.2 L346.0,1786.5 L347.0,1785.8 L348.0,1787.1 L349.0,1785.3 L350.0,1786.1 L351.0,1785.0 L352.0,1786.2 L353.0,1784.7 L354.0,1785.2 L355.0,1784.9 L356.0,1785.3 L357.0,1784.5 L358.0,1784.5 L359.0,1782.6 L360.0,1783.4 L361.0,1782.7 L362.0,1782.3 L363.0,1781.4 L364.0,1782.9 L365.0,1779.0 L366.0,1778.3 L367.0,1779.8 L368.0,1777.3 L369.0,1776.6 L370.0,1777.5 L371.0,1774.7 L372.0,1774.6 L373.0,1771.9 L374.0,1772.4 L375.0,1771.0 L376.0,1769.5 L377.0,1767.1 L378.0,1766.4 L379.0,1764.3 L380.0,1762.9 L381.0,1760.5 L382.0,1759.0 L383.0,1757.0 L384.0,1754.4 L385.0,1751.9 L386.0,1750.2 L387.0,1747.5 L388.0,1746.8 L389.0,1743.5 L390.0,1742.3 L391.0,1739.3 L392.0,1737.4 L393.0,1734.0 L394.0,1732.0 L395.0,1729.4 L396.0,1726.8 L397.0,1725.6 L398.0,1722.9 L399.0,1719.7 L400.0,1717.3 L401.0,1714.1 L402.0,1712.7 L403.0,1709.3 L404.0,1707.4 L405.0,1703.7 L406.0,1701.9 L407.0,1698.1 L408.0,1695.5 L409.0,1691.8 L410.0,1690.5 L411.0,1686.4 L412.0,1684.7 L413.0,1680.8 L414.0,1678.1 L415.0,1674.1 L416.0,1671.0 L417.0,1668.2 L418.0,1666.1 L419.0,1662.1 L420.0,1659.6 L421.0,1656.3 L422.0,1654.4 L423.0,1650.4 L424.0,1647.8 L425.0,1644.2 L426.0,1642.3 L427.0,1638.4 L428.0,1636.5 L429.0,1632.0 L430.0,1629.6 L431.0,1626.5 L432.0,1624.6 L433.0,1620.4 L434.0,1617.1 L435.0,1614.4 L436.0,1610.9 L437.0,1607.7 L438.0,1606.1 L439.0,1601.4 L440.0,1598.7 L441.0,1595.5 L442.0,1592.0 L443.0,1588.9 L444.0,1586.0 L445.0,1583.4 L446.0,1580.4 L447.0,1576.6 L448.0,1573.2 L449.0,1570.0 L450.0,1568.8 L451.0,1564.3 L452.0,1562.6 L453.0,1558.1 L454.0,1555.2 L455.0,1551.4 L456.0,1549.3 L457.0,1545.6 L458.0,1543.6 L459.0,1539.0 L460.0,1535.6 L461.0,1533.6 L462.0,1530.3 L463.0,1526.2 L464.0,1522.7 L465.0,1519.4 L466.0,1517.2 L467.0,1512.8 L468.0,1510.7 L469.0,1506.3 L470.0,1503.3 L471.0,1499.9 L472.0,1497.2 L473.0,1494.0 L474.0,1491.5 L475.0,1489.0 L476.0,1485.6 L477.0,1481.0 L478.0,1478.3 L479.0,1476.7 L480.0,1472.0 L481.0,1468.7 L482.0,1466.9 L483.0,1464.4 L484.0,1460.7 L485.0,1456.5 L486.0,1453.6 L487.0,1450.7 L488.0,1448.2 L489.0,1445.1 L490.0,1442.1 L491.0,1438.6 L492.0,1436.8 L493.0,1433.4 L494.0,1430.9 L495.0,1428.1 L496.0,1426.2 L497.0,1423.8 L498.0,1421.5 L499.0,1417.7 L500.0,1415.0 L501.0,1413.1 L502.0,1411.0 L503.0,1407.9 L504.0,1406.3 L505.0,1403.1 L506.0,1400.9 L507.0,1397.9 L508.0,1396.8 L509.0,1392.8 L510.0,1391.2 L511.0,1388.2 L512.0,1386.2 L513.0,1382.6 L514.0,1381.4 L515.0,1378.4 L516.0,1375.4 L517.0,1373.4 L518.0,1371.3 L519.0,1368.4 L520.0,1366.4 L521.0,1363.4 L522.0,1361.0 L523.0,1359.2 L524.0,1356.9 L525.0,1353.3 L526.0,1351.8 L527.0,1349.3 L528.0,1347.2 L529.0,1344.6 L530.0,1342.1 L531.0,1340.4 L532.0,1337.5 L533.0,1334.7 L534.0,1333.1 L535.0,1329.9 L536.0,1329.0 L537.0,1325.5 L538.0,1324.4 L539.0,1321.3 L540.0,1319.4 L541.0,1317.8 L542.0,1316.2 L543.0,1313.3 L544.0,1311.8 L545.0,1310.6 L546.0,1308.7 L547.0,1306.9 L548.0,1306.1 L549.0,1304.2 L550.0,1302.7 L551.0,1301.8 L552.0,1299.9 L553.0,1297.8 L554.0,1297.7 L555.0,1295.2 L556.0,1295.2 L557.0,1294.0 L558.0,1293.3 L559.0,1291.5 L560.0,1291.5 L561.0,1290.5 L562.0,1289.2 L563.0,1288.2 L564.0,1288.0 L565.0,1286.3 L566.0,1286.4 L567.0,1284.8 L568.0,1285.0 L569.0,1284.0 L570.0,1284.1 L571.0,1283.5 L572.0,1282.6 L573.0,1282.8 L574.0,1283.2 L575.0,1282.1 L576.0,1282.8 L577.0,1281.2 L578.0,1281.3 L579.0,1281.0 L580.0,1281.0 L581.0,1281.0 L582.0,1280.5 L583.0,1280.8 L584.0,1280.4 L585.0,1280.4 L586.0,1280.0 L587.0,1280.8 L588.0,1280.9 L589.0,1279.9 L590.0,1280.7 L591.0,1279.6 L592.0,1280.1 L593.0,1279.7 L594.0,1280.8 L595.0,1279.6 L596.0,1280.7 L597.0,1280.8 L598.0,1281.1 L599.0,1280.2 L600.0,1280.9 L601.0,1280.8 L602.0,1281.5 L603.0,1281.1 L604.0,1282.1 L605.0,1280.9 L606.0,1281.3 L607.0,1281.4 L608.0,1282.0 L609.0,1281.4 L610.0,1282.3 L611.0,1281.5 L612.0,1282.3 L613.0,1281.3 L614.0,1282.0 L615.0,1282.4 L616.0,1282.1 L617.0,1281.3 L618.0,1281.7 L619.0,1281.1 L620.0,1281.4 L621.0,1280.3 L622.0,1281.1 L623.0,1280.4 L624.0,1280.8 L625.0,1280.1 L626.0,1280.6 L627.0,1279.8 L628.0,1280.6 L629.0,1280.5 L630.0,1280.1 L631.0,1279.3 L632.0,1280.3 L633.0,1279.8 L634.0,1280.5 L635.0,1279.7 L636.0,1280.5 L637.0,1281.2 L638.0,1281.3 L639.0,1280.7 L640.0,1281.6 L641.0,1281.2 L642.0,1282.3 L643.0,1281.8 L644.0,1283.1 L645.0,1282.4 L646.0,1283.4 L647.0,1282.8 L648.0,1283.9 L649.0,1283.9 L650.0,1284.9 L651.0,1286.0 L652.0,1286.2 L653.0,1287.3 L654.0,1288.1 L655.0,1289.7 L656.0,1291.0 L657.0,1290.8 L658.0,1292.0 L659.0,1292.9 L660.0,1294.8 L661.0,1295.3 L662.0,1296.9 L663.0,1297.8 L664.0,1299.4 L665.0,1300.5 L666.0,1302.3 L667.0,1303.6 L668.0,1305.5 L669.0,1307.4 L670.0,1308.4 L671.0,1310.3 L672.0,1312.9 L673.0,1314.5 L674.0,1315.5 L675.0,1317.5 L676.0,1319.5 L677.0,1322.0 L678.0,1324.9 L679.0,1326.3 L680.0,1328.7 L681.0,1330.9 L682.0,1334.0 L683.0,1335.9 L684.0,1338.5 L685.0,1339.4 L686.0,1341.7 L687.0,1344.3 L688.0,1346.5 L689.0,1349.5 L690.0,1351.5 L691.0,1353.2 L692.0,1355.5 L693.0,1358.2 L694.0,1360.9 L695.0,1363.5 L696.0,1364.7 L697.0,1367.5 L698.0,1369.4 L699.0,1372.5 L700.0,1375.2 L701.0,1376.9 L702.0,1380.1 L703.0,1381.8 L704.0,1384.2 L705.0,1386.5 L706.0,1388.6 L707.0,1391.1 L708.0,1393.8 L709.0,1396.9 L710.0,1399.0 L711.0,1401.6 L712.0,1404.4 L713.0,1406.1 L714.0,1408.8 L715.0,1411.4 L716.0,1413.7 L717.0,1415.7 L718.0,1418.8 L719.0,1420.6 L720.0,1423.5 L721.0,1426.5 L722.0,1428.7 L723.0,1430.8 L724.0,1433.8 L725.0,1435.7 L726.0,1438.5 L727.0,1440.3 L728.0,1443.1 L729.0,1445.0 L730.0,1448.0 L731.0,1450.3 L732.0,1453.1 L733.0,1456.4 L734.0,1458.8 L735.0,1460.2 L736.0,1463.3 L737.0,1465.4 L738.0,1468.5 L739.0,1470.4 L740.0,1473.4 L741.0,1474.8 L742.0,1477.9 L743.0,1480.4 L744.0,1483.2 L745.0,1484.2 L746.0,1487.0 L747.0,1489.2 L748.0,1491.8 L749.0,1492.9 L750.0,1496.2 L751.0,1497.5 L752.0,1499.3 L753.0,1501.3 L754.0,1504.3 L755.0,1505.4 L756.0,1508.0 L757.0,1510.2 L758.0,1512.6 L759.0,1514.7 L760.0,1516.7 L761.0,1519.1 L762.0,1522.5 L763.0,1524.5 L764.0,1527.7 L765.0,1530.2 L766.0,1533.5 L767.0,1536.9 L768.0,1539.6 L769.0,1542.1 L770.0,1545.8 L771.0,1548.6 L772.0,1551.3 L773.0,1552.9 L774.0,1556.4 L775.0,1558.2 L776.0,1561.5 L777.0,1564.2 L778.0,1567.3 L779.0,1568.7 L780.0,1571.4 L781.0,1573.8 L782.0,1576.9 L783.0,1578.1 L784.0,1580.3 L785.0,1581.3 L786.0,1584.4 L787.0,1585.1 L788.0,1586.7 L789.0,1588.4 L790.0,1590.4 L791.0,1592.0 L792.0,1593.9 L793.0,1594.4 L794.0,1595.5 L795.0,1596.3 L796.0,1598.0 L797.0,1597.8 L798.0,1599.1 L799.0,1599.4 L800.0,1599.6 L801.0,1600.4 L802.0,1601.5 L803.0,1601.2 L804.0,1602.3 L805.0,1602.4 L806.0,1602.9 L807.0,1603.2 L808.0,1603.0 L809.0,1602.2 L810.0,1602.0 L811.0,1601.8 L812.0,1603.0 L813.0,1602.0 L814.0,1602.5 L815.0,1602.1 L816.0,1602.0 L817.0,1601.5 L818.0,1601.4 L819.0,1601.2 L820.0,1601.4 L821.0,1600.7 L822.0,1601.6 L823.0,1601.1 L824.0,1600.8 L825.0,1601.6 L826.0,1600.9 L827.0,1600.9 L828.0,1602.3 L829.0,1602.6 L830.0,1603.3 L831.0,1603.6 L832.0,1604.8 L833.0,1605.1 L834.0,1606.7 L835.0,1606.8 L836.0,1608.5 L837.0,1610.0 L838.0,1612.1 L839.0,1614.6 L840.0,1616.5 L841.0,1617.9 L842.0,1619.7 L843.0,1621.0 L844.0,1623.6 L845.0,1624.7 L846.0,1625.7 L847.0,1627.4 L848.0,1628.3 L849.0,1628.9 L850.0,1630.9 L851.0,1631.6 L852.0,1632.9 L853.0,1633.7 L854.0,1635.2 L855.0,1636.6 L856.0,1637.5 L857.0,1638.3 L858.0,1639.2 L859.0,1639.8 L860.0,1640.6 L861.0,1641.1 L862.0,1642.8 L863.0,1643.5 L864.0,1644.8 L865.0,1645.1 L866.0,1645.2 L867.0,1646.3 L868.0,1647.6 L869.0,1647.9 L870.0,1648.8 L871.0,1649.6 L872.0,1650.8 L873.0,1651.2 L874.0,1652.6 L875.0,1653.1 L876.0,1654.3 L877.0,1654.5 L878.0,1655.9 L879.0,1658.2 L880.0,1660.6 L881.0,1663.7 L882.0,1666.3 L883.0,1668.1 L884.0,1670.2 L885.0,1671.8 L886.0,1673.4 L887.0,1674.6 L888.0,1675.0 L889.0,1676.0 L890.0,1678.4 L891.0,1678.7 L892.0,1680.4 L893.0,1680.6 L894.0,1681.8 L895.0,1682.1 L896.0,1682.9 L897.0,1684.3 L898.0,1684.8 L899.0,1686.1 L900.0,1686.4 L901.0,1687.5 L902.0,1689.0 L903.0,1688.8 L904.0,1690.0 L905.0,1690.5 L906.0,1691.7 L907.0,1692.2 L908.0,1692.6 L909.0,1694.2 L910.0,1694.4 L911.0,1694.6 L912.0,1695.4 L913.0,1695.3 L914.0,1696.2 L915.0,1696.5 L916.0,1697.2 L917.0,1698.0 L918.0,1697.5 L919.0,1698.1 L920.0,1698.2 L921.0,1698.6 L922.0,1699.7 L923.0,1699.1 L924.0,1700.3 L925.0,1700.2 L926.0,1701.0 L927.0,1700.5 L928.0,1701.5 L929.0,1701.3 L930.0,1701.9 L931.0,1701.5 L932.0,1701.7 L933.0,1702.4 L934.0,1703.2 L935.0,1703.2 L936.0,1703.5 L937.0,1702.7 L938.0,1703.5 L939.0,1704.1 L940.0,1704.3 L941.0,1703.6 L942.0,1704.3 L943.0,1703.8 L944.0,1704.8 L945.0,1704.3 L946.0,1705.1 L947.0,1704.4 L948.0,1705.6 L949.0,1704.6 L950.0,1706.2 L951.0,1705.7 L952.0,1706.6 L953.0,1705.7 L954.0,1707.3 L955.0,1706.4 L956.0,1707.9 L957.0,1706.9 L958.0,1708.1 L959.0,1708.3 L960.0,1709.2 L961.0,1709.8 L962.0,1710.0 L963.0,1709.7 L964.0,1709.9 L965.0,1710.5 L966.0,1712.0 L967.0,1711.4 L968.0,1712.7 L969.0,1712.4 L970.0,1713.8 L971.0,1713.7 L972.0,1714.6 L973.0,1714.8 L974.0,1715.0 L975.0,1715.7 L976.0,1717.2 L977.0,1717.5 L978.0,1718.5 L979.0,1718.2 L980.0,1718.4 L981.0,1719.1 L982.0,1720.5 L983.0,1721.3 L984.0,1721.6 L985.0,1722.5 L986.0,1722.2 L987.0,1723.0 L988.0,1724.2 L989.0,1724.2 L990.0,1725.6 L991.0,1725.6 L992.0,1725.8 L993.0,1727.4 L994.0,1727.3 L995.0,1727.5 L996.0,1729.2 L997.0,1729.0 L998.0,1730.3 L999.0,1730.8 L1000.0,1731.5 L1001.0,1731.6 L1002.0,1731.8 L1003.0,1732.5 L1004.0,1733.6 L1005.0,1734.1 L1006.0,1734.8 L1007.0,1735.1 L1008.0,1735.1 L1009.0,1735.4 L1010.0,1735.6 L1011.0,1736.7 L1012.0,1737.1 L1013.0,1736.6 L1014.0,1738.2 L1015.0,1737.9 L1016.0,1738.8 L1017.0,1738.5 L1018.0,1739.4 L1019.0,1738.8 L1020.0,1739.9 L1021.0,1740.0 L1022.0,1740.9 L1023.0,1740.4 L1024.0,1741.9 L1025.0,1742.3 L1026.0,1742.6 L1027.0,1742.8 L1028.0,1742.9 L1029.0,1742.7 L1030.0,1742.7 L1031.0,1743.1 L1032.0,1744.4 L1033.0,1743.7 L1034.0,1745.1 L1035.0,1745.2 L1036.0,1744.9 L1037.0,1745.3 L1038.0,1745.9 L1039.0,1746.4 L1040.0,1746.5 L1041.0,1746.4 L1042.0,1747.0 L1043.0,1747.2 L1044.0,1747.8 L1045.0,1747.2 L1046.0,1748.6 L1047.0,1747.6 L1048.0,1748.6 L1049.0,1748.5 L1050.0,1749.6 L1051.0,1748.9 L1052.0,1749.0 L1053.0,1749.1 L1054.0,1749.4 L1055.0,1750.2 L1056.0,1750.7 L1057.0,1751.0 L1058.0,1750.5 L1059.0,1751.0 L1060.0,1752.1 L1061.0,1751.4 L1062.0,1752.5 L1063.0,1751.8 L1064.0,1752.8 L1065.0,1753.1 L1066.0,1753.0 L1067.0,1753.1 L1068.0,1754.8 L1069.0,1755.2 L1070.0,1755.1 L1071.0,1754.7 L1072.0,1755.9 L1073.0,1755.9 L1074.0,1757.1 L1075.0,1756.8 L1076.0,1757.8 L1077.0,1757.1 L1078.0,1758.6 L1079.0,1757.6 L1080.0,1759.0 L1081.0,1758.9 L1082.0,1759.1 L1083.0,1759.3 L1084.0,1759.7 L1085.0,1759.4 L1086.0,1760.6 L1087.0,1759.5 L1088.0,1760.4 L1089.0,1760.2 L1090.0,1760.1 L1091.0,1760.6 L1092.0,1761.4 L1093.0,1761.8 L1094.0,1762.0 L1095.0,1761.4 L1096.0,1762.3 L1097.0,1761.6 L1098.0,1762.1 L1099.0,1762.4 L1100.0,1762.9 L1101.0,1762.3 L1102.0,1762.8 L1103.0,1762.1 L1104.0,1763.2 L1105.0,1763.7 L1106.0,1763.0 L1107.0,1763.5 L1108.0,1764.2 L1109.0,1763.9 L1110.0,1764.5 L1111.0,1764.4 L1112.0,1764.6 L1113.0,1764.0 L1114.0,1764.8 L1115.0,1763.8 L1116.0,1764.9 L1117.0,1763.9 L1118.0,1765.2 L1119.0,1765.0 L1120.0,1764.0 L1121.0,1764.2 L1122.0,1765.3 L1123.0,1764.8 L1124.0,1764.9 L1125.0,1764.6 L1126.0,1764.7 L1127.0,1765.1 L1128.0,1765.3 L1129.0,1764.2 L1130.0,1763.9 L1131.0,1764.0 L1132.0,1765.0 L1133.0,1764.3 L1134.0,1764.7 L1135.0,1765.2 L1136.0,1765.2 L1137.0,1763.9 L1138.0,1764.7 L1139.0,1763.9 L1140.0,1764.8 L1141.0,1763.8 L1142.0,1764.8 L1143.0,1764.3 L1144.0,1764.6 L1145.0,1764.1 L1146.0,1764.5 L1147.0,1764.5 L1148.0,1764.2 L1149.0,1764.5 L1150.0,1764.8 L1151.0,1764.5 L1152.0,1764.1 L1153.0,1762.9 L1154.0,1762.9 L1155.0,1764.5 L1156.0,1763.7 L1157.0,1762.7 L1158.0,1763.7 L1159.0,1762.4 L1160.0,1763.6 L1161.0,1762.8 L1162.0,1764.2 L1163.0,1761.9 L1164.0,1763.6 L1165.0,1763.3 L1166.0,1763.3 L1167.0,1761.6 L1168.0,1762.9 L1169.0,1761.6 L1170.0,1762.5 L1171.0,1762.9 L1172.0,1762.2 L1173.0,1760.9 L1174.0,1762.0 L1175.0,1762.9 L1176.0,1762.1 L1177.0,1760.7 L1178.0,1761.2 L1179.0,1759.4 L1180.0,1762.4 L1181.0,1761.0 L1182.0,1761.4 L1183.0,1759.4 L1184.0,1761.0 L1185.0,1758.7 L1186.0,1761.4 L1187.0,1758.2 L1188.0,1759.2 L1189.0,1758.4 L1190.0,1759.7 L1191.0,1759.7 L1192.0,1759.8 L1193.0,1758.0 L1194.0,1759.7 L1195.0,1759.0 L1196.0,1759.5 L1197.0,1758.2 L1198.0,1758.1 L1199.0,1757.0 L1200.0,1759.3 L1201.0,1757.8 L1202.0,1757.0 L1203.0,1756.6 L1204.0,1759.2 L1205.0,1758.3 L1206.0,1758.9 L1207.0,1757.5 L1208.0,1757.5 L1209.0,1757.7 L1210.0,1758.2 L1211.0,1756.9 L1212.0,1757.6 L1213.0,1757.9 L1214.0,1758.6 L1215.0,1757.7 L1216.0,1758.4 L1217.0,1757.4 L1218.0,1758.9 L1219.0,1757.5 L1220.0,1759.2 L1221.0,1757.5 L1222.0,1759.4 L1223.0,1759.1 L1224.0,1757.4 L1225.0,1757.4 L1226.0,1758.7 L1227.0,1758.1 L1228.0,1759.0 L1229.0,1759.0 L1230.0,1758.7 L1231.0,1758.1 L1232.0,1759.3 L1233.0,1757.9 L1234.0,1759.1 L1235.0,1757.6 L1236.0,1757.6 L1237.0,1758.1 L1238.0,1758.6 L1239.0,1757.1 L1240.0,1758.4 L1241.0,1756.6 L1242.0,1756.5 L1243.0,1757.0 L1244.0,1756.2 L1245.0,1757.1 L1246.0,1756.7 L1247.0,1755.9 L1248.0,1756.9 L1249.0,1756.3 L1250.0,1757.6 L1251.0,1756.3 L1252.0,1757.5 L1253.0,1755.8 L1254.0,1758.2 L1255.0,1756.8 L1256.0,1756.2 L1257.0,1755.3 L1258.0,1757.5 L1259.0,1755.2 L1260.0,1758.1 L1261.0,1754.9 L1262.0,1757.2 L1263.0,1757.0 L1264.0,1757.8 L1265.0,1756.8 L1266.0,1757.8 L1267.0,1757.8 L1268.0,1755.4 L1269.0,1754.5 L1270.0,1756.8 L1271.0,1756.3 L1272.0,1754.2 L1273.0,1754.4 L1274.0,1756.8 L1275.0,1758.4 L1276.0,1758.0 L1277.0,1757.0 L1278.0,1757.6 L1279.0,1754.8 L1280.0,1758.2 L1281.0,1755.8 L1282.0,1756.2 L1283.0,1756.9 L1284.0,1757.3 L1285.0,1757.5 L1286.0,1757.3 L1287.0,1755.3 L1288.0,1757.0 L1289.0,1755.1 L1290.0,1757.8 L1291.0,1755.3 L1292.0,1758.0 L1293.0,1752.9 L1294.0,1760.0 L1295.0,1755.7 L1296.0,1757.3 L1297.0,1753.7 L1298.0,1757.4 L1299.0,1752.0 L1300.0,1758.9 L1301.0,1750.6 L1302.0,1759.0 L1303.0,1753.4 L1304.0,1757.6 L1305.0,1755.5 L1306.0,1758.2 L1307.0,1762.5 L1308.0,1762.7 L1309.0,1753.5 L1310.0,1760.3 L1311.0,1753.2 L1312.0,1755.0 L1313.0,1752.8 L1314.0,1758.4 L1315.0,1753.3 L1316.0,1757.7 L1317.0,1754.9 L1318.0,1759.9 L1319.0,1760.5 L1320.0,1758.5 L1321.0,1756.4 L1322.0,1761.5 L1323.0,1757.2 L1324.0,1759.5 L1325.0,1760.7 L1326.0,1754.9 L1327.0,1757.6 L1328.0,1758.4 L1329.0,1758.8 L1330.0,1755.9 L1331.0,1758.9 L1332.0,1762.8 L1333.0,1759.9 L1334.0,1762.1 L1335.0,1762.8 L1336.0,1763.5 L1337.0,1763.3 L1338.0,1762.7 L1339.0,1760.7 L1340.0,1760.1 L1341.0,1760.0 L1342.0,1762.7 L1343.0,1762.3 L1344.0,1764.6 L1345.0,1761.1 L1346.0,1763.0 L1347.0,1760.4 L1348.0,1762.5 L1349.0,1759.6 L1350.0,1762.7 L1351.0,1759.6 L1352.0,1762.6 L1353.0,1762.8 L1354.0,1764.4 L1355.0,1761.9 L1356.0,1762.8 L1357.0,1767.6 L1358.0,1763.5 L1359.0,1769.1 L1360.0,1769.9 L1361.0,1765.9 L1362.0,1771.9 L1363.0,1767.3 L1364.0,1773.5 L1365.0,1772.5 L1366.0,1774.2 L1367.0,1770.6 L1368.0,1771.9 L1369.0,1776.4 L1370.0,1773.8 L1371.0,1774.9 L1372.0,1780.4 L1373.0,1775.4 L1374.0,1778.2 L1375.0,1776.4 L1376.0,1784.0 L1377.0,1778.6 L1378.0,1773.8 L1379.0,1781.1 L1380.0,1780.7 L1381.0,1786.8 L1382.0,1782.3 L1383.0,1773.6 L1384.0,1778.7 L1385.0,1778.2 L1386.0,1789.0 L1387.0,1778.9 L1388.0,1788.3 L1389.0,1774.2 L1390.0,1785.2 L1391.0,1780.1 L1392.0,1789.3 L1393.0,1783.7 L1394.0,1785.4 L1395.0,1784.1 L1396.0,1790.8 L1397.0,1778.7 L1398.0,1787.0 L1399.0,1774.7 L1400.0,1784.1 L1401.0,1775.4 L1402.0,1787.9 L1403.0,1770.6 L1404.0,1784.5 L1405.0,1783.4 L1406.0,1783.1 L1407.0,1774.3 L1408.0,1782.2 L1409.0,1782.6 L1410.0,1773.2 L1411.0,1772.2 L1412.0,1784.1 L1413.0,1772.8 L1414.0,1779.3 L1415.0,1782.7 L1416.0,1779.3 L1417.0,1771.6 L1418.0,1771.4 L1419.0,1775.4 L1420.0,1783.1 L1421.0,1773.4 L1422.0,1781.1 L1423.0,1780.8 L1424.0,1773.3 L1425.0,1775.8 L1426.0,1779.4 L1427.0,1771.9 L1428.0,1780.1 L1429.0,1774.4 L1430.0,1780.4 L1431.0,1772.5 L1432.0,1777.8 L1433.0,1779.3 L1434.0,1774.8 L1435.0,1775.1 L1436.0,1773.9 L1437.0,1772.7 L1438.0,1778.0 L1439.0,1776.6 L1440.0,1777.0 L1441.0,1772.6 L1442.0,1777.7 L1443.0,1771.8 L1444.0,1775.7 L1445.0,1772.4 L1446.0,1777.1 L1447.0,1773.7 L1448.0,1771.4 L1449.0,1772.9 L1450.0,1776.7 L1451.0,1777.9 L1452.0,1776.2 L1453.0,1772.0 L1454.0,1776.2 L1455.0,1771.2 L1456.0,1771.7 L1457.0,1773.3 L1458.0,1774.3 L1459.0,1777.0 L1460.0,1776.4 L1461.0,1773.0 L1462.0,1776.7 L1463.0,1771.1 L1464.0,1775.6 L1465.0,1776.0 L1466.0,1776.7 L1467.0,1772.0 L1468.0,1772.7 L1469.0,1770.6 L1470.0,1771.8 L1471.0,1770.3 L1472.0,1775.3 L1473.0,1770.3 L1474.0,1775.8 L1475.0,1773.4 L1476.0,1773.4 L1477.0,1770.1 L1478.0,1773.3 L1479.0,1774.8 L1480.0,1773.7 L1481.0,1777.9 L1482.0,1766.9 L1483.0,1767.1 L1484.0,1776.5 L1485.0,1770.1 L1486.0,1768.8 L1487.0,1768.5 L1488.0,1771.4 L1489.0,1769.8 L1490.0,1773.5 L1491.0,1769.4 L1492.0,1773.2 L1493.0,1768.5 L1494.0,1771.4 L1495.0,1769.0 L1496.0,1772.1 L1497.0,1767.9 L1498.0,1769.7 L1499.0,1768.1 L1500.0,1768.0 L1501.0,1766.1 L1502.0,1769.3 L1503.0,1766.3 L1504.0,1768.8 L1505.0,1765.0 L1506.0,1768.8 L1507.0,1766.0 L1508.0,1764.5 L1509.0,1764.7 L1510.0,1764.1 L1511.0,1764.5 L1512.0,1766.9 L1513.0,1764.9 L1514.0,1764.0 L1515.0,1765.1 L1516.0,1766.5 L1517.0,1764.8 L1518.0,1764.0 L1519.0,1763.6 L1520.0,1765.0 L1521.0,1763.1 L1522.0,1763.7 L1523.0,1764.9 L1524.0,1765.0 L1525.0,1761.9 L1526.0,1763.9 L1527.0,1763.2 L1528.0,1760.7 L1529.0,1761.2 L1530.0,1761.1 L1531.0,1761.8 L1532.0,1762.6 L1533.0,1759.7 L1534.0,1759.5 L1535.0,1761.0 L1536.0,1760.7 L1537.0,1758.3 L1538.0,1760.6 L1539.0,1757.9 L1540.0,1759.3 L1541.0,1756.8 L1542.0,1758.1 L1543.0,1756.9 L1544.0,1757.7 L1545.0,1755.4 L1546.0,1756.2 L1547.0,1756.2 L1548.0,1755.5 L1549.0,1754.1 L1550.0,1754.0 L1551.0,1751.9 L1552.0,1753.0 L1553.0,1750.2 L1554.0,1750.3 L1555.0,1748.6 L1556.0,1748.7 L1557.0,1745.4 L1558.0,1744.5 L1559.0,1743.2 L1560.0,1743.0 L1561.0,1740.2 L1562.0,1739.8 L1563.0,1737.7 L1564.0,1737.7 L1565.0,1735.0 L1566.0,1734.0 L1567.0,1732.5 L1568.0,1730.9 L1569.0,1728.3 L1570.0,1727.3 L1571.0,1724.2 L1572.0,1722.7 L1573.0,1720.6 L1574.0,1717.8 L1575.0,1713.9 L1576.0,1712.4 L1577.0,1708.2 L1578.0,1706.1 L1579.0,1702.2 L1580.0,1699.0 L1581.0,1695.0 L1582.0,1692.0 L1583.0,1688.6 L1584.0,1684.6 L1585.0,1680.3 L1586.0,1675.1 L1587.0,1669.4 L1588.0,1664.2 L1589.0,1657.2 L1590.0,1651.6 L1591.0,1644.2 L1592.0,1636.3 L1593.0,1629.1 L1594.0,1620.8 L1595.0,1614.1 L1596.0,1607.6 L1597.0,1599.5 L1598.0,1592.2 L1599.0,1584.8 L1600.0,1576.0 L1601.0,1567.1 L1602.0,1558.4 L1603.0,1549.3 L1604.0,1541.1 L1605.0,1532.4 L1606.0,1523.3 L1607.0,1514.2 L1608.0,1504.7 L1609.0,1492.2 L1610.0,1480.0 L1611.0,1461.7 L1612.0,1444.5 L1613.0,1433.4 L1614.0,1425.9 L1615.0,1418.9 L1616.0,1410.3 L1617.0,1399.7 L1618.0,1390.5 L1619.0,1379.9 L1620.0,1369.9 L1621.0,1359.5 L1622.0,1350.3 L1623.0,1340.0 L1624.0,1330.4 L1625.0,1319.1 L1626.0,1308.6 L1627.0,1296.9 L1628.0,1284.6 L1629.0,1272.8 L1630.0,1263.1 L1631.0,1252.0 L1632.0,1242.5 L1633.0,1232.3 L1634.0,1221.7 L1635.0,1209.4 L1636.0,1197.7 L1637.0,1186.0 L1638.0,1173.8 L1639.0,1160.0 L1640.0,1147.6 L1641.0,1135.3 L1642.0,1121.5 L1643.0,1106.4 L1644.0,1093.3 L1645.0,1080.6 L1646.0,1069.8 L1647.0,1058.7 L1648.0,1048.7 L1649.0,1041.5 L1650.0,1039.8 L1651.0,1045.3 L1652.0,1053.9 L1653.0,1065.5 L1654.0,1075.9 L1655.0,1086.9 L1656.0,1099.9 L1657.0,1113.2 L1658.0,1128.2 L1659.0,1144.7 L1660.0,1164.9 L1661.0,1186.3 L1662.0,1209.1 L1663.0,1232.2 L1664.0,1256.9 L1665.0,1283.1 L1666.0,1318.9 L1667.0,1343.6 L1668.0,1348.1 L1669.0,1347.6 L1670.0,1349.9 L1671.0,1376.2 L1672.0,1409.9 L1673.0,1431.2 L1674.0,1446.6 L1675.0,1459.7 L1676.0,1469.3 L1677.0,1477.7 L1678.0,1489.0 L1679.0,1498.6 L1680.0,1509.5 L1681.0,1518.3 L1682.0,1528.7 L1683.0,1536.5 L1684.0,1545.9 L1685.0,1554.2 L1686.0,1561.2 L1687.0,1566.8 L1688.0,1572.5 L1689.0,1577.7 L1690.0,1583.3 L1691.0,1587.6 L1692.0,1591.6 L1693.0,1595.1 L1694.0,1598.6 L1695.0,1601.2 L1696.0,1603.9 L1697.0,1606.3 L1698.0,1609.5 L1699.0,1611.2 L1700.0,1614.8 L1701.0,1616.7 L1702.0,1620.5 L1703.0,1623.9 L1704.0,1626.1 L1705.0,1628.1 L1706.0,1630.3 L1707.0,1632.1 L1708.0,1634.1 L1709.0,1635.8 L1710.0,1637.8 L1711.0,1638.1 L1712.0,1638.7 L1713.0,1637.3 L1714.0,1637.4 L1715.0,1636.4 L1716.0,1635.2 L1717.0,1632.8 L1718.0,1632.2 L1719.0,1630.1 L1720.0,1627.8 L1721.0,1625.6 L1722.0,1622.1 L1723.0,1618.5 L1724.0,1615.4 L1725.0,1611.0 L1726.0,1606.5 L1727.0,1601.1 L1728.0,1596.8 L1729.0,1589.6 L1730.0,1584.0 L1731.0,1576.3 L1732.0,1569.5 L1733.0,1560.9 L1734.0,1551.5 L1735.0,1540.2 L1736.0,1528.9 L1737.0,1514.8 L1738.0,1500.8 L1739.0,1487.5 L1740.0,1473.8 L1741.0,1459.5 L1742.0,1446.6 L1743.0,1433.1 L1744.0,1420.9 L1745.0,1406.3 L1746.0,1394.1 L1747.0,1379.5 L1748.0,1366.4 L1749.0,1353.0 L1750.0,1339.6 L1751.0,1325.1 L1752.0,1313.0 L1753.0,1300.6 L1754.0,1287.7 L1755.0,1275.7 L1756.0,1266.7 L1757.0,1264.7 L1758.0,1267.7 L1759.0,1273.7 L1760.0,1282.5 L1761.0,1291.1 L1762.0,1300.3 L1763.0,1309.0 L1764.0,1319.4 L1765.0,1330.5 L1766.0,1342.0 L1767.0,1354.6 L1768.0,1368.9 L1769.0,1381.8 L1770.0,1396.3 L1771.0,1410.0 L1772.0,1425.1 L1773.0,1438.7 L1774.0,1451.0 L1775.0,1459.9 L1776.0,1469.4 L1777.0,1475.9 L1778.0,1481.5 L1779.0,1484.0 L1780.0,1486.0 L1781.0,1486.3 L1782.0,1488.1 L1783.0,1487.9 L1784.0,1489.3 L1785.0,1490.5 L1786.0,1494.0 L1787.0,1496.5 L1788.0,1499.8 L1789.0,1503.0 L1790.0,1504.6 L1791.0,1506.1 L1792.0,1508.6 L1793.0,1509.3 L1794.0,1510.9 L1795.0,1510.9 L1796.0,1511.9 L1797.0,1511.6 L1798.0,1512.2 L1799.0,1510.7 L1800.0,1511.1 L1801.0,1510.1 L1802.0,1509.5 L1803.0,1508.3 L1804.0,1508.5 L1805.0,1507.9 L1806.0,1507.9 L1807.0,1507.8 L1808.0,1508.3 L1809.0,1508.5 L1810.0,1508.8 L1811.0,1508.6 L1812.0,1509.3 L1813.0,1508.9 L1814.0,1508.4 L1815.0,1507.1 L1816.0,1506.5 L1817.0,1504.2 L1818.0,1502.8 L1819.0,1500.2 L1820.0,1499.0 L1821.0,1496.5 L1822.0,1494.2 L1823.0,1490.6 L1824.0,1488.6 L1825.0,1485.1 L1826.0,1484.3 L1827.0,1482.6 L1828.0,1480.6 L1829.0,1479.8 L1830.0,1480.5 L1831.0,1481.8 L1832.0,1483.7 L1833.0,1484.9 L1834.0,1487.8 L1835.0,1491.8 L1836.0,1496.3 L1837.0,1501.7 L1838.0,1506.9 L1839.0,1514.2 L1840.0,1519.8 L1841.0,1527.4 L1842.0,1531.6 L1843.0,1532.0 L1844.0,1534.1 L1845.0,1533.8 L1846.0,1534.3 L1847.0,1534.8 L1848.0,1536.2 L1849.0,1536.1 L1850.0,1537.2 L1851.0,1537.1 L1852.0,1538.8 L1853.0,1539.6 L1854.0,1541.4 L1855.0,1542.8 L1856.0,1545.5 L1857.0,1548.2 L1858.0,1550.5 L1859.0,1551.9 L1860.0,1555.7 L1861.0,1557.5 L1862.0,1560.6 L1863.0,1562.1 L1864.0,1565.7 L1865.0,1567.7 L1866.0,1570.9 L1867.0,1574.1 L1868.0,1577.0 L1869.0,1580.7 L1870.0,1584.5 L1871.0,1589.5 L1872.0,1594.3 L1873.0,1598.3 L1874.0,1601.5 L1875.0,1603.4 L1876.0,1604.5 L1877.0,1604.6 L1878.0,1606.2 L1879.0,1605.8 L1880.0,1606.6 L1881.0,1607.7 L1882.0,1609.9 L1883.0,1610.6 L1884.0,1612.9 L1885.0,1614.3 L1886.0,1616.4 L1887.0,1617.5 L1888.0,1620.2 L1889.0,1621.0 L1890.0,1622.0 L1891.0,1621.5 L1892.0,1620.3 L1893.0,1617.0 L1894.0,1613.1 L1895.0,1609.4 L1896.0,1603.9 L1897.0,1594.1 L1898.0,1585.0 L1899.0,1573.7 L1900.0,1561.9 L1901.0,1548.2 L1902.0,1537.4 L1903.0,1530.9 L1904.0,1525.4 L1905.0,1521.7 L1906.0,1518.2 L1907.0,1514.8 L1908.0,1513.4 L1909.0,1512.6 L1910.0,1511.4 L1911.0,1510.5 L1912.0,1509.8 L1913.0,1508.1 L1914.0,1507.4 L1915.0,1504.6 L1916.0,1501.3 L1917.0,1495.9 L1918.0,1491.0 L1919.0,1484.7 L1920.0,1479.2 L1921.0,1475.1 L1922.0,1473.1 L1923.0,1471.7 L1924.0,1469.7 L1925.0,1468.9 L1926.0,1467.8 L1927.0,1466.7 L1928.0,1465.6 L1929.0,1463.3 L1930.0,1460.4 L1931.0,1455.0 L1932.0,1448.9 L1933.0,1441.5 L1934.0,1434.9 L1935.0,1427.6 L1936.0,1422.3 L1937.0,1415.7 L1938.0,1410.0 L1939.0,1404.8 L1940.0,1403.2 L1941.0,1401.6 L1942.0,1400.5 L1943.0,1399.0 L1944.0,1398.0 L1945.0,1395.7 L1946.0,1389.9 L1947.0,1378.5 L1948.0,1365.2 L1949.0,1352.8 L1950.0,1339.6 L1951.0,1326.0 L1952.0,1313.0 L1953.0,1299.5 L1954.0,1287.2 L1955.0,1274.5 L1956.0,1263.3 L1957.0,1252.2 L1958.0,1241.4 L1959.0,1231.1 L1960.0,1224.3 L1961.0,1219.9 L1962.0,1217.1 L1963.0,1213.7 L1964.0,1213.2 L1965.0,1215.5 L1966.0,1223.3 L1967.0,1230.1 L1968.0,1236.1 L1969.0,1241.2 L1970.0,1245.3 L1971.0,1247.4 L1972.0,1248.8 L1973.0,1246.4 L1974.0,1244.5 L1975.0,1240.3 L1976.0,1237.0 L1977.0,1232.6 L1978.0,1229.3 L1979.0,1223.7 L1980.0,1219.8 L1981.0,1213.6 L1982.0,1207.1 L1983.0,1198.4 L1984.0,1188.5 L1985.0,1174.8 L1986.0,1159.8 L1987.0,1136.0 L1988.0,1110.0 L1989.0,1088.2 L1990.0,1068.9 L1991.0,1052.2 L1992.0,1035.9 L1993.0,1021.1 L1994.0,1010.5 L1995.0,1002.6 L1996.0,997.3 L1997.0,995.7 L1998.0,996.2 L1999.0,998.8 L2000.0,1003.0 L2001.0,1008.2 L2002.0,1013.3 L2003.0,1019.5 L2004.0,1030.0 L2005.0,1042.5 L2006.0,1056.2 L2007.0,1074.1 L2008.0,1094.7 L2009.0,1113.1 L2010.0,1133.3 L2011.0,1153.3 L2012.0,1171.1 L2013.0,1185.3 L2014.0,1198.3 L2015.0,1210.5 L2016.0,1222.1 L2017.0,1233.5 L2018.0,1249.1 L2019.0,1264.1 L2020.0,1281.7 L2021.0,1298.7 L2022.0,1318.3 L2023.0,1337.1 L2024.0,1357.1 L2025.0,1381.2 L2026.0,1401.2 L2027.0,1413.0 L2028.0,1422.1 L2029.0,1429.3 L2030.0,1432.0 L2031.0,1431.6 L2032.0,1431.6 L2033.0,1430.4 L2034.0,1430.1 L2035.0,1429.2 L2036.0,1429.6 L2037.0,1430.5 L2038.0,1433.1 L2039.0,1434.3 L2040.0,1436.2 L2041.0,1436.2 L2042.0,1433.9 L2043.0,1432.2 L2044.0,1428.6 L2045.0,1425.2 L2046.0,1424.0 L2047.0,1421.2 L2048.0,1420.0 L2049.0,1419.0 L2050.0,1417.7 L2051.0,1416.2 L2052.0,1417.8 L2053.0,1420.7 L2054.0,1424.0 L2055.0,1427.9 L2056.0,1434.0 L2057.0,1443.5 L2058.0,1455.2 L2059.0,1462.1 L2060.0,1468.9 L2061.0,1473.8 L2062.0,1477.9 L2063.0,1480.3 L2064.0,1482.2 L2065.0,1483.6 L2066.0,1485.4 L2067.0,1484.9 L2068.0,1484.6 L2069.0,1483.1 L2070.0,1481.5 L2071.0,1479.2 L2072.0,1475.6 L2073.0,1472.6 L2074.0,1468.4 L2075.0,1460.8 L2076.0,1453.6 L2077.0,1446.0 L2078.0,1442.0 L2079.0,1438.4 L2080.0,1435.5 L2081.0,1433.9 L2082.0,1432.6 L2083.0,1432.1 L2084.0,1434.5 L2085.0,1438.5 L2086.0,1443.7 L2087.0,1447.2 L2088.0,1451.8 L2089.0,1455.5 L2090.0,1459.9 L2091.0,1464.4 L2092.0,1468.6 L2093.0,1470.8 L2094.0,1474.1 L2095.0,1475.5 L2096.0,1477.8 L2097.0,1478.7 L2098.0,1481.2 L2099.0,1482.3 L2100.0,1485.7 L2101.0,1487.7 L2102.0,1491.2 L2103.0,1492.4 L2104.0,1494.0 L2105.0,1492.2 L2106.0,1491.9 L2107.0,1489.9 L2108.0,1488.1 L2109.0,1484.5 L2110.0,1483.0 L2111.0,1478.5 L2112.0,1471.2 L2113.0,1460.7 L2114.0,1449.3 L2115.0,1435.9 L2116.0,1420.2 L2117.0,1402.4 L2118.0,1384.2 L2119.0,1362.5 L2120.0,1346.0 L2121.0,1327.5 L2122.0,1315.5 L2123.0,1311.1 L2124.0,1307.7 L2125.0,1305.6 L2126.0,1310.0 L2127.0,1312.9 L2128.0,1319.9 L2129.0,1324.8 L2130.0,1328.6 L2131.0,1333.5 L2132.0,1339.1 L2133.0,1342.9 L2134.0,1347.4 L2135.0,1348.2 L2136.0,1351.5 L2137.0,1350.4 L2138.0,1349.7 L2139.0,1345.6 L2140.0,1344.6 L2141.0,1341.3 L2142.0,1335.9 L2143.0,1332.1 L2144.0,1332.2 L2145.0,1329.5 L2146.0,1328.9 L2147.0,1326.1 L2148.0,1327.1 L2149.0,1325.1 L2150.0,1326.4 L2151.0,1322.3 L2152.0,1322.4 L2153.0,1321.5 L2154.0,1322.2 L2155.0,1319.1 L2156.0,1320.2 L2157.0,1315.8 L2158.0,1315.6 L2159.0,1312.9 L2160.0,1312.9 L2161.0,1308.0 L2162.0,1308.3 L2163.0,1302.0 L2164.0,1302.0 L2165.0,1297.6 L2166.0,1296.4 L2167.0,1291.2 L2168.0,1288.2 L2169.0,1284.4 L2170.0,1279.2 L2171.0,1274.7 L2172.0,1273.1 L2173.0,1264.9 L2174.0,1262.1 L2175.0,1255.2 L2176.0,1253.3 L2177.0,1245.7 L2178.0,1244.2 L2179.0,1239.0 L2180.0,1236.7 L2181.0,1232.0 L2182.0,1231.5 L2183.0,1224.6 L2184.0,1225.2 L2185.0,1221.3 L2186.0,1217.1 L2187.0,1211.9 L2188.0,1211.1 L2189.0,1205.6 L2190.0,1202.8 L2191.0,1201.8 L2192.0,1196.9 L2193.0,1196.1 L2194.0,1190.1 L2195.0,1185.7 L2196.0,1186.4 L2197.0,1179.8 L2198.0,1177.3 L2199.0,1173.4 L2200.0,1172.1 L2201.0,1166.9 L2202.0,1164.6 L2203.0,1158.8 L2204.0,1159.2 L2205.0,1153.6 L2206.0,1152.3 L2207.0,1147.9 L2208.0,1148.4 L2209.0,1144.4 L2210.0,1143.6 L2211.0,1138.5 L2212.0,1137.0 L2213.0,1132.4 L2214.0,1132.3 L2215.0,1127.2 L2216.0,1127.3 L2217.0,1124.4 L2218.0,1122.8 L2219.0,1118.9 L2220.0,1116.3 L2221.0,1111.8 L2222.0,1112.2 L2223.0,1106.4 L2224.0,1106.8 L2225.0,1101.3 L2226.0,1100.8 L2227.0,1097.0 L2228.0,1095.1 L2229.0,1090.6 L2230.0,1085.9 L2231.0,1084.6 L2232.0,1080.6 L2233.0,1077.0 L2234.0,1073.2 L2235.0,1072.3 L2236.0,1066.4 L2237.0,1061.9 L2238.0,1054.8 L2239.0,1050.7 L2240.0,1045.2 L2241.0,1035.4 L2242.0,1033.0 L2243.0,1027.5 L2244.0,1022.8 L2245.0,1019.0 L2246.0,1019.9 L2247.0,1013.8 L2248.0,1012.6 L2249.0,1009.3 L2250.0,1012.3 L2251.0,1010.7 L2252.0,1008.0 L2253.0,1007.0 L2254.0,1006.7 L2255.0,1002.3 L2256.0,1004.4 L2257.0,999.6 L2258.0,1000.9 L2259.0,996.5 L2260.0,997.9 L2261.0,994.7 L2262.0,993.6 L2263.0,993.2 L2264.0,992.8 L2265.0,990.2 L2266.0,987.3 L2267.0,987.4 L2268.0,983.2 L2269.0,978.4 L2270.0,977.1 L2271.0,975.5 L2272.0,969.8 L2273.0,966.8 L2274.0,966.0 L2275.0,960.3 L2276.0,960.9 L2277.0,954.4 L2278.0,950.4 L2279.0,948.4 L2280.0,948.2 L2281.0,943.0 L2282.0,943.2 L2283.0,938.3 L2284.0,933.7 L2285.0,931.5 L2286.0,932.7 L2287.0,927.6 L2288.0,927.5 L2289.0,924.5 L2290.0,918.6 L2291.0,919.8 L2292.0,913.5 L2293.0,911.7 L2294.0,913.5 L2295.0,907.2 L2296.0,909.6 L2297.0,907.5 L2298.0,907.8 L2299.0,901.8 L2300.0,904.6 L2301.0,896.4 L2302.0,903.1 L2303.0,894.9 L2304.0,896.0 L2305.0,885.1 L2306.0,895.6 L2307.0,886.7 L2308.0,895.0 L2309.0,880.4 L2310.0,892.0 L2311.0,880.6 L2312.0,880.6 L2313.0,866.2 L2314.0,890.1 L2315.0,860.3 L2316.0,882.8 L2317.0,866.6 L2318.0,870.6 L2319.0,856.1 L2320.0,876.0 L2321.0,843.9 L2322.0,864.5 L2323.0,851.3 L2324.0,860.1 L2325.0,838.1 L2326.0,867.4 L2327.0,844.5 L2328.0,836.1 L2329.0,839.2 L2330.0,865.2 L2331.0,837.4 L2332.0,839.2 L2333.0,836.7 L2334.0,845.5 L2335.0,837.3 L2336.0,848.6 L2337.0,850.5 L2338.0,864.1 L2339.0,836.1 L2340.0,858.2 L2341.0,871.9 L2342.0,862.3 L2343.0,866.1 L2344.0,870.2 L2345.0,834.4 L2346.0,836.3 L2347.0,842.4 L2348.0,852.3 L2349.0,858.8 L2350.0,857.4 L2351.0,826.3 L2352.0,848.9 L2353.0,831.0 L2354.0,859.3 L2355.0,850.8 L2356.0,850.0 L2357.0,832.8 L2358.0,846.3 L2359.0,807.9 L2360.0,831.7 L2361.0,835.6 L2362.0,832.8 L2363.0,791.6 L2364.0,865.7 L2365.0,781.3 L2366.0,833.8 L2367.0,765.0 L2368.0,741.0 L2369.0,760.0 L2370.0,775.4 L2371.0,801.3 L2372.0,791.3 L2373.0,801.9 L2374.0,802.1 L2375.0,812.2 L2376.0,854.3 L2377.0,791.3 L2378.0,833.5 L2379.0,782.6 L2380.0,839.2 L2381.0,821.7" fill="none" stroke="#000000" stroke-width="9" stroke-linejoin="round" stroke-linecap="butt"/>
</g>
<line x1="630.2" y1="517" x2="630.2" y2="560" stroke="#ff0000" stroke-width="2.4"/>
<line x1="831.9" y1="788" x2="831.9" y2="834" stroke="#ff0000" stroke-width="2.4"/>
<line x1="1648.9" y1="297" x2="1648.9" y2="341" stroke="#ff0000" stroke-width="2.4"/>
<line x1="1756.7" y1="503.5" x2="1756.7" y2="548" stroke="#ff0000" stroke-width="2.4"/>
<line x1="1830.3" y1="702" x2="1830.3" y2="746" stroke="#ff0000" stroke-width="2.4"/>
<line x1="1853.6" y1="743.5" x2="1853.6" y2="788" stroke="#ff0000" stroke-width="2.4"/>
<line x1="1965.1" y1="451.5" x2="1965.1" y2="496" stroke="#ff0000" stroke-width="2.4"/>
<line x1="1997.0" y1="258" x2="1997.0" y2="302.5" stroke="#ff0000" stroke-width="2.4"/>
<line x1="2049.7" y1="641" x2="2049.7" y2="685.5" stroke="#ff0000" stroke-width="2.4"/>
<line x1="2125.1" y1="547" x2="2125.1" y2="591.5" stroke="#ff0000" stroke-width="2.4"/>

<g font-size="75" text-anchor="middle">
<text x="173" y="1919">4000</text>
<text x="785.5" y="1919">3000</text>
<text x="1399" y="1919">2000</text>
<text x="2011" y="1919">1000</text>
</g>
<text x="863.5" y="2079" font-size="93">Wavenumber (cm<tspan font-size="42" dy="-43" dx="-3">−</tspan><tspan font-size="54" dy="10" dx="9">1</tspan><tspan dy="33" dx="9">)</tspan></text>
<text transform="translate(90,1274) rotate(-90)" font-size="93" textLength="763" lengthAdjust="spacingAndGlyphs">Transmittance (%)</text>
<g stroke-width="9.5" stroke-linecap="round">
<line x1="802.5" y1="114" x2="953.5" y2="114" stroke="#000"/>
<line x1="802.5" y1="197" x2="953.5" y2="197" stroke="#ff0000"/>
<line x1="802.5" y1="279.7" x2="953.5" y2="279.7" stroke="#009300"/>
<line x1="802.5" y1="361.7" x2="953.5" y2="361.7" stroke="#cf33ff"/>
</g>
<g font-size="67">
<text x="972" y="136">B</text>
<text x="972" y="218.7">B-HNT+GO</text>
<text x="972" y="301.5">B-LDH+GO</text>
<text x="972" y="384">B-HNT@LDH+GO</text>
</g>
<text transform="translate(649.5,490.5) rotate(-90)" font-size="75" >3255</text>
<text transform="translate(848.5,764.5) rotate(-90)" font-size="75" >2926</text>
<text transform="translate(1666,268) rotate(-90)" font-size="75" >1593</text>
<text transform="translate(1773.5,473.5) rotate(-90)" font-size="75" >1417</text>
<text transform="translate(1822,677) rotate(-90)" font-size="58" >1297</text>
<text transform="translate(1903.5,672) rotate(-90)" font-size="58" >1259</text>
<text transform="translate(1944.2,426.5) rotate(-90)" font-size="75" >1077</text>
<text transform="translate(2014.2,227.5) rotate(-90)" font-size="75" >1025</text>
<text transform="translate(2086.8,612.5) rotate(-90)" font-size="75" >939</text>
<text transform="translate(2164.5,497.5) rotate(-90)" font-size="75" >816</text>

<text x="1392" y="798.7" font-size="76">1747</text>
<line x1="1514.7" y1="819.3" x2="1527" y2="865" stroke="#000" stroke-width="2.4"/>
<polygon points="1514.7,864.8 1536.7,858.9 1538.1,902.9" fill="#000"/>
<g fill="none" stroke="#000" stroke-width="2.2">
<path d="M1917,425.5 L1934,429 L1944,427.5 L1966,433.5"/>
<path d="M1883.6,674 L1884.2,686.5 L1854.6,713 L1854.2,724.5"/>
<path d="M2138.7,499 L2137.5,507 L2126.5,519.5 L2125.4,528.5"/>
</g>
</svg>
</body></html>
